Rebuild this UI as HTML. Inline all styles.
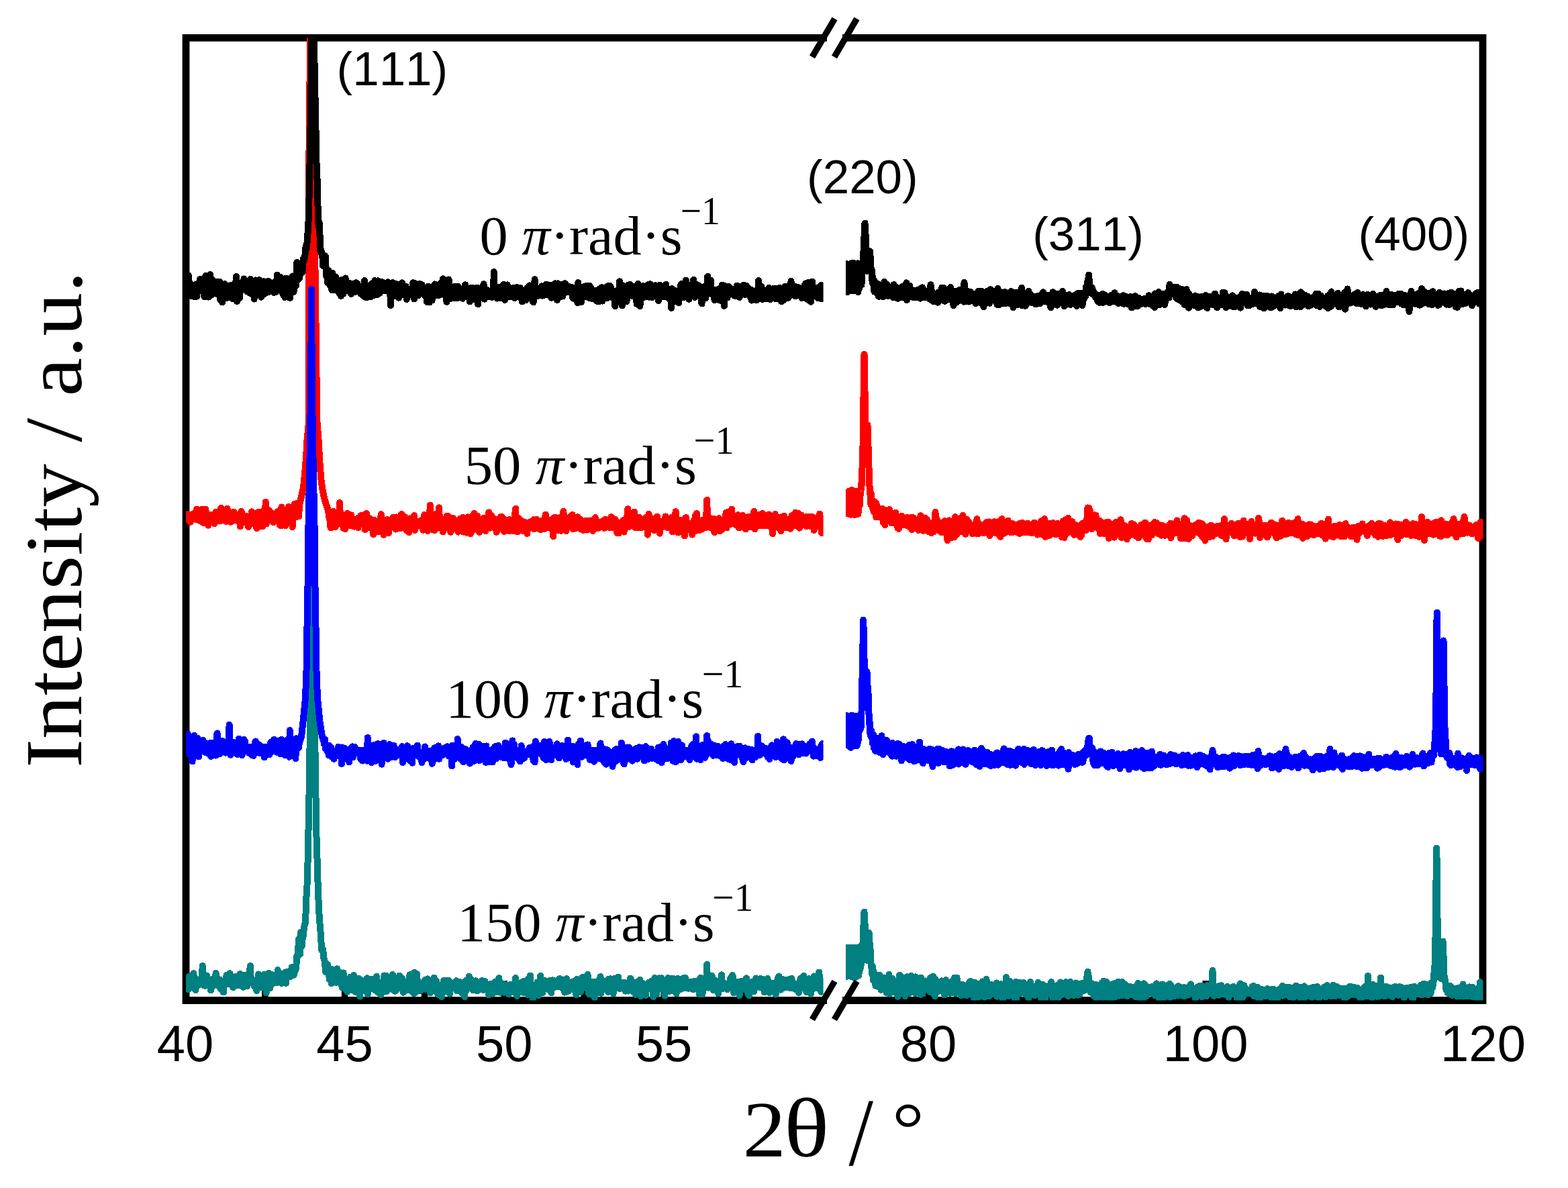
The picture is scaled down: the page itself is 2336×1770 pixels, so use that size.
<!DOCTYPE html>
<html><head><meta charset="utf-8"><title>XRD</title><style>html,body{margin:0;padding:0;background:#fff;overflow:hidden}svg{display:block;font-kerning:none}text{font-kerning:none;font-feature-settings:"kern" 0}.ax{font-family:"Liberation Sans",Arial,sans-serif}.sf{font-family:"Liberation Serif","Times New Roman",serif}</style></head><body>
<svg width="2336" height="1770" viewBox="0 0 2336 1770">
<rect width="2336" height="1770" fill="#fff"/>
<defs><clipPath id="cl"><rect x="277.0" y="56.3" width="949.6" height="1434.2"/></clipPath><clipPath id="cr"><rect x="1260.0" y="56.3" width="949.5" height="1434.2"/></clipPath></defs>
<path d="M271.6 56.3H1232.0M1255.0 56.3H2214.4M271.6 1490.5H1232.0M1255.0 1490.5H2214.4M277.0 56.3V1490.5M2209.0 56.3V1490.5" stroke="#000" stroke-width="10.8" fill="none"/>
<path d="M513.6 1490.5V1461.1M751.3 1490.5V1461.1M989.0 1490.5V1461.1M394.8 1490.5V1476.1M632.5 1490.5V1476.1M870.1 1490.5V1476.1M1107.8 1490.5V1476.1M1383.0 1490.5V1461.1M1796.2 1490.5V1461.1M1589.6 1490.5V1476.1M2002.9 1490.5V1476.1" stroke="#000" stroke-width="9.5" fill="none"/>
<g fill="none" stroke-width="10" stroke-linejoin="round" stroke-linecap="butt" shape-rendering="crispEdges">
<polyline clip-path="url(#cl)" stroke="#ff0000" points="277.0,763.8 277.9,766.4 278.9,766.1 279.8,773.4 280.8,769.8 281.7,772.4 282.7,777.5 283.6,777.6 284.6,774.9 285.5,768.5 286.5,766.3 287.4,765.9 288.4,769.2 289.3,771.3 290.3,764.9 291.2,763.7 292.2,773.8 293.1,758.7 294.1,770.5 295.0,774.7 296.0,764.8 296.9,764.0 297.9,766.4 298.8,776.3 299.8,770.9 300.7,758.7 301.7,768.8 302.6,778.9 303.6,778.7 304.5,776.2 305.5,770.2 306.4,759.0 307.4,773.1 308.3,770.7 309.3,772.4 310.2,782.7 311.2,773.2 312.1,773.9 313.1,776.2 314.0,770.2 315.0,767.3 315.9,766.8 316.9,777.4 317.8,775.5 318.8,768.6 319.7,780.1 320.7,773.3 321.6,762.7 322.6,776.3 323.5,771.1 324.5,762.8 325.4,775.7 326.4,769.7 327.3,769.4 328.3,776.3 329.2,756.8 330.2,763.2 331.1,769.2 332.1,773.9 333.0,767.5 334.0,765.2 334.9,764.9 335.9,771.4 336.8,777.0 337.8,762.1 338.7,757.7 339.7,770.2 340.6,769.6 341.6,765.9 342.5,776.6 343.5,777.9 344.4,768.4 345.4,769.9 346.3,776.3 347.3,769.4 348.2,762.6 349.2,771.9 350.1,766.1 351.1,774.7 352.0,768.9 353.0,771.1 353.9,776.1 354.9,771.6 355.8,768.0 356.8,765.5 357.7,784.5 358.7,780.2 359.6,762.0 360.6,765.2 361.5,776.6 362.5,768.4 363.4,772.7 364.4,778.3 365.3,773.5 366.3,771.7 367.2,769.3 368.2,772.0 369.1,775.3 370.1,784.8 371.0,780.1 372.0,771.3 372.9,779.1 373.9,773.5 374.8,762.4 375.8,772.0 376.7,779.7 377.7,768.6 378.6,779.3 379.6,770.6 380.5,773.0 381.5,764.5 382.4,787.2 383.4,776.0 384.3,779.9 385.3,769.7 386.2,762.6 387.2,781.3 388.1,767.9 389.1,784.4 390.0,771.7 391.0,784.2 391.9,767.8 392.9,760.6 393.8,777.8 394.8,772.5 395.7,748.0 396.7,780.3 397.6,766.8 398.6,764.0 399.5,764.9 400.5,761.3 401.4,760.4 402.4,764.1 403.3,766.3 404.3,769.9 405.2,764.6 406.2,772.0 407.1,778.2 408.1,771.3 409.0,775.8 410.0,766.4 410.9,774.8 411.9,775.9 412.8,768.1 413.8,761.9 414.7,771.2 415.7,772.3 416.6,782.2 417.6,769.4 418.5,783.5 419.5,755.4 420.4,769.9 421.4,768.5 422.3,769.2 423.3,768.1 424.2,771.4 425.2,783.0 426.1,770.6 427.1,779.8 428.0,770.8 429.0,772.1 429.9,754.9 430.9,771.8 431.8,775.2 432.8,763.1 433.7,766.6 434.7,764.7 435.6,785.0 436.6,763.4 437.5,765.0 438.5,751.0 439.4,758.6 440.4,770.6 441.3,760.1 442.3,749.6 443.2,766.3 444.2,768.7 445.1,769.5 446.0,752.0 449.0,740.0 452.0,726.0 454.0,706.0 456.0,682.0 457.5,655.0 459.5,635.0 460.2,560.0 460.3,420.0 460.2,250.0 460.9,193.0 461.2,145.0 461.8,100.0 462.0,20.0 465.0,20.0 466.0,100.0 467.0,250.0 469.5,400.0 471.5,560.0 472.4,628.0 474.5,655.0 476.5,690.0 478.5,715.0 480.5,730.0 483.0,742.0 486.0,752.0 489.0,760.0 489.8,766.7 490.7,773.1 491.7,775.5 492.6,786.4 493.6,774.5 494.5,778.4 495.5,774.4 496.4,761.7 497.4,784.7 498.3,781.1 499.3,785.3 500.2,767.5 501.2,779.0 502.1,778.4 503.1,766.5 504.0,780.6 505.0,773.3 505.9,749.0 506.9,766.2 507.8,771.6 508.8,772.8 509.7,767.3 510.7,778.2 511.6,786.8 512.6,777.7 513.5,782.2 514.5,788.1 515.4,781.8 516.4,775.4 517.3,764.8 518.3,780.4 519.2,775.8 520.2,774.9 521.1,783.1 522.1,781.9 523.0,767.3 524.0,779.8 524.9,775.9 525.9,784.0 526.8,778.0 527.8,784.6 528.7,773.6 529.7,775.5 530.6,774.5 531.6,777.0 532.5,776.6 533.5,786.4 534.4,771.5 535.4,778.9 536.3,770.3 537.3,768.4 538.2,774.2 539.2,767.9 540.1,779.5 541.1,773.3 542.0,774.7 543.0,781.5 543.9,789.1 544.9,774.7 545.8,764.9 546.8,775.7 547.7,778.4 548.7,786.2 549.6,778.2 550.6,772.4 551.5,784.9 552.5,786.0 553.4,777.3 554.4,780.6 555.3,781.1 556.3,796.4 557.2,774.5 558.2,775.9 559.1,778.1 560.1,783.7 561.0,776.7 562.0,782.3 562.9,785.0 563.9,792.4 564.8,777.8 565.8,776.7 566.7,776.6 567.7,766.2 568.6,770.8 569.6,780.0 570.5,780.0 571.5,796.8 572.4,787.5 573.4,784.3 574.3,789.1 575.3,774.6 576.2,775.1 577.2,773.9 578.1,777.9 579.1,793.9 580.0,777.3 581.0,774.7 581.9,779.4 582.9,784.9 583.8,782.4 584.8,785.0 585.7,770.9 586.7,773.2 587.6,777.6 588.6,779.9 589.5,788.6 590.5,770.5 591.4,783.7 592.4,777.7 593.3,783.5 594.3,774.8 595.2,769.7 596.2,787.5 597.1,781.4 598.1,766.0 599.0,784.2 600.0,772.5 600.9,778.7 601.9,779.3 602.8,770.1 603.8,787.0 604.7,775.8 605.7,790.6 606.6,782.8 607.6,783.0 608.5,781.3 609.5,793.1 610.4,772.4 611.4,774.1 612.3,775.0 613.3,787.4 614.2,786.8 615.2,780.1 616.1,781.4 617.1,768.2 618.0,789.8 619.0,778.1 619.9,780.5 620.9,777.5 621.8,784.2 622.8,778.2 623.7,780.5 624.7,780.3 625.6,776.2 626.6,775.5 627.5,782.4 628.5,782.4 629.4,784.8 630.4,789.8 631.3,771.3 632.3,767.1 633.2,777.0 634.2,788.6 635.1,779.5 636.1,767.3 637.0,790.8 638.0,783.3 638.9,769.5 639.9,774.1 640.8,752.5 641.8,776.1 642.7,779.0 643.7,783.5 644.6,780.0 645.6,789.6 646.5,778.6 647.5,790.3 648.4,775.9 649.4,771.9 650.3,765.5 651.3,774.0 652.2,780.6 653.2,786.6 654.1,756.3 655.1,779.7 656.0,773.3 657.0,784.9 657.9,776.5 658.9,782.1 659.8,792.5 660.8,780.8 661.7,778.9 662.7,786.9 663.6,782.1 664.6,778.7 665.5,769.0 666.5,777.7 667.4,768.6 668.4,781.5 669.3,784.1 670.3,780.6 671.2,792.8 672.2,772.3 673.1,783.0 674.1,780.4 675.0,772.0 676.0,783.6 676.9,785.9 677.9,787.9 678.8,779.0 679.8,784.6 680.7,775.7 681.7,790.5 682.6,792.6 683.6,781.4 684.5,781.9 685.5,773.0 686.4,780.5 687.4,777.8 688.3,781.9 689.3,770.7 690.2,792.6 691.2,781.7 692.1,787.9 693.1,783.8 694.0,778.5 695.0,793.7 695.9,788.2 696.9,770.3 697.8,780.4 698.8,778.9 699.7,775.0 700.7,795.4 701.6,772.2 702.6,791.0 703.5,768.7 704.5,790.0 705.4,776.9 706.4,765.1 707.3,782.4 708.3,783.9 709.2,774.3 710.2,788.0 711.1,769.0 712.1,788.4 713.0,784.7 714.0,793.0 714.9,777.9 715.9,786.7 716.8,776.6 717.8,786.3 718.7,782.4 719.7,786.2 720.6,771.9 721.6,784.1 722.5,783.2 723.5,791.1 724.4,778.4 725.4,779.5 726.3,785.1 727.3,784.3 728.2,763.4 729.2,778.8 730.1,786.6 731.1,778.3 732.0,768.0 733.0,778.3 733.9,780.5 734.9,774.0 735.8,781.2 736.8,773.1 737.7,779.3 738.7,781.2 739.6,792.8 740.6,783.0 741.5,789.3 742.5,782.1 743.4,772.8 744.4,772.7 745.3,786.0 746.3,769.6 747.2,769.6 748.2,786.8 749.1,775.0 750.1,772.7 751.0,791.9 752.0,774.6 752.9,784.7 753.9,780.3 754.8,781.5 755.8,780.9 756.7,787.5 757.7,790.7 758.6,774.1 759.6,791.0 760.5,779.1 761.5,779.4 762.4,785.2 763.4,776.8 764.3,774.2 765.3,790.9 766.2,776.6 767.2,766.0 768.1,758.0 769.1,782.7 770.0,779.5 771.0,792.4 771.9,772.5 772.9,772.2 773.8,780.8 774.8,789.7 775.7,790.2 776.7,780.8 777.6,776.2 778.6,781.5 779.5,791.0 780.5,780.1 781.4,777.6 782.4,783.7 783.3,782.0 784.3,781.4 785.2,794.9 786.2,785.2 787.1,781.5 788.1,778.3 789.0,778.9 790.0,784.2 790.9,785.7 791.9,776.4 792.8,777.1 793.8,778.9 794.7,774.3 795.7,788.2 796.6,774.6 797.6,781.8 798.5,787.5 799.5,774.0 800.4,774.9 801.4,779.8 802.3,784.2 803.3,782.0 804.2,781.1 805.2,789.3 806.1,776.9 807.1,776.1 808.0,785.2 809.0,781.6 809.9,787.3 810.9,788.2 811.8,773.3 812.8,766.5 813.7,784.6 814.7,780.5 815.6,782.7 816.6,774.6 817.5,786.3 818.5,779.3 819.4,784.6 820.4,787.1 821.3,781.6 822.3,780.2 823.2,776.1 824.2,799.2 825.1,771.5 826.1,785.7 827.0,770.6 828.0,775.2 828.9,790.5 829.9,775.8 830.8,788.1 831.8,778.2 832.7,786.8 833.7,771.2 834.6,773.1 835.6,790.8 836.5,783.1 837.5,773.7 838.4,777.5 839.4,761.7 840.3,778.5 841.3,771.6 842.2,774.1 843.2,791.0 844.1,776.9 845.1,776.4 846.0,773.0 847.0,785.2 847.9,784.4 848.9,774.9 849.8,769.3 850.8,779.2 851.7,781.5 852.7,767.0 853.6,788.4 854.6,774.3 855.5,781.2 856.5,775.2 857.4,775.3 858.4,786.9 859.3,781.2 860.3,770.2 861.2,782.9 862.2,786.2 863.1,779.4 864.1,787.9 865.0,774.2 866.0,787.1 866.9,782.1 867.9,781.7 868.8,790.0 869.8,785.3 870.7,778.4 871.7,784.0 872.6,775.9 873.6,784.0 874.5,789.6 875.5,788.9 876.4,775.8 877.4,779.0 878.3,785.0 879.3,784.6 880.2,775.5 881.2,782.1 882.1,783.2 883.1,791.0 884.0,782.2 885.0,780.0 885.9,773.2 886.9,771.2 887.8,786.9 888.8,781.1 889.7,777.5 890.7,787.3 891.6,783.9 892.6,779.9 893.5,785.5 894.5,777.8 895.4,785.5 896.4,783.2 897.3,777.7 898.3,778.0 899.2,775.6 900.2,786.8 901.1,779.7 902.1,773.7 903.0,785.6 904.0,784.0 904.9,780.7 905.9,782.1 906.8,778.1 907.8,776.6 908.7,786.5 909.7,772.9 910.6,770.1 911.6,771.5 912.5,786.5 913.5,773.3 914.4,778.7 915.4,775.6 916.3,773.6 917.3,779.4 918.2,779.7 919.2,793.9 920.1,778.2 921.1,782.3 922.0,794.3 923.0,790.3 923.9,784.9 924.9,786.8 925.8,780.5 926.8,786.4 927.7,782.6 928.7,775.1 929.6,792.6 930.6,780.7 931.5,784.7 932.5,777.3 933.4,772.5 934.4,768.8 935.3,758.3 936.3,784.9 937.2,768.8 938.2,777.1 939.1,780.7 940.1,770.6 941.0,777.2 942.0,783.3 942.9,779.0 943.9,784.6 944.8,762.6 945.8,784.7 946.7,786.5 947.7,771.5 948.6,785.9 949.6,778.0 950.5,779.0 951.5,784.5 952.4,770.6 953.4,786.3 954.3,775.8 955.3,786.0 956.2,780.2 957.2,782.6 958.1,775.1 959.1,780.5 960.0,772.8 961.0,776.0 961.9,771.1 962.9,780.2 963.8,773.9 964.8,796.7 965.7,774.7 966.7,765.9 967.6,788.3 968.6,778.2 969.5,784.0 970.5,781.1 971.4,775.3 972.4,776.6 973.3,773.3 974.3,790.3 975.2,785.1 976.2,771.7 977.1,787.3 978.1,784.6 979.0,769.5 980.0,775.0 980.9,783.3 981.9,782.5 982.8,794.6 983.8,780.6 984.7,787.0 985.7,777.3 986.6,779.8 987.6,780.6 988.5,780.1 989.5,782.0 990.4,781.1 991.4,769.4 992.3,785.3 993.3,772.8 994.2,786.2 995.2,785.0 996.1,785.3 997.1,776.5 998.0,782.6 999.0,785.5 999.9,777.0 1000.9,770.5 1001.8,792.3 1002.8,779.0 1003.7,777.2 1004.7,773.7 1005.6,772.1 1006.6,762.2 1007.5,773.1 1008.5,773.0 1009.4,774.5 1010.4,793.6 1011.3,779.6 1012.3,777.7 1013.2,780.9 1014.2,775.1 1015.1,789.3 1016.1,788.8 1017.0,775.2 1018.0,787.2 1018.9,785.6 1019.9,798.5 1020.8,789.0 1021.8,770.9 1022.7,777.6 1023.7,785.9 1024.6,784.3 1025.6,788.9 1026.5,779.4 1027.5,782.1 1028.4,790.3 1029.4,784.4 1030.3,780.1 1031.3,796.6 1032.2,779.7 1033.2,781.3 1034.1,774.3 1035.1,782.0 1036.0,768.4 1037.0,790.7 1037.9,765.0 1038.9,786.0 1039.8,774.2 1040.8,782.4 1041.7,790.3 1042.7,780.0 1043.6,783.3 1044.6,775.5 1045.5,777.7 1046.5,788.1 1047.4,774.7 1048.4,785.7 1049.3,781.0 1050.3,776.9 1051.2,786.2 1052.2,773.1 1053.1,745.0 1054.1,770.5 1055.0,777.8 1056.0,770.7 1056.9,780.7 1057.9,785.6 1058.8,786.3 1059.8,782.3 1060.7,781.0 1061.7,776.2 1062.6,776.7 1063.6,772.8 1064.5,793.3 1065.5,778.6 1066.4,778.2 1067.4,780.1 1068.3,773.5 1069.3,790.2 1070.2,775.9 1071.2,772.3 1072.1,791.1 1073.1,787.1 1074.0,783.5 1075.0,775.7 1075.9,788.8 1076.9,778.9 1077.8,780.7 1078.8,786.6 1079.7,780.0 1080.7,775.6 1081.6,764.0 1082.6,786.4 1083.5,763.2 1084.5,773.2 1085.4,772.1 1086.4,774.4 1087.3,775.2 1088.3,781.0 1089.2,775.5 1090.2,758.6 1091.1,777.4 1092.1,769.3 1093.0,774.5 1094.0,768.6 1094.9,776.3 1095.9,775.3 1096.8,782.6 1097.8,780.2 1098.7,783.7 1099.7,767.2 1100.6,786.5 1101.6,773.7 1102.5,780.1 1103.5,781.7 1104.4,782.3 1105.4,776.3 1106.3,767.7 1107.3,782.8 1108.2,786.0 1109.2,785.4 1110.1,785.2 1111.1,788.5 1112.0,783.8 1113.0,774.8 1113.9,782.5 1114.9,770.0 1115.8,777.1 1116.8,778.2 1117.7,784.9 1118.7,775.3 1119.6,775.8 1120.6,773.7 1121.5,780.6 1122.5,765.6 1123.4,761.9 1124.4,788.5 1125.3,785.4 1126.3,781.5 1127.2,779.5 1128.2,772.9 1129.1,766.8 1130.1,779.8 1131.0,769.3 1132.0,783.3 1132.9,778.6 1133.9,767.3 1134.8,778.5 1135.8,764.9 1136.7,771.9 1137.7,783.1 1138.6,771.9 1139.6,774.7 1140.5,772.3 1141.5,773.1 1142.4,783.2 1143.4,779.8 1144.3,780.1 1145.3,766.4 1146.2,775.1 1147.2,771.8 1148.1,777.8 1149.1,770.1 1150.0,783.5 1151.0,795.1 1151.9,778.0 1152.9,773.2 1153.8,782.4 1154.8,766.0 1155.7,773.4 1156.7,782.8 1157.6,774.5 1158.6,776.8 1159.5,786.2 1160.5,778.5 1161.4,780.8 1162.4,770.5 1163.3,791.3 1164.3,774.4 1165.2,780.0 1166.2,777.5 1167.1,776.6 1168.1,768.6 1169.0,775.1 1170.0,777.6 1170.9,786.3 1171.9,778.0 1172.8,774.0 1173.8,778.3 1174.7,778.1 1175.7,776.2 1176.6,778.6 1177.6,787.8 1178.5,776.9 1179.5,768.2 1180.4,773.2 1181.4,774.8 1182.3,771.9 1183.3,777.8 1184.2,783.0 1185.2,763.5 1186.1,769.3 1187.1,773.4 1188.0,780.9 1189.0,764.5 1189.9,783.2 1190.9,786.7 1191.8,784.5 1192.8,778.1 1193.7,767.7 1194.7,773.0 1195.6,772.1 1196.6,777.1 1197.5,782.4 1198.5,780.2 1199.4,770.4 1200.4,782.8 1201.3,784.2 1202.3,769.9 1203.2,769.8 1204.2,773.0 1205.1,778.5 1206.1,769.5 1207.0,784.1 1208.0,777.3 1208.9,781.6 1209.9,772.3 1210.8,770.3 1211.8,778.9 1212.7,789.9 1213.7,781.5 1214.6,785.3 1215.6,773.4 1216.5,772.4 1217.5,776.2 1218.4,780.3 1219.4,776.5 1220.3,768.2 1221.3,765.5 1222.2,777.8 1223.2,774.8 1224.1,794.1 1225.1,771.9 1226.0,769.3"/>
<polyline clip-path="url(#cr)" stroke="#ff0000" points="1260.0,735.7 1260.5,765.1 1261.0,735.6 1261.5,764.9 1262.0,733.4 1262.5,764.7 1263.0,733.3 1263.5,764.8 1264.0,736.1 1264.5,763.3 1265.0,731.5 1265.5,765.0 1266.0,736.5 1266.5,766.6 1267.0,736.0 1267.5,766.9 1268.0,732.9 1268.5,765.2 1269.0,730.0 1269.5,764.1 1270.0,734.9 1270.5,762.7 1271.0,730.9 1271.5,763.1 1272.0,734.4 1272.5,766.8 1273.0,737.9 1273.5,767.2 1274.0,731.8 1274.5,761.6 1275.0,734.3 1275.5,766.6 1276.0,731.6 1276.5,764.3 1277.0,733.4 1277.5,765.1 1278.0,733.8 1278.5,765.8 1279.0,735.7 1279.5,747.5 1280.0,752.7 1280.5,750.2 1281.0,752.6 1281.5,736.8 1282.0,736.8 1282.5,731.5 1283.0,721.1 1283.5,724.3 1284.0,717.1 1284.5,697.5 1285.0,691.8 1285.5,664.9 1286.0,632.0 1286.5,591.9 1287.0,557.9 1287.5,527.8 1288.0,551.1 1288.5,582.7 1289.0,602.4 1289.5,638.5 1290.0,649.7 1290.5,660.8 1291.0,652.0 1291.5,647.0 1292.0,641.3 1292.5,633.6 1293.0,651.4 1293.5,664.6 1294.0,686.3 1294.5,696.6 1295.0,718.0 1295.5,724.9 1296.0,727.8 1296.5,737.7 1297.0,745.4 1297.5,751.7 1298.0,735.8 1298.5,751.5 1299.0,750.9 1299.5,749.3 1300.0,745.5 1300.5,759.2 1301.0,746.5 1301.5,757.5 1302.0,762.4 1302.5,747.3 1303.0,755.2 1303.5,750.3 1304.0,759.5 1304.5,767.0 1305.0,770.4 1305.5,750.0 1306.0,757.1 1306.5,764.5 1307.0,769.8 1307.5,763.8 1308.0,757.8 1308.5,763.9 1309.0,762.6 1309.5,761.9 1310.0,759.3 1310.5,765.8 1311.0,765.7 1311.5,763.8 1312.0,763.4 1312.5,757.8 1313.0,762.5 1313.5,772.1 1314.0,764.7 1314.5,758.1 1315.0,773.6 1315.5,769.5 1316.0,778.4 1316.5,767.4 1317.0,764.8 1317.5,759.6 1318.0,775.1 1318.5,782.2 1319.0,763.8 1319.5,765.0 1320.0,772.1 1320.5,764.5 1321.0,767.8 1321.5,767.5 1322.0,770.7 1322.5,775.9 1323.0,770.2 1323.5,775.3 1324.0,768.2 1324.5,772.5 1325.0,759.1 1325.5,763.1 1326.0,775.6 1326.5,768.2 1327.0,774.8 1327.5,774.8 1328.0,779.3 1328.5,776.7 1329.0,778.0 1329.5,772.0 1330.0,769.0 1330.5,769.0 1331.0,770.5 1331.5,767.2 1332.0,770.6 1332.5,773.3 1333.0,775.3 1333.5,772.3 1334.0,763.8 1334.5,774.1 1335.0,776.0 1335.5,780.9 1336.0,778.3 1336.5,771.7 1337.0,771.5 1337.5,786.7 1338.0,780.0 1338.5,786.1 1339.0,787.9 1339.5,771.9 1340.0,778.7 1340.5,779.2 1341.0,779.8 1341.5,779.8 1342.0,778.0 1342.5,777.9 1343.0,768.8 1343.5,776.2 1344.0,773.1 1344.5,777.9 1345.0,774.7 1345.5,780.8 1346.0,781.9 1346.5,779.2 1347.0,779.3 1347.5,778.2 1348.0,775.3 1348.5,776.9 1349.0,775.2 1349.5,780.1 1350.0,778.1 1350.5,781.3 1351.0,770.9 1351.5,783.1 1352.0,774.1 1352.5,774.4 1353.0,777.4 1353.5,775.4 1354.0,780.2 1354.5,775.5 1355.0,772.9 1355.5,774.2 1356.0,786.1 1356.5,779.2 1357.0,772.6 1357.5,779.1 1358.0,770.6 1358.5,789.0 1359.0,770.9 1359.5,782.0 1360.0,782.4 1360.5,771.6 1361.0,781.2 1361.5,785.1 1362.0,782.3 1362.5,781.2 1363.0,785.1 1363.5,780.8 1364.0,781.8 1364.5,779.4 1365.0,783.6 1365.5,775.0 1366.0,784.6 1366.5,777.6 1367.0,774.4 1367.5,782.5 1368.0,789.8 1368.5,785.9 1369.0,777.9 1369.5,784.6 1370.0,778.3 1370.5,780.2 1371.0,781.5 1371.5,768.3 1372.0,782.2 1372.5,775.5 1373.0,777.4 1373.5,773.2 1374.0,773.1 1374.5,776.3 1375.0,786.0 1375.5,790.7 1376.0,781.5 1376.5,787.7 1377.0,780.3 1377.5,771.4 1378.0,782.7 1378.5,784.4 1379.0,779.7 1379.5,783.8 1380.0,785.3 1380.5,777.5 1381.0,774.2 1381.5,781.2 1382.0,781.3 1382.5,780.6 1383.0,788.0 1383.5,792.1 1384.0,780.5 1384.5,786.6 1385.0,788.0 1385.5,786.8 1386.0,788.7 1386.5,780.9 1387.0,787.2 1387.5,794.3 1388.0,787.7 1388.5,780.0 1389.0,786.7 1389.5,790.4 1390.0,785.6 1390.5,780.5 1391.0,792.1 1391.5,776.9 1392.0,786.6 1392.5,783.8 1393.0,777.4 1393.5,763.0 1394.0,786.0 1394.5,777.8 1395.0,787.5 1395.5,781.9 1396.0,774.0 1396.5,780.7 1397.0,785.9 1397.5,788.0 1398.0,785.5 1398.5,784.9 1399.0,787.3 1399.5,783.7 1400.0,791.3 1400.5,785.7 1401.0,786.5 1401.5,787.9 1402.0,779.2 1402.5,781.1 1403.0,793.3 1403.5,786.8 1404.0,783.4 1404.5,786.9 1405.0,782.4 1405.5,786.5 1406.0,781.4 1406.5,786.6 1407.0,776.4 1407.5,792.3 1408.0,782.3 1408.5,776.4 1409.0,783.9 1409.5,783.1 1410.0,786.0 1410.5,778.9 1411.0,787.3 1411.5,805.0 1412.0,778.2 1412.5,787.0 1413.0,783.5 1413.5,786.2 1414.0,775.3 1414.5,778.9 1415.0,787.7 1415.5,785.0 1416.0,794.2 1416.5,781.4 1417.0,786.2 1417.5,801.2 1418.0,781.1 1418.5,780.4 1419.0,785.1 1419.5,785.1 1420.0,789.9 1420.5,786.0 1421.0,781.2 1421.5,786.5 1422.0,799.8 1422.5,792.3 1423.0,770.2 1423.5,784.6 1424.0,780.6 1424.5,788.8 1425.0,784.5 1425.5,796.0 1426.0,790.5 1426.5,790.3 1427.0,786.5 1427.5,785.3 1428.0,787.4 1428.5,792.6 1429.0,788.4 1429.5,783.6 1430.0,792.5 1430.5,786.6 1431.0,785.1 1431.5,781.2 1432.0,782.5 1432.5,782.1 1433.0,770.3 1433.5,791.2 1434.0,788.7 1434.5,768.0 1435.0,791.4 1435.5,788.0 1436.0,787.7 1436.5,772.2 1437.0,784.4 1437.5,788.6 1438.0,794.5 1438.5,795.8 1439.0,793.5 1439.5,779.4 1440.0,773.7 1440.5,788.9 1441.0,785.9 1441.5,791.0 1442.0,785.1 1442.5,787.0 1443.0,777.6 1443.5,788.3 1444.0,783.4 1444.5,787.7 1445.0,788.4 1445.5,785.2 1446.0,787.6 1446.5,785.8 1447.0,790.0 1447.5,788.6 1448.0,782.9 1448.5,782.7 1449.0,795.4 1449.5,785.4 1450.0,791.4 1450.5,788.1 1451.0,782.9 1451.5,781.9 1452.0,786.6 1452.5,787.4 1453.0,789.4 1453.5,779.1 1454.0,782.8 1454.5,785.5 1455.0,794.8 1455.5,773.2 1456.0,788.5 1456.5,783.1 1457.0,788.4 1457.5,783.4 1458.0,788.1 1458.5,794.7 1459.0,788.1 1459.5,788.5 1460.0,788.2 1460.5,782.1 1461.0,789.1 1461.5,785.0 1462.0,781.8 1462.5,786.0 1463.0,785.0 1463.5,790.3 1464.0,786.0 1464.5,783.4 1465.0,794.2 1465.5,791.7 1466.0,793.2 1466.5,789.6 1467.0,785.7 1467.5,784.0 1468.0,784.8 1468.5,791.5 1469.0,786.9 1469.5,778.3 1470.0,786.1 1470.5,778.6 1471.0,787.3 1471.5,779.8 1472.0,779.5 1472.5,787.1 1473.0,786.0 1473.5,777.4 1474.0,790.5 1474.5,798.2 1475.0,778.4 1475.5,796.4 1476.0,782.7 1476.5,783.8 1477.0,785.5 1477.5,778.6 1478.0,793.6 1478.5,789.2 1479.0,782.4 1479.5,785.0 1480.0,778.3 1480.5,784.7 1481.0,791.7 1481.5,777.2 1482.0,784.2 1482.5,787.4 1483.0,792.3 1483.5,794.0 1484.0,784.1 1484.5,782.6 1485.0,789.1 1485.5,784.7 1486.0,785.0 1486.5,792.6 1487.0,795.9 1487.5,788.2 1488.0,785.7 1488.5,789.8 1489.0,776.4 1489.5,786.6 1490.0,781.0 1490.5,799.8 1491.0,790.7 1491.5,787.6 1492.0,785.7 1492.5,773.1 1493.0,790.7 1493.5,795.7 1494.0,782.9 1494.5,790.6 1495.0,790.8 1495.5,778.4 1496.0,792.0 1496.5,794.3 1497.0,788.1 1497.5,786.6 1498.0,791.2 1498.5,778.5 1499.0,787.4 1499.5,792.7 1500.0,780.2 1500.5,792.4 1501.0,784.7 1501.5,775.6 1502.0,786.4 1502.5,781.7 1503.0,788.7 1503.5,780.6 1504.0,792.7 1504.5,783.0 1505.0,788.9 1505.5,783.8 1506.0,785.3 1506.5,793.5 1507.0,788.2 1507.5,784.9 1508.0,780.2 1508.5,793.4 1509.0,791.0 1509.5,785.3 1510.0,788.4 1510.5,781.5 1511.0,781.5 1511.5,782.6 1512.0,789.0 1512.5,788.7 1513.0,783.0 1513.5,791.1 1514.0,791.4 1514.5,788.0 1515.0,792.8 1515.5,785.5 1516.0,786.5 1516.5,789.7 1517.0,786.9 1517.5,791.5 1518.0,780.3 1518.5,794.9 1519.0,782.9 1519.5,786.3 1520.0,779.7 1520.5,790.4 1521.0,794.1 1521.5,793.0 1522.0,791.7 1522.5,778.7 1523.0,782.9 1523.5,784.7 1524.0,782.1 1524.5,793.3 1525.0,788.2 1525.5,787.1 1526.0,789.9 1526.5,782.0 1527.0,782.3 1527.5,782.4 1528.0,789.9 1528.5,789.1 1529.0,790.4 1529.5,793.1 1530.0,779.9 1530.5,784.2 1531.0,788.1 1531.5,779.9 1532.0,784.4 1532.5,792.8 1533.0,793.3 1533.5,793.1 1534.0,787.5 1534.5,786.1 1535.0,793.2 1535.5,785.3 1536.0,789.1 1536.5,794.5 1537.0,785.3 1537.5,784.0 1538.0,787.3 1538.5,790.6 1539.0,790.0 1539.5,788.2 1540.0,790.4 1540.5,778.6 1541.0,782.7 1541.5,788.2 1542.0,782.3 1542.5,780.1 1543.0,780.8 1543.5,782.4 1544.0,786.4 1544.5,781.8 1545.0,788.7 1545.5,796.6 1546.0,786.6 1546.5,794.3 1547.0,789.0 1547.5,781.3 1548.0,786.0 1548.5,782.1 1549.0,791.6 1549.5,781.2 1550.0,794.6 1550.5,790.6 1551.0,776.4 1551.5,791.7 1552.0,795.9 1552.5,783.2 1553.0,792.8 1553.5,777.7 1554.0,788.8 1554.5,778.4 1555.0,790.1 1555.5,777.8 1556.0,773.2 1556.5,789.6 1557.0,799.9 1557.5,784.3 1558.0,792.0 1558.5,788.1 1559.0,785.7 1559.5,790.9 1560.0,796.4 1560.5,780.8 1561.0,790.6 1561.5,789.4 1562.0,779.8 1562.5,796.3 1563.0,798.1 1563.5,782.4 1564.0,797.0 1564.5,787.9 1565.0,786.7 1565.5,795.7 1566.0,788.8 1566.5,789.3 1567.0,795.8 1567.5,794.6 1568.0,792.4 1568.5,780.0 1569.0,779.0 1569.5,793.7 1570.0,782.5 1570.5,788.4 1571.0,781.8 1571.5,786.6 1572.0,780.6 1572.5,796.5 1573.0,782.1 1573.5,786.9 1574.0,786.6 1574.5,794.2 1575.0,779.9 1575.5,787.4 1576.0,786.5 1576.5,790.5 1577.0,790.2 1577.5,785.1 1578.0,788.9 1578.5,785.6 1579.0,790.2 1579.5,787.1 1580.0,784.1 1580.5,787.5 1581.0,789.6 1581.5,800.0 1582.0,785.0 1582.5,789.3 1583.0,795.6 1583.5,776.4 1584.0,778.2 1584.5,781.2 1585.0,787.0 1585.5,800.9 1586.0,789.8 1586.5,794.2 1587.0,786.4 1587.5,774.3 1588.0,775.1 1588.5,793.2 1589.0,788.6 1589.5,780.6 1590.0,793.7 1590.5,779.3 1591.0,793.8 1591.5,772.0 1592.0,783.5 1592.5,781.6 1593.0,792.2 1593.5,781.7 1594.0,792.3 1594.5,781.1 1595.0,792.0 1595.5,788.1 1596.0,785.2 1596.5,782.7 1597.0,788.9 1597.5,777.3 1598.0,786.0 1598.5,785.4 1599.0,791.2 1599.5,780.7 1600.0,796.8 1600.5,785.8 1601.0,781.3 1601.5,795.0 1602.0,796.5 1602.5,786.4 1603.0,782.5 1603.5,787.4 1604.0,783.6 1604.5,785.6 1605.0,795.7 1605.5,789.4 1606.0,788.0 1606.5,789.0 1607.0,786.8 1607.5,791.6 1608.0,791.8 1608.5,784.9 1609.0,787.4 1609.5,799.9 1610.0,788.9 1610.5,785.5 1611.0,797.5 1611.5,786.3 1612.0,780.1 1612.5,789.6 1613.0,780.8 1613.5,782.7 1614.0,786.9 1614.5,784.1 1615.0,780.2 1615.5,780.8 1616.0,780.0 1616.5,788.8 1617.0,777.6 1617.5,777.2 1618.0,789.9 1618.5,774.0 1619.0,782.8 1619.5,778.9 1620.0,767.4 1620.5,756.4 1621.0,762.5 1621.5,760.4 1622.0,760.7 1622.5,757.0 1623.0,766.3 1623.5,771.2 1624.0,761.8 1624.5,778.6 1625.0,774.5 1625.5,772.6 1626.0,775.4 1626.5,788.4 1627.0,784.3 1627.5,769.6 1628.0,779.8 1628.5,778.3 1629.0,777.4 1629.5,774.6 1630.0,768.1 1630.5,779.0 1631.0,767.4 1631.5,769.2 1632.0,767.5 1632.5,767.6 1633.0,777.3 1633.5,777.5 1634.0,773.9 1634.5,774.3 1635.0,778.4 1635.5,787.5 1636.0,783.9 1636.5,785.3 1637.0,782.9 1637.5,783.8 1638.0,786.8 1638.5,776.0 1639.0,795.0 1639.5,782.3 1640.0,783.7 1640.5,794.2 1641.0,788.3 1641.5,787.5 1642.0,784.2 1642.5,779.1 1643.0,788.6 1643.5,794.2 1644.0,782.9 1644.5,795.3 1645.0,781.8 1645.5,784.0 1646.0,790.8 1646.5,788.1 1647.0,791.9 1647.5,784.2 1648.0,782.7 1648.5,778.2 1649.0,781.8 1649.5,782.6 1650.0,780.7 1650.5,790.1 1651.0,784.9 1651.5,777.8 1652.0,802.0 1652.5,784.1 1653.0,781.8 1653.5,795.4 1654.0,795.0 1654.5,782.5 1655.0,780.7 1655.5,783.3 1656.0,794.9 1656.5,787.1 1657.0,784.4 1657.5,788.7 1658.0,795.4 1658.5,781.3 1659.0,786.8 1659.5,781.4 1660.0,800.7 1660.5,798.8 1661.0,794.1 1661.5,788.3 1662.0,792.6 1662.5,777.6 1663.0,790.5 1663.5,781.8 1664.0,781.9 1664.5,785.3 1665.0,787.2 1665.5,792.2 1666.0,792.9 1666.5,790.6 1667.0,784.0 1667.5,792.8 1668.0,788.5 1668.5,795.6 1669.0,784.2 1669.5,774.3 1670.0,786.7 1670.5,800.9 1671.0,791.8 1671.5,788.2 1672.0,794.1 1672.5,792.0 1673.0,791.8 1673.5,786.5 1674.0,789.8 1674.5,790.4 1675.0,785.9 1675.5,783.3 1676.0,790.1 1676.5,794.6 1677.0,792.9 1677.5,792.1 1678.0,792.2 1678.5,803.4 1679.0,790.9 1679.5,795.1 1680.0,800.1 1680.5,789.8 1681.0,790.9 1681.5,795.2 1682.0,798.7 1682.5,791.2 1683.0,791.5 1683.5,790.1 1684.0,783.1 1684.5,795.6 1685.0,788.2 1685.5,780.3 1686.0,788.9 1686.5,780.3 1687.0,784.2 1687.5,789.8 1688.0,784.7 1688.5,795.5 1689.0,781.8 1689.5,791.2 1690.0,792.8 1690.5,797.7 1691.0,794.8 1691.5,791.1 1692.0,790.2 1692.5,789.5 1693.0,796.0 1693.5,786.3 1694.0,792.7 1694.5,789.4 1695.0,791.2 1695.5,788.5 1696.0,801.5 1696.5,786.4 1697.0,791.3 1697.5,791.4 1698.0,793.2 1698.5,792.4 1699.0,792.3 1699.5,795.3 1700.0,781.9 1700.5,790.1 1701.0,783.3 1701.5,791.3 1702.0,783.6 1702.5,784.8 1703.0,789.7 1703.5,797.6 1704.0,793.1 1704.5,791.6 1705.0,797.6 1705.5,784.9 1706.0,778.7 1706.5,787.7 1707.0,788.5 1707.5,796.7 1708.0,801.6 1708.5,782.8 1709.0,803.4 1709.5,798.5 1710.0,794.6 1710.5,792.0 1711.0,803.1 1711.5,790.5 1712.0,787.5 1712.5,790.8 1713.0,782.6 1713.5,792.6 1714.0,789.4 1714.5,791.8 1715.0,792.0 1715.5,784.3 1716.0,797.1 1716.5,784.6 1717.0,794.8 1717.5,781.4 1718.0,792.0 1718.5,785.6 1719.0,790.3 1719.5,786.5 1720.0,778.2 1720.5,784.0 1721.0,790.4 1721.5,793.4 1722.0,782.1 1722.5,778.6 1723.0,785.3 1723.5,788.9 1724.0,786.6 1724.5,785.7 1725.0,794.6 1725.5,795.3 1726.0,794.1 1726.5,785.0 1727.0,790.5 1727.5,789.0 1728.0,782.3 1728.5,794.8 1729.0,790.5 1729.5,787.4 1730.0,797.7 1730.5,794.2 1731.0,794.7 1731.5,796.5 1732.0,793.9 1732.5,783.2 1733.0,788.0 1733.5,795.5 1734.0,785.9 1734.5,790.2 1735.0,792.2 1735.5,797.8 1736.0,797.1 1736.5,794.9 1737.0,789.0 1737.5,795.0 1738.0,792.9 1738.5,789.2 1739.0,797.4 1739.5,792.7 1740.0,786.0 1740.5,796.9 1741.0,788.7 1741.5,793.2 1742.0,781.8 1742.5,789.9 1743.0,784.9 1743.5,784.8 1744.0,779.7 1744.5,801.6 1745.0,789.2 1745.5,791.3 1746.0,796.0 1746.5,789.4 1747.0,792.8 1747.5,782.7 1748.0,791.1 1748.5,787.8 1749.0,792.7 1749.5,791.0 1750.0,782.5 1750.5,780.0 1751.0,784.5 1751.5,794.0 1752.0,792.3 1752.5,792.2 1753.0,779.1 1753.5,775.5 1754.0,786.7 1754.5,788.2 1755.0,786.8 1755.5,791.9 1756.0,789.1 1756.5,783.6 1757.0,785.3 1757.5,790.8 1758.0,790.4 1758.5,789.6 1759.0,802.2 1759.5,788.6 1760.0,790.6 1760.5,784.6 1761.0,788.1 1761.5,792.8 1762.0,793.1 1762.5,789.1 1763.0,792.1 1763.5,790.3 1764.0,779.8 1764.5,772.3 1765.0,802.4 1765.5,794.5 1766.0,789.7 1766.5,780.6 1767.0,783.1 1767.5,797.3 1768.0,774.9 1768.5,788.2 1769.0,794.7 1769.5,790.8 1770.0,794.1 1770.5,789.3 1771.0,802.9 1771.5,784.4 1772.0,782.6 1772.5,791.5 1773.0,797.7 1773.5,789.7 1774.0,795.6 1774.5,787.1 1775.0,783.6 1775.5,797.5 1776.0,798.4 1776.5,798.2 1777.0,787.6 1777.5,783.8 1778.0,783.7 1778.5,788.8 1779.0,793.1 1779.5,792.7 1780.0,782.3 1780.5,791.0 1781.0,790.1 1781.5,790.5 1782.0,789.9 1782.5,788.9 1783.0,793.2 1783.5,790.7 1784.0,791.2 1784.5,786.3 1785.0,792.1 1785.5,789.3 1786.0,778.6 1786.5,792.6 1787.0,788.6 1787.5,795.0 1788.0,789.1 1788.5,789.5 1789.0,791.1 1789.5,789.9 1790.0,787.6 1790.5,780.3 1791.0,799.9 1791.5,781.5 1792.0,788.1 1792.5,793.5 1793.0,792.0 1793.5,793.0 1794.0,794.1 1794.5,796.8 1795.0,791.6 1795.5,805.6 1796.0,784.5 1796.5,791.2 1797.0,788.0 1797.5,787.0 1798.0,791.5 1798.5,797.8 1799.0,786.2 1799.5,786.2 1800.0,793.9 1800.5,792.9 1801.0,800.5 1801.5,795.5 1802.0,791.2 1802.5,788.2 1803.0,791.1 1803.5,789.0 1804.0,782.6 1804.5,790.0 1805.0,789.0 1805.5,788.7 1806.0,787.7 1806.5,799.1 1807.0,793.7 1807.5,795.0 1808.0,786.7 1808.5,784.5 1809.0,788.5 1809.5,791.3 1810.0,788.1 1810.5,789.0 1811.0,795.2 1811.5,791.6 1812.0,784.7 1812.5,787.7 1813.0,786.4 1813.5,791.0 1814.0,783.7 1814.5,789.0 1815.0,793.7 1815.5,790.1 1816.0,785.1 1816.5,786.7 1817.0,790.7 1817.5,792.6 1818.0,794.5 1818.5,789.2 1819.0,782.9 1819.5,797.7 1820.0,791.6 1820.5,792.2 1821.0,791.6 1821.5,784.4 1822.0,788.3 1822.5,791.4 1823.0,795.5 1823.5,790.3 1824.0,773.2 1824.5,788.7 1825.0,791.9 1825.5,797.0 1826.0,793.8 1826.5,803.4 1827.0,797.7 1827.5,797.2 1828.0,795.1 1828.5,782.6 1829.0,794.5 1829.5,793.2 1830.0,787.2 1830.5,793.1 1831.0,792.2 1831.5,787.5 1832.0,789.3 1832.5,788.6 1833.0,791.2 1833.5,787.7 1834.0,792.9 1834.5,779.7 1835.0,788.5 1835.5,780.9 1836.0,787.4 1836.5,792.8 1837.0,790.1 1837.5,789.4 1838.0,790.4 1838.5,798.4 1839.0,784.0 1839.5,794.8 1840.0,781.9 1840.5,787.5 1841.0,790.9 1841.5,785.4 1842.0,791.1 1842.5,793.9 1843.0,783.6 1843.5,789.6 1844.0,788.0 1844.5,779.6 1845.0,789.0 1845.5,785.7 1846.0,797.2 1846.5,785.3 1847.0,799.1 1847.5,787.1 1848.0,800.4 1848.5,792.9 1849.0,792.4 1849.5,794.3 1850.0,794.8 1850.5,797.5 1851.0,799.3 1851.5,788.1 1852.0,783.3 1852.5,775.6 1853.0,787.9 1853.5,794.1 1854.0,792.0 1854.5,790.6 1855.0,788.1 1855.5,786.6 1856.0,788.5 1856.5,792.1 1857.0,780.5 1857.5,793.9 1858.0,782.2 1858.5,789.1 1859.0,786.6 1859.5,788.0 1860.0,784.4 1860.5,783.8 1861.0,788.7 1861.5,784.1 1862.0,803.2 1862.5,787.7 1863.0,786.4 1863.5,787.0 1864.0,784.2 1864.5,776.8 1865.0,788.6 1865.5,791.6 1866.0,781.9 1866.5,790.0 1867.0,783.5 1867.5,789.8 1868.0,791.9 1868.5,792.6 1869.0,792.3 1869.5,786.2 1870.0,794.7 1870.5,787.5 1871.0,791.8 1871.5,793.7 1872.0,788.3 1872.5,783.0 1873.0,793.2 1873.5,783.9 1874.0,785.2 1874.5,784.0 1875.0,772.0 1875.5,789.1 1876.0,777.9 1876.5,793.9 1877.0,801.1 1877.5,799.6 1878.0,786.9 1878.5,790.4 1879.0,792.7 1879.5,794.7 1880.0,790.1 1880.5,784.1 1881.0,794.0 1881.5,793.2 1882.0,782.8 1882.5,788.0 1883.0,791.4 1883.5,789.9 1884.0,792.7 1884.5,794.2 1885.0,792.8 1885.5,789.3 1886.0,782.7 1886.5,793.2 1887.0,797.5 1887.5,800.5 1888.0,789.7 1888.5,789.7 1889.0,797.7 1889.5,797.6 1890.0,791.8 1890.5,793.7 1891.0,785.8 1891.5,793.1 1892.0,785.5 1892.5,789.1 1893.0,789.3 1893.5,787.4 1894.0,778.6 1894.5,785.5 1895.0,791.7 1895.5,789.6 1896.0,787.8 1896.5,792.2 1897.0,793.6 1897.5,794.5 1898.0,785.6 1898.5,790.0 1899.0,788.1 1899.5,785.2 1900.0,781.9 1900.5,789.4 1901.0,785.2 1901.5,801.5 1902.0,789.4 1902.5,788.7 1903.0,787.8 1903.5,800.0 1904.0,784.9 1904.5,789.0 1905.0,785.8 1905.5,789.2 1906.0,789.7 1906.5,795.8 1907.0,782.3 1907.5,789.8 1908.0,798.6 1908.5,787.2 1909.0,789.0 1909.5,785.1 1910.0,775.9 1910.5,789.3 1911.0,796.2 1911.5,787.4 1912.0,780.0 1912.5,791.3 1913.0,790.3 1913.5,795.3 1914.0,794.8 1914.5,788.5 1915.0,792.0 1915.5,780.3 1916.0,795.9 1916.5,790.9 1917.0,795.7 1917.5,795.6 1918.0,788.4 1918.5,789.1 1919.0,785.2 1919.5,778.8 1920.0,789.2 1920.5,790.7 1921.0,784.1 1921.5,793.7 1922.0,790.4 1922.5,792.3 1923.0,785.8 1923.5,780.4 1924.0,794.1 1924.5,793.2 1925.0,789.3 1925.5,787.6 1926.0,788.4 1926.5,789.2 1927.0,787.2 1927.5,779.1 1928.0,794.1 1928.5,781.9 1929.0,788.1 1929.5,788.3 1930.0,791.3 1930.5,781.3 1931.0,796.4 1931.5,793.4 1932.0,794.0 1932.5,796.7 1933.0,785.6 1933.5,773.1 1934.0,791.7 1934.5,797.0 1935.0,796.2 1935.5,787.1 1936.0,789.5 1936.5,791.5 1937.0,780.3 1937.5,786.4 1938.0,786.5 1938.5,798.4 1939.0,786.5 1939.5,798.4 1940.0,790.0 1940.5,781.0 1941.0,801.9 1941.5,784.8 1942.0,793.3 1942.5,799.1 1943.0,787.1 1943.5,783.4 1944.0,795.6 1944.5,790.3 1945.0,783.4 1945.5,784.2 1946.0,787.9 1946.5,795.2 1947.0,788.5 1947.5,793.5 1948.0,798.8 1948.5,796.8 1949.0,797.7 1949.5,796.6 1950.0,781.4 1950.5,796.5 1951.0,791.8 1951.5,789.3 1952.0,784.2 1952.5,781.5 1953.0,784.0 1953.5,789.9 1954.0,783.7 1954.5,785.6 1955.0,786.7 1955.5,793.6 1956.0,788.4 1956.5,789.2 1957.0,797.1 1957.5,788.3 1958.0,793.2 1958.5,784.3 1959.0,791.8 1959.5,790.6 1960.0,790.9 1960.5,787.5 1961.0,784.5 1961.5,788.4 1962.0,787.5 1962.5,795.5 1963.0,794.9 1963.5,783.6 1964.0,793.4 1964.5,787.4 1965.0,792.5 1965.5,787.4 1966.0,782.1 1966.5,795.4 1967.0,792.4 1967.5,783.4 1968.0,779.9 1968.5,787.1 1969.0,783.7 1969.5,788.0 1970.0,793.3 1970.5,797.9 1971.0,788.1 1971.5,797.4 1972.0,796.2 1972.5,787.7 1973.0,781.1 1973.5,794.6 1974.0,793.3 1974.5,802.6 1975.0,797.7 1975.5,794.2 1976.0,799.0 1976.5,784.4 1977.0,791.0 1977.5,788.6 1978.0,799.3 1978.5,793.0 1979.0,773.7 1979.5,797.4 1980.0,785.2 1980.5,794.2 1981.0,787.5 1981.5,791.4 1982.0,793.4 1982.5,791.1 1983.0,785.0 1983.5,797.5 1984.0,792.2 1984.5,790.0 1985.0,793.8 1985.5,787.2 1986.0,800.2 1986.5,791.3 1987.0,792.0 1987.5,791.9 1988.0,785.2 1988.5,783.8 1989.0,791.3 1989.5,792.0 1990.0,797.3 1990.5,792.5 1991.0,784.3 1991.5,792.9 1992.0,794.5 1992.5,795.5 1993.0,791.9 1993.5,783.6 1994.0,796.3 1994.5,786.2 1995.0,793.2 1995.5,781.7 1996.0,794.2 1996.5,785.9 1997.0,795.9 1997.5,799.5 1998.0,796.3 1998.5,783.9 1999.0,785.0 1999.5,785.4 2000.0,793.6 2000.5,791.9 2001.0,790.9 2001.5,791.7 2002.0,793.2 2002.5,793.5 2003.0,799.1 2003.5,789.7 2004.0,791.1 2004.5,780.1 2005.0,783.0 2005.5,786.3 2006.0,783.7 2006.5,791.2 2007.0,795.6 2007.5,787.7 2008.0,787.4 2008.5,787.2 2009.0,790.7 2009.5,787.0 2010.0,792.2 2010.5,791.5 2011.0,791.8 2011.5,794.0 2012.0,790.1 2012.5,790.7 2013.0,799.3 2013.5,789.6 2014.0,794.1 2014.5,790.2 2015.0,787.4 2015.5,787.4 2016.0,785.5 2016.5,789.9 2017.0,786.6 2017.5,787.6 2018.0,796.3 2018.5,789.1 2019.0,795.9 2019.5,791.2 2020.0,794.4 2020.5,786.5 2021.0,790.6 2021.5,803.9 2022.0,794.2 2022.5,795.1 2023.0,791.0 2023.5,794.3 2024.0,783.5 2024.5,785.2 2025.0,792.0 2025.5,794.1 2026.0,787.5 2026.5,788.7 2027.0,787.8 2027.5,788.7 2028.0,783.3 2028.5,782.0 2029.0,789.2 2029.5,780.4 2030.0,784.4 2030.5,786.1 2031.0,784.0 2031.5,790.9 2032.0,787.2 2032.5,789.2 2033.0,784.2 2033.5,785.6 2034.0,792.3 2034.5,791.5 2035.0,787.1 2035.5,791.5 2036.0,790.5 2036.5,790.4 2037.0,798.0 2037.5,787.4 2038.0,791.7 2038.5,791.7 2039.0,788.2 2039.5,783.2 2040.0,793.1 2040.5,790.8 2041.0,789.7 2041.5,789.5 2042.0,789.5 2042.5,784.6 2043.0,790.9 2043.5,779.8 2044.0,789.2 2044.5,781.4 2045.0,787.5 2045.5,793.1 2046.0,787.9 2046.5,786.8 2047.0,792.0 2047.5,787.9 2048.0,787.1 2048.5,787.2 2049.0,797.3 2049.5,792.8 2050.0,791.8 2050.5,782.9 2051.0,792.5 2051.5,782.3 2052.0,791.8 2052.5,783.2 2053.0,799.6 2053.5,780.2 2054.0,795.7 2054.5,793.4 2055.0,779.7 2055.5,787.9 2056.0,796.8 2056.5,795.2 2057.0,780.3 2057.5,786.3 2058.0,782.9 2058.5,783.6 2059.0,785.7 2059.5,798.9 2060.0,789.8 2060.5,787.9 2061.0,787.3 2061.5,792.6 2062.0,792.7 2062.5,784.2 2063.0,796.9 2063.5,783.3 2064.0,787.6 2064.5,791.4 2065.0,798.1 2065.5,787.2 2066.0,790.5 2066.5,796.0 2067.0,792.3 2067.5,795.0 2068.0,794.5 2068.5,790.4 2069.0,792.4 2069.5,793.9 2070.0,788.8 2070.5,797.5 2071.0,778.4 2071.5,784.1 2072.0,796.7 2072.5,791.2 2073.0,785.5 2073.5,791.0 2074.0,794.7 2074.5,786.0 2075.0,793.0 2075.5,788.3 2076.0,788.3 2076.5,788.6 2077.0,794.8 2077.5,783.0 2078.0,787.0 2078.5,792.4 2079.0,782.4 2079.5,780.5 2080.0,791.9 2080.5,788.9 2081.0,788.1 2081.5,789.6 2082.0,783.7 2082.5,804.4 2083.0,783.6 2083.5,786.5 2084.0,781.3 2084.5,786.6 2085.0,797.0 2085.5,788.9 2086.0,792.0 2086.5,786.3 2087.0,798.5 2087.5,789.7 2088.0,782.2 2088.5,792.9 2089.0,786.8 2089.5,792.0 2090.0,789.5 2090.5,790.2 2091.0,789.5 2091.5,784.0 2092.0,780.8 2092.5,794.0 2093.0,788.0 2093.5,790.3 2094.0,786.3 2094.5,778.0 2095.0,782.0 2095.5,796.2 2096.0,784.6 2096.5,786.7 2097.0,780.9 2097.5,785.9 2098.0,786.7 2098.5,787.5 2099.0,788.3 2099.5,785.3 2100.0,785.6 2100.5,788.6 2101.0,790.4 2101.5,787.9 2102.0,797.9 2102.5,789.8 2103.0,789.5 2103.5,785.2 2104.0,794.1 2104.5,783.2 2105.0,780.0 2105.5,783.4 2106.0,791.9 2106.5,782.5 2107.0,795.5 2107.5,788.5 2108.0,780.5 2108.5,787.4 2109.0,798.1 2109.5,784.0 2110.0,781.6 2110.5,791.3 2111.0,795.5 2111.5,794.0 2112.0,786.8 2112.5,789.5 2113.0,790.3 2113.5,794.8 2114.0,800.0 2114.5,787.9 2115.0,795.4 2115.5,786.7 2116.0,791.6 2116.5,783.5 2117.0,784.4 2117.5,790.7 2118.0,770.0 2118.5,793.2 2119.0,785.6 2119.5,788.9 2120.0,788.0 2120.5,786.7 2121.0,789.2 2121.5,794.2 2122.0,805.0 2122.5,782.1 2123.0,790.0 2123.5,787.5 2124.0,783.6 2124.5,790.0 2125.0,783.8 2125.5,788.0 2126.0,795.0 2126.5,777.7 2127.0,789.7 2127.5,790.8 2128.0,783.3 2128.5,791.2 2129.0,790.3 2129.5,786.5 2130.0,794.8 2130.5,781.4 2131.0,791.8 2131.5,787.1 2132.0,782.7 2132.5,787.4 2133.0,786.5 2133.5,792.7 2134.0,780.4 2134.5,787.3 2135.0,785.9 2135.5,796.7 2136.0,782.4 2136.5,793.9 2137.0,779.0 2137.5,790.1 2138.0,787.6 2138.5,790.3 2139.0,784.5 2139.5,777.9 2140.0,780.0 2140.5,795.2 2141.0,789.4 2141.5,783.6 2142.0,793.0 2142.5,784.2 2143.0,784.3 2143.5,781.7 2144.0,794.4 2144.5,798.6 2145.0,783.0 2145.5,789.7 2146.0,793.3 2146.5,799.4 2147.0,775.4 2147.5,788.9 2148.0,791.5 2148.5,780.2 2149.0,790.3 2149.5,789.1 2150.0,791.9 2150.5,785.0 2151.0,790.3 2151.5,784.8 2152.0,791.3 2152.5,788.9 2153.0,786.0 2153.5,780.5 2154.0,796.8 2154.5,793.9 2155.0,792.7 2155.5,784.5 2156.0,786.1 2156.5,796.9 2157.0,791.9 2157.5,783.5 2158.0,788.2 2158.5,788.7 2159.0,786.9 2159.5,783.0 2160.0,794.6 2160.5,791.1 2161.0,786.9 2161.5,779.6 2162.0,784.9 2162.5,787.9 2163.0,792.6 2163.5,786.0 2164.0,793.9 2164.5,788.7 2165.0,784.0 2165.5,773.1 2166.0,781.7 2166.5,780.1 2167.0,787.2 2167.5,789.7 2168.0,795.3 2168.5,787.9 2169.0,781.8 2169.5,800.5 2170.0,789.6 2170.5,786.6 2171.0,786.6 2171.5,780.8 2172.0,791.3 2172.5,789.9 2173.0,796.4 2173.5,793.8 2174.0,792.6 2174.5,794.6 2175.0,786.4 2175.5,785.6 2176.0,787.7 2176.5,781.3 2177.0,787.2 2177.5,786.2 2178.0,791.5 2178.5,787.9 2179.0,777.8 2179.5,788.1 2180.0,795.5 2180.5,778.2 2181.0,783.9 2181.5,770.0 2182.0,780.9 2182.5,785.0 2183.0,788.3 2183.5,781.0 2184.0,789.5 2184.5,790.1 2185.0,781.2 2185.5,788.1 2186.0,793.7 2186.5,787.0 2187.0,790.3 2187.5,791.4 2188.0,786.7 2188.5,793.2 2189.0,790.0 2189.5,782.7 2190.0,790.7 2190.5,792.5 2191.0,792.2 2191.5,784.5 2192.0,790.4 2192.5,795.2 2193.0,789.2 2193.5,794.2 2194.0,794.9 2194.5,787.8 2195.0,791.5 2195.5,786.4 2196.0,793.6 2196.5,787.5 2197.0,785.1 2197.5,787.8 2198.0,787.6 2198.5,790.0 2199.0,790.4 2199.5,781.8 2200.0,784.5 2200.5,789.9 2201.0,790.5 2201.5,788.4 2202.0,801.9 2202.5,793.9 2203.0,787.6 2203.5,791.8 2204.0,795.1 2204.5,789.9 2205.0,778.7 2205.5,788.5 2206.0,788.3 2206.5,799.3 2207.0,778.2 2207.5,796.2 2208.0,787.2 2208.5,792.9 2209.0,786.4 2209.5,788.9"/>
<polygon points="460,632 460.2,560 460.3,420 460.2,250 460.9,193 461.2,145 461.8,100 462,56 465,56 466,100 467,250 469.5,400 471.5,560 472.4,630" fill="#ff0000" stroke="none"/>
<polyline clip-path="url(#cl)" stroke="#000000" points="277.0,415.4 277.9,418.8 278.9,418.5 279.8,426.9 280.8,410.6 281.7,428.3 282.7,421.9 283.6,437.2 284.6,437.7 285.5,441.3 286.5,436.2 287.4,429.3 288.4,436.9 289.3,442.3 290.3,424.3 291.2,434.8 292.2,429.4 293.1,441.7 294.1,422.8 295.0,427.2 296.0,432.7 296.9,431.8 297.9,416.1 298.8,432.7 299.8,428.7 300.7,427.7 301.7,428.4 302.6,431.5 303.6,414.6 304.5,442.5 305.5,422.5 306.4,411.0 307.4,428.9 308.3,441.7 309.3,425.3 310.2,442.5 311.2,442.5 312.1,422.4 313.1,409.1 314.0,419.3 315.0,439.4 315.9,422.8 316.9,417.0 317.8,418.4 318.8,429.5 319.7,429.3 320.7,436.7 321.6,437.7 322.6,421.7 323.5,428.2 324.5,420.0 325.4,430.0 326.4,419.9 327.3,419.5 328.3,447.0 329.2,429.7 330.2,434.7 331.1,450.5 332.1,435.9 333.0,428.4 334.0,429.8 334.9,423.2 335.9,438.4 336.8,426.6 337.8,443.9 338.7,426.4 339.7,426.4 340.6,425.8 341.6,434.5 342.5,430.8 343.5,440.6 344.4,424.6 345.4,431.6 346.3,445.3 347.3,427.2 348.2,433.6 349.2,442.2 350.1,433.8 351.1,423.9 352.0,412.0 353.0,449.0 353.9,432.7 354.9,439.6 355.8,425.1 356.8,444.2 357.7,433.4 358.7,429.5 359.6,421.6 360.6,432.1 361.5,425.0 362.5,427.1 363.4,415.5 364.4,424.9 365.3,430.3 366.3,418.6 367.2,429.5 368.2,434.4 369.1,426.3 370.1,423.7 371.0,423.7 372.0,436.6 372.9,416.1 373.9,426.3 374.8,425.3 375.8,430.0 376.7,428.2 377.7,419.5 378.6,445.6 379.6,430.2 380.5,417.5 381.5,421.2 382.4,429.4 383.4,433.7 384.3,417.4 385.3,434.5 386.2,417.1 387.2,421.9 388.1,435.6 389.1,442.6 390.0,427.7 391.0,425.8 391.9,438.9 392.9,419.4 393.8,430.6 394.8,430.2 395.7,436.6 396.7,430.7 397.6,426.0 398.6,433.2 399.5,418.7 400.5,434.8 401.4,422.4 402.4,420.4 403.3,424.9 404.3,428.3 405.2,433.7 406.2,426.0 407.1,433.8 408.1,435.8 409.0,426.7 410.0,419.4 410.9,435.1 411.9,429.7 412.8,409.8 413.8,419.1 414.7,428.4 415.7,415.7 416.6,421.4 417.6,412.7 418.5,430.2 419.5,428.8 420.4,428.1 421.4,438.5 422.3,423.5 423.3,423.9 424.2,442.9 425.2,415.2 426.1,431.8 427.1,414.7 428.0,427.4 429.0,442.7 429.9,427.2 430.9,418.2 431.8,444.1 432.8,419.5 433.7,421.9 434.7,425.7 435.6,411.5 436.6,431.4 437.5,434.9 438.5,427.1 439.4,422.8 440.4,417.9 441.3,425.5 442.3,391.0 443.2,414.8 444.2,416.6 445.1,396.5 446.1,414.6 447.0,408.1 448.0,406.6 448.9,405.2 449.9,406.2 450.8,402.0 451.8,386.0 452.7,389.1 453.7,383.5 454.6,379.3 455.6,366.9 456.5,370.5 457.5,362.0 458.4,349.4 459.4,333.7 460.3,305.4 461.3,255.7 462.2,208.2 463.2,148.9 464.1,84.0 465.1,12.7 466.0,-4.5 466.0,0.8 467.0,5.0 467.9,64.7 468.9,112.5 469.8,161.0 470.8,207.7 471.7,252.6 472.7,269.6 473.6,311.5 474.6,337.6 475.5,331.3 476.5,349.7 477.4,374.1 478.4,372.9 479.3,378.6 480.3,381.0 481.2,396.0 482.2,395.0 483.1,388.0 484.1,381.0 485.0,382.2 486.0,410.5 486.9,405.7 487.9,420.9 488.8,415.6 489.8,403.7 490.7,417.1 491.7,425.2 492.6,410.6 493.6,414.6 494.5,432.5 495.5,407.1 496.4,412.8 497.4,429.6 498.3,423.8 499.3,414.3 500.2,412.5 501.2,427.3 502.1,433.2 503.1,430.7 504.0,428.0 505.0,436.3 505.9,427.8 506.9,419.7 507.8,441.0 508.8,417.2 509.7,425.5 510.7,426.2 511.6,437.4 512.6,421.5 513.5,425.2 514.5,414.5 515.4,430.0 516.4,431.0 517.3,432.6 518.3,421.3 519.2,429.8 520.2,421.9 521.1,424.9 522.1,427.9 523.0,437.9 524.0,425.5 524.9,430.0 525.9,422.8 526.8,424.9 527.8,424.0 528.7,428.0 529.7,434.7 530.6,421.3 531.6,434.5 532.5,422.6 533.5,431.9 534.4,425.6 535.4,427.5 536.3,426.9 537.3,437.7 538.2,431.6 539.2,437.6 540.1,427.3 541.1,428.2 542.0,441.6 543.0,418.2 543.9,423.8 544.9,428.9 545.8,443.3 546.8,425.9 547.7,436.0 548.7,441.7 549.6,428.7 550.6,429.2 551.5,442.5 552.5,426.6 553.4,423.0 554.4,436.6 555.3,427.0 556.3,440.1 557.2,434.6 558.2,418.2 559.1,432.9 560.1,431.0 561.0,426.2 562.0,438.9 562.9,418.3 563.9,422.1 564.8,427.5 565.8,436.8 566.7,420.1 567.7,426.6 568.6,426.1 569.6,420.4 570.5,428.5 571.5,423.0 572.4,428.1 573.4,433.4 574.3,424.8 575.3,425.1 576.2,424.3 577.2,425.4 578.1,420.2 579.1,423.0 580.0,432.4 581.0,425.3 581.9,455.2 582.9,425.8 583.8,435.0 584.8,420.9 585.7,429.8 586.7,427.9 587.6,431.3 588.6,441.5 589.5,430.7 590.5,423.3 591.4,432.9 592.4,425.1 593.3,431.2 594.3,443.7 595.2,439.1 596.2,440.1 597.1,436.2 598.1,432.3 599.0,421.3 600.0,429.1 600.9,428.7 601.9,437.4 602.8,439.7 603.8,436.1 604.7,426.9 605.7,445.9 606.6,442.9 607.6,431.1 608.5,434.1 609.5,437.3 610.4,433.5 611.4,432.1 612.3,436.4 613.3,432.9 614.2,434.3 615.2,421.3 616.1,421.4 617.1,445.4 618.0,422.0 619.0,436.4 619.9,435.3 620.9,434.6 621.8,428.0 622.8,440.3 623.7,435.5 624.7,430.6 625.6,423.0 626.6,431.4 627.5,428.8 628.5,424.1 629.4,435.9 630.4,437.3 631.3,439.2 632.3,434.1 633.2,431.5 634.2,441.5 635.1,438.9 636.1,449.9 637.0,437.4 638.0,426.7 638.9,440.4 639.9,450.2 640.8,435.5 641.8,432.2 642.7,429.3 643.7,447.3 644.6,432.3 645.6,431.9 646.5,435.9 647.5,423.5 648.4,431.8 649.4,424.7 650.3,432.8 651.3,437.4 652.2,440.5 653.2,430.9 654.1,439.8 655.1,431.1 656.0,422.1 657.0,438.1 657.9,432.5 658.9,434.8 659.8,415.3 660.8,435.7 661.7,435.9 662.7,436.0 663.6,441.7 664.6,431.7 665.5,449.7 666.5,439.5 667.4,438.3 668.4,416.5 669.3,420.3 670.3,445.2 671.2,437.3 672.2,441.2 673.1,431.8 674.1,433.7 675.0,438.8 676.0,429.0 676.9,444.2 677.9,426.8 678.8,436.4 679.8,432.9 680.7,437.4 681.7,443.9 682.6,426.9 683.6,438.3 684.5,435.9 685.5,441.1 686.4,435.0 687.4,431.6 688.3,438.8 689.3,444.7 690.2,441.1 691.2,436.4 692.1,438.3 693.1,424.3 694.0,431.5 695.0,433.5 695.9,431.5 696.9,430.4 697.8,435.1 698.8,438.3 699.7,449.3 700.7,430.4 701.6,428.9 702.6,442.6 703.5,436.6 704.5,429.1 705.4,446.5 706.4,434.0 707.3,433.2 708.3,431.1 709.2,429.0 710.2,436.3 711.1,428.7 712.1,453.1 713.0,437.9 714.0,433.8 714.9,430.0 715.9,437.4 716.8,442.6 717.8,437.2 718.7,427.3 719.7,433.9 720.6,423.3 721.6,445.7 722.5,440.4 723.5,437.0 724.4,437.6 725.4,431.5 726.3,434.5 727.3,442.4 728.2,435.3 729.2,439.8 730.1,437.2 731.1,437.3 732.0,437.9 733.0,443.1 733.9,433.6 734.9,440.6 735.8,405.0 736.8,431.6 737.7,430.7 738.7,441.9 739.6,433.7 740.6,444.6 741.5,428.6 742.5,438.6 743.4,427.7 744.4,444.0 745.3,431.0 746.3,439.2 747.2,431.1 748.2,430.5 749.1,437.7 750.1,423.8 751.0,427.5 752.0,446.8 752.9,430.2 753.9,441.9 754.8,430.0 755.8,424.4 756.7,433.2 757.7,442.3 758.6,436.0 759.6,434.1 760.5,442.3 761.5,430.8 762.4,441.3 763.4,438.4 764.3,428.9 765.3,442.8 766.2,444.2 767.2,434.5 768.1,437.1 769.1,434.2 770.0,428.2 771.0,441.9 771.9,429.0 772.9,440.0 773.8,432.4 774.8,428.9 775.7,440.6 776.7,437.9 777.6,449.4 778.6,435.8 779.5,437.4 780.5,437.1 781.4,434.5 782.4,445.7 783.3,447.1 784.3,441.2 785.2,429.2 786.2,439.6 787.1,436.9 788.1,433.3 789.0,425.4 790.0,442.8 790.9,445.1 791.9,438.8 792.8,439.8 793.8,449.1 794.7,450.4 795.7,438.2 796.6,416.3 797.6,441.7 798.5,437.7 799.5,441.5 800.4,433.0 801.4,429.5 802.3,440.3 803.3,434.5 804.2,437.4 805.2,439.6 806.1,437.4 807.1,426.4 808.0,440.7 809.0,433.1 809.9,435.1 810.9,439.6 811.8,426.2 812.8,434.7 813.7,423.5 814.7,432.5 815.6,438.9 816.6,435.4 817.5,434.4 818.5,440.4 819.4,433.4 820.4,424.9 821.3,443.8 822.3,437.6 823.2,441.7 824.2,433.2 825.1,433.0 826.1,430.8 827.0,422.3 828.0,432.6 828.9,431.6 829.9,447.1 830.8,422.3 831.8,436.0 832.7,434.5 833.7,435.2 834.6,434.6 835.6,437.2 836.5,441.7 837.5,423.9 838.4,441.5 839.4,433.6 840.3,428.5 841.3,422.3 842.2,422.5 843.2,434.9 844.1,427.4 845.1,427.4 846.0,431.9 847.0,435.5 847.9,432.0 848.9,427.3 849.8,430.9 850.8,434.2 851.7,428.0 852.7,441.9 853.6,444.5 854.6,444.7 855.5,433.2 856.5,433.1 857.4,429.1 858.4,445.3 859.3,432.2 860.3,451.0 861.2,421.2 862.2,437.2 863.1,439.2 864.1,435.7 865.0,439.8 866.0,449.9 866.9,435.4 867.9,441.6 868.8,432.6 869.8,426.9 870.7,428.3 871.7,441.8 872.6,438.1 873.6,425.7 874.5,438.1 875.5,440.2 876.4,439.4 877.4,443.9 878.3,425.7 879.3,429.3 880.2,428.4 881.2,437.1 882.1,445.3 883.1,433.0 884.0,438.5 885.0,442.3 885.9,432.9 886.9,441.8 887.8,435.3 888.8,448.7 889.7,446.1 890.7,433.0 891.6,432.5 892.6,449.3 893.5,430.1 894.5,444.5 895.4,433.4 896.4,428.2 897.3,448.6 898.3,439.5 899.2,429.1 900.2,434.7 901.1,431.2 902.1,429.6 903.0,435.7 904.0,444.1 904.9,426.4 905.9,439.9 906.8,426.1 907.8,435.9 908.7,426.1 909.7,426.9 910.6,431.4 911.6,443.3 912.5,442.1 913.5,435.2 914.4,433.9 915.4,437.0 916.3,456.1 917.3,438.6 918.2,435.3 919.2,432.8 920.1,434.0 921.1,440.6 922.0,440.3 923.0,419.3 923.9,451.1 924.9,439.3 925.8,435.5 926.8,455.2 927.7,425.3 928.7,427.3 929.6,444.1 930.6,436.2 931.5,442.5 932.5,444.9 933.4,449.2 934.4,440.9 935.3,431.7 936.3,424.4 937.2,437.2 938.2,423.8 939.1,436.7 940.1,430.6 941.0,439.0 942.0,441.2 942.9,436.0 943.9,426.5 944.8,437.3 945.8,431.1 946.7,438.5 947.7,433.0 948.6,452.8 949.6,432.4 950.5,422.6 951.5,429.8 952.4,436.8 953.4,456.0 954.3,446.2 955.3,432.0 956.2,436.3 957.2,427.7 958.1,425.9 959.1,442.9 960.0,439.2 961.0,430.9 961.9,431.2 962.9,439.3 963.8,441.1 964.8,430.6 965.7,424.1 966.7,442.7 967.6,431.0 968.6,423.3 969.5,434.9 970.5,437.8 971.4,443.1 972.4,433.2 973.3,438.3 974.3,427.3 975.2,439.6 976.2,425.3 977.1,440.6 978.1,437.5 979.0,425.5 980.0,431.8 980.9,448.1 981.9,428.8 982.8,424.6 983.8,434.3 984.7,437.5 985.7,442.1 986.6,435.3 987.6,433.0 988.5,434.7 989.5,441.8 990.4,435.1 991.4,440.3 992.3,423.6 993.3,433.8 994.2,435.7 995.2,443.7 996.1,439.6 997.1,437.9 998.0,444.1 999.0,437.6 999.9,458.8 1000.9,429.9 1001.8,437.3 1002.8,449.5 1003.7,442.0 1004.7,438.7 1005.6,443.6 1006.6,433.2 1007.5,437.3 1008.5,437.7 1009.4,450.3 1010.4,438.8 1011.3,451.3 1012.3,436.3 1013.2,438.4 1014.2,424.4 1015.1,441.0 1016.1,422.5 1017.0,441.3 1018.0,443.5 1018.9,439.4 1019.9,429.1 1020.8,434.5 1021.8,417.7 1022.7,431.4 1023.7,438.2 1024.6,436.5 1025.6,433.9 1026.5,445.8 1027.5,438.9 1028.4,436.4 1029.4,437.8 1030.3,428.9 1031.3,435.2 1032.2,422.5 1033.2,416.8 1034.1,433.9 1035.1,442.9 1036.0,428.5 1037.0,439.1 1037.9,423.9 1038.9,436.1 1039.8,436.5 1040.8,436.3 1041.7,426.1 1042.7,440.3 1043.6,441.3 1044.6,440.2 1045.5,452.5 1046.5,433.9 1047.4,437.8 1048.4,445.1 1049.3,426.9 1050.3,430.0 1051.2,444.3 1052.2,434.0 1053.1,430.8 1054.1,412.0 1055.0,426.9 1056.0,437.6 1056.9,429.2 1057.9,431.9 1058.8,417.7 1059.8,438.0 1060.7,438.3 1061.7,435.3 1062.6,431.8 1063.6,438.2 1064.5,447.0 1065.5,442.8 1066.4,431.6 1067.4,438.3 1068.3,434.8 1069.3,440.5 1070.2,430.9 1071.2,447.2 1072.1,431.1 1073.1,429.6 1074.0,439.1 1075.0,448.3 1075.9,424.8 1076.9,437.1 1077.8,441.2 1078.8,455.8 1079.7,426.1 1080.7,444.7 1081.6,431.6 1082.6,434.4 1083.5,443.5 1084.5,437.2 1085.4,427.1 1086.4,435.2 1087.3,434.0 1088.3,438.0 1089.2,430.1 1090.2,431.8 1091.1,434.3 1092.1,436.9 1093.0,435.5 1094.0,439.7 1094.9,441.2 1095.9,439.0 1096.8,432.0 1097.8,425.7 1098.7,430.3 1099.7,431.8 1100.6,434.7 1101.6,443.0 1102.5,435.9 1103.5,429.7 1104.4,427.1 1105.4,435.5 1106.3,434.5 1107.3,428.8 1108.2,424.7 1109.2,433.8 1110.1,439.0 1111.1,437.7 1112.0,426.0 1113.0,433.1 1113.9,434.8 1114.9,429.4 1115.8,435.6 1116.8,431.7 1117.7,442.7 1118.7,431.6 1119.6,447.6 1120.6,443.4 1121.5,439.0 1122.5,438.2 1123.4,446.4 1124.4,434.0 1125.3,439.5 1126.3,434.9 1127.2,447.4 1128.2,434.5 1129.1,434.9 1130.1,418.1 1131.0,438.4 1132.0,434.1 1132.9,440.6 1133.9,426.3 1134.8,430.5 1135.8,445.9 1136.7,431.3 1137.7,438.0 1138.6,443.1 1139.6,437.2 1140.5,437.1 1141.5,445.2 1142.4,433.0 1143.4,440.7 1144.3,434.8 1145.3,428.8 1146.2,437.1 1147.2,446.1 1148.1,435.6 1149.1,431.9 1150.0,435.3 1151.0,433.4 1151.9,440.4 1152.9,429.7 1153.8,443.1 1154.8,439.7 1155.7,445.4 1156.7,433.6 1157.6,443.4 1158.6,429.8 1159.5,441.1 1160.5,435.2 1161.4,429.0 1162.4,442.4 1163.3,447.1 1164.3,449.4 1165.2,440.0 1166.2,435.2 1167.1,447.2 1168.1,430.2 1169.0,437.9 1170.0,426.5 1170.9,437.9 1171.9,438.7 1172.8,434.0 1173.8,444.2 1174.7,436.0 1175.7,440.2 1176.6,440.7 1177.6,436.0 1178.5,418.9 1179.5,434.0 1180.4,438.0 1181.4,429.7 1182.3,437.2 1183.3,426.4 1184.2,441.2 1185.2,441.2 1186.1,439.7 1187.1,433.4 1188.0,438.9 1189.0,428.0 1189.9,431.3 1190.9,439.8 1191.8,432.0 1192.8,435.0 1193.7,436.6 1194.7,444.2 1195.6,432.0 1196.6,432.8 1197.5,431.8 1198.5,425.1 1199.4,438.1 1200.4,422.2 1201.3,431.0 1202.3,445.8 1203.2,436.7 1204.2,420.8 1205.1,429.6 1206.1,448.3 1207.0,434.7 1208.0,449.6 1208.9,432.7 1209.9,419.5 1210.8,438.5 1211.8,435.0 1212.7,438.6 1213.7,429.2 1214.6,429.1 1215.6,432.4 1216.5,429.1 1217.5,442.6 1218.4,444.4 1219.4,435.1 1220.3,443.2 1221.3,431.7 1222.2,434.4 1223.2,424.9 1224.1,445.4 1225.1,432.9 1226.0,445.5"/>
<polyline clip-path="url(#cr)" stroke="#000000" points="1260.0,396.0 1260.5,432.8 1261.0,392.8 1261.5,430.9 1262.0,396.7 1262.5,435.0 1263.0,394.1 1263.5,431.6 1264.0,395.2 1264.5,430.8 1265.0,394.1 1265.5,432.9 1266.0,394.9 1266.5,433.1 1267.0,394.0 1267.5,431.8 1268.0,392.3 1268.5,429.3 1269.0,394.9 1269.5,431.9 1270.0,396.4 1270.5,433.0 1271.0,391.7 1271.5,433.5 1272.0,392.9 1272.5,431.7 1273.0,393.1 1273.5,429.1 1274.0,396.4 1274.5,431.8 1275.0,394.6 1275.5,431.4 1276.0,392.6 1276.5,431.1 1277.0,396.6 1277.5,431.2 1278.0,392.3 1278.5,435.1 1279.0,393.5 1279.5,422.1 1280.0,423.8 1280.5,428.5 1281.0,421.1 1281.5,417.1 1282.0,414.7 1282.5,417.2 1283.0,412.6 1283.5,424.3 1284.0,405.3 1284.5,402.2 1285.0,401.6 1285.5,400.6 1286.0,387.9 1286.5,374.2 1287.0,362.7 1287.5,351.9 1288.0,347.7 1288.5,332.6 1289.0,341.3 1289.5,348.9 1290.0,366.2 1290.5,377.9 1291.0,376.9 1291.5,403.8 1292.0,396.5 1292.5,395.3 1293.0,394.1 1293.5,396.7 1294.0,396.0 1294.5,395.3 1295.0,387.7 1295.5,386.5 1296.0,374.4 1296.5,381.7 1297.0,385.9 1297.5,398.5 1298.0,406.0 1298.5,400.7 1299.0,411.4 1299.5,419.1 1300.0,422.4 1300.5,413.6 1301.0,424.0 1301.5,424.1 1302.0,421.0 1302.5,434.6 1303.0,419.1 1303.5,424.2 1304.0,428.6 1304.5,428.0 1305.0,426.3 1305.5,434.9 1306.0,435.6 1306.5,433.1 1307.0,433.9 1307.5,428.6 1308.0,423.0 1308.5,441.0 1309.0,424.6 1309.5,441.7 1310.0,429.4 1310.5,431.5 1311.0,429.6 1311.5,435.8 1312.0,428.2 1312.5,440.8 1313.0,434.1 1313.5,432.3 1314.0,428.5 1314.5,433.2 1315.0,431.8 1315.5,442.1 1316.0,437.1 1316.5,424.0 1317.0,440.5 1317.5,420.0 1318.0,440.9 1318.5,422.8 1319.0,433.0 1319.5,437.4 1320.0,433.2 1320.5,427.5 1321.0,439.9 1321.5,424.0 1322.0,425.8 1322.5,440.9 1323.0,429.0 1323.5,435.0 1324.0,438.1 1324.5,433.3 1325.0,435.3 1325.5,434.6 1326.0,435.1 1326.5,440.4 1327.0,439.1 1327.5,435.9 1328.0,439.1 1328.5,431.4 1329.0,430.3 1329.5,429.1 1330.0,438.6 1330.5,443.1 1331.0,435.0 1331.5,424.1 1332.0,432.0 1332.5,437.2 1333.0,436.3 1333.5,435.3 1334.0,440.1 1334.5,439.8 1335.0,427.9 1335.5,437.3 1336.0,431.2 1336.5,436.4 1337.0,441.8 1337.5,444.9 1338.0,439.0 1338.5,432.7 1339.0,433.5 1339.5,438.3 1340.0,430.2 1340.5,435.2 1341.0,438.8 1341.5,440.5 1342.0,434.1 1342.5,437.7 1343.0,443.0 1343.5,437.4 1344.0,426.8 1344.5,437.1 1345.0,437.3 1345.5,433.8 1346.0,436.3 1346.5,428.3 1347.0,442.8 1347.5,438.4 1348.0,433.4 1348.5,437.5 1349.0,437.0 1349.5,431.8 1350.0,422.3 1350.5,421.4 1351.0,447.2 1351.5,430.6 1352.0,435.1 1352.5,439.7 1353.0,434.8 1353.5,443.1 1354.0,431.8 1354.5,439.8 1355.0,425.8 1355.5,440.7 1356.0,440.6 1356.5,439.0 1357.0,438.7 1357.5,438.6 1358.0,441.8 1358.5,442.3 1359.0,432.3 1359.5,442.9 1360.0,432.3 1360.5,438.3 1361.0,436.1 1361.5,440.0 1362.0,435.8 1362.5,439.7 1363.0,435.1 1363.5,432.6 1364.0,443.4 1364.5,440.8 1365.0,440.5 1365.5,442.9 1366.0,432.3 1366.5,442.8 1367.0,432.4 1367.5,440.1 1368.0,437.1 1368.5,439.6 1369.0,441.9 1369.5,438.3 1370.0,433.4 1370.5,443.2 1371.0,444.6 1371.5,442.0 1372.0,443.9 1372.5,429.1 1373.0,438.9 1373.5,438.0 1374.0,428.3 1374.5,439.2 1375.0,438.7 1375.5,430.8 1376.0,434.4 1376.5,439.3 1377.0,442.1 1377.5,442.7 1378.0,433.1 1378.5,433.3 1379.0,436.4 1379.5,438.9 1380.0,436.1 1380.5,438.2 1381.0,443.0 1381.5,442.9 1382.0,440.1 1382.5,433.3 1383.0,436.8 1383.5,442.5 1384.0,444.1 1384.5,445.2 1385.0,434.0 1385.5,437.2 1386.0,433.3 1386.5,424.2 1387.0,434.0 1387.5,430.4 1388.0,447.3 1388.5,442.4 1389.0,436.6 1389.5,440.4 1390.0,442.3 1390.5,449.4 1391.0,444.3 1391.5,448.3 1392.0,442.8 1392.5,447.2 1393.0,448.0 1393.5,445.3 1394.0,440.6 1394.5,446.3 1395.0,438.4 1395.5,448.1 1396.0,439.2 1396.5,437.1 1397.0,450.7 1397.5,438.6 1398.0,441.7 1398.5,435.2 1399.0,437.2 1399.5,439.1 1400.0,435.7 1400.5,447.5 1401.0,437.2 1401.5,434.4 1402.0,446.9 1402.5,444.8 1403.0,428.7 1403.5,438.1 1404.0,446.4 1404.5,437.0 1405.0,439.7 1405.5,439.9 1406.0,429.2 1406.5,436.5 1407.0,445.3 1407.5,448.9 1408.0,440.8 1408.5,440.7 1409.0,444.2 1409.5,442.2 1410.0,444.0 1410.5,436.7 1411.0,441.5 1411.5,444.1 1412.0,444.6 1412.5,433.2 1413.0,445.8 1413.5,442.1 1414.0,442.3 1414.5,432.1 1415.0,441.7 1415.5,433.1 1416.0,428.2 1416.5,442.1 1417.0,441.6 1417.5,441.9 1418.0,442.6 1418.5,441.6 1419.0,447.5 1419.5,446.0 1420.0,450.3 1420.5,455.1 1421.0,445.9 1421.5,446.0 1422.0,451.9 1422.5,437.2 1423.0,440.2 1423.5,443.3 1424.0,433.7 1424.5,447.1 1425.0,450.3 1425.5,435.3 1426.0,437.7 1426.5,446.8 1427.0,449.1 1427.5,433.2 1428.0,444.8 1428.5,440.9 1429.0,432.2 1429.5,439.7 1430.0,438.9 1430.5,442.5 1431.0,442.1 1431.5,440.5 1432.0,441.3 1432.5,441.1 1433.0,444.7 1433.5,447.1 1434.0,447.1 1434.5,437.3 1435.0,437.8 1435.5,438.5 1436.0,449.6 1436.5,421.0 1437.0,438.0 1437.5,435.9 1438.0,436.8 1438.5,442.3 1439.0,436.3 1439.5,442.1 1440.0,449.3 1440.5,440.8 1441.0,446.7 1441.5,434.1 1442.0,444.1 1442.5,443.8 1443.0,437.4 1443.5,449.6 1444.0,442.2 1444.5,438.6 1445.0,440.8 1445.5,447.4 1446.0,435.1 1446.5,443.1 1447.0,437.3 1447.5,443.6 1448.0,439.6 1448.5,442.0 1449.0,446.5 1449.5,442.7 1450.0,445.4 1450.5,446.2 1451.0,444.6 1451.5,443.7 1452.0,442.7 1452.5,445.9 1453.0,448.9 1453.5,452.3 1454.0,451.9 1454.5,437.3 1455.0,444.2 1455.5,445.2 1456.0,449.1 1456.5,448.3 1457.0,435.1 1457.5,444.1 1458.0,433.6 1458.5,440.2 1459.0,437.8 1459.5,439.5 1460.0,451.1 1460.5,439.9 1461.0,440.1 1461.5,443.5 1462.0,448.5 1462.5,433.8 1463.0,451.5 1463.5,438.8 1464.0,437.6 1464.5,443.6 1465.0,446.5 1465.5,457.3 1466.0,447.7 1466.5,439.8 1467.0,441.9 1467.5,437.9 1468.0,446.5 1468.5,447.4 1469.0,441.2 1469.5,449.0 1470.0,434.1 1470.5,440.5 1471.0,438.1 1471.5,439.9 1472.0,434.4 1472.5,448.1 1473.0,438.0 1473.5,442.4 1474.0,449.4 1474.5,451.7 1475.0,449.4 1475.5,431.3 1476.0,441.6 1476.5,441.3 1477.0,439.6 1477.5,439.1 1478.0,440.3 1478.5,446.4 1479.0,440.8 1479.5,436.1 1480.0,434.9 1480.5,444.1 1481.0,434.2 1481.5,447.1 1482.0,440.7 1482.5,440.7 1483.0,444.6 1483.5,441.5 1484.0,447.2 1484.5,436.6 1485.0,433.8 1485.5,453.9 1486.0,444.4 1486.5,429.8 1487.0,452.6 1487.5,436.0 1488.0,454.5 1488.5,453.3 1489.0,448.3 1489.5,443.7 1490.0,439.0 1490.5,448.8 1491.0,441.6 1491.5,449.5 1492.0,442.2 1492.5,435.4 1493.0,440.0 1493.5,444.1 1494.0,441.2 1494.5,444.6 1495.0,438.9 1495.5,452.4 1496.0,441.1 1496.5,446.7 1497.0,435.0 1497.5,448.3 1498.0,452.2 1498.5,447.2 1499.0,442.7 1499.5,439.1 1500.0,447.3 1500.5,447.1 1501.0,437.1 1501.5,444.2 1502.0,447.0 1502.5,439.9 1503.0,447.3 1503.5,442.7 1504.0,451.9 1504.5,437.4 1505.0,446.9 1505.5,444.8 1506.0,434.2 1506.5,439.2 1507.0,439.6 1507.5,449.1 1508.0,442.3 1508.5,444.2 1509.0,445.0 1509.5,458.0 1510.0,443.0 1510.5,454.5 1511.0,443.3 1511.5,435.9 1512.0,439.9 1512.5,437.6 1513.0,442.3 1513.5,436.5 1514.0,439.4 1514.5,454.5 1515.0,445.6 1515.5,446.1 1516.0,454.0 1516.5,435.5 1517.0,447.3 1517.5,441.8 1518.0,444.2 1518.5,440.7 1519.0,445.0 1519.5,451.0 1520.0,450.8 1520.5,445.7 1521.0,448.8 1521.5,438.1 1522.0,428.9 1522.5,450.0 1523.0,455.3 1523.5,446.9 1524.0,441.2 1524.5,444.7 1525.0,451.0 1525.5,438.3 1526.0,444.9 1526.5,447.8 1527.0,439.1 1527.5,455.7 1528.0,448.9 1528.5,453.4 1529.0,438.8 1529.5,445.7 1530.0,452.7 1530.5,447.0 1531.0,451.3 1531.5,434.8 1532.0,444.1 1532.5,434.0 1533.0,442.0 1533.5,446.2 1534.0,444.0 1534.5,438.0 1535.0,446.2 1535.5,448.1 1536.0,444.2 1536.5,449.0 1537.0,450.8 1537.5,451.3 1538.0,442.9 1538.5,447.5 1539.0,441.3 1539.5,444.3 1540.0,450.4 1540.5,444.2 1541.0,442.4 1541.5,441.6 1542.0,447.5 1542.5,453.3 1543.0,449.7 1543.5,443.6 1544.0,449.1 1544.5,449.9 1545.0,452.6 1545.5,441.3 1546.0,448.2 1546.5,442.7 1547.0,442.0 1547.5,451.5 1548.0,447.8 1548.5,445.3 1549.0,452.1 1549.5,445.8 1550.0,440.2 1550.5,449.8 1551.0,440.0 1551.5,440.3 1552.0,442.7 1552.5,444.1 1553.0,449.7 1553.5,443.1 1554.0,435.4 1554.5,442.0 1555.0,446.7 1555.5,444.4 1556.0,444.4 1556.5,438.6 1557.0,443.0 1557.5,448.1 1558.0,448.2 1558.5,440.7 1559.0,441.2 1559.5,439.9 1560.0,450.0 1560.5,441.1 1561.0,443.7 1561.5,440.8 1562.0,440.3 1562.5,444.4 1563.0,449.9 1563.5,442.1 1564.0,451.4 1564.5,444.9 1565.0,449.0 1565.5,458.3 1566.0,457.2 1566.5,446.7 1567.0,445.6 1567.5,444.4 1568.0,449.0 1568.5,435.3 1569.0,441.5 1569.5,444.5 1570.0,441.2 1570.5,440.0 1571.0,452.1 1571.5,437.5 1572.0,443.0 1572.5,442.2 1573.0,442.8 1573.5,439.8 1574.0,449.4 1574.5,444.7 1575.0,454.6 1575.5,438.1 1576.0,446.0 1576.5,438.6 1577.0,446.6 1577.5,451.5 1578.0,439.3 1578.5,450.6 1579.0,441.0 1579.5,439.3 1580.0,447.1 1580.5,449.3 1581.0,446.1 1581.5,447.0 1582.0,445.2 1582.5,442.7 1583.0,434.0 1583.5,443.5 1584.0,441.7 1584.5,448.3 1585.0,441.0 1585.5,456.1 1586.0,448.7 1586.5,443.2 1587.0,448.9 1587.5,444.1 1588.0,452.3 1588.5,443.2 1589.0,453.1 1589.5,439.8 1590.0,446.0 1590.5,445.1 1591.0,440.7 1591.5,443.7 1592.0,445.5 1592.5,439.1 1593.0,440.9 1593.5,448.0 1594.0,441.4 1594.5,453.8 1595.0,453.8 1595.5,442.9 1596.0,447.3 1596.5,448.2 1597.0,449.2 1597.5,442.5 1598.0,449.3 1598.5,442.5 1599.0,444.8 1599.5,451.9 1600.0,444.8 1600.5,440.1 1601.0,442.2 1601.5,446.8 1602.0,441.1 1602.5,440.0 1603.0,445.8 1603.5,440.1 1604.0,455.8 1604.5,441.4 1605.0,448.4 1605.5,437.3 1606.0,443.0 1606.5,448.8 1607.0,447.2 1607.5,447.7 1608.0,441.4 1608.5,445.1 1609.0,443.0 1609.5,436.8 1610.0,449.4 1610.5,440.1 1611.0,442.1 1611.5,447.2 1612.0,445.9 1612.5,455.1 1613.0,441.6 1613.5,448.5 1614.0,440.4 1614.5,440.5 1615.0,444.8 1615.5,441.9 1616.0,435.3 1616.5,436.0 1617.0,435.8 1617.5,441.3 1618.0,427.7 1618.5,430.2 1619.0,429.6 1619.5,425.1 1620.0,420.0 1620.5,424.7 1621.0,415.9 1621.5,429.5 1622.0,409.7 1622.5,414.7 1623.0,426.3 1623.5,430.4 1624.0,431.3 1624.5,428.0 1625.0,431.0 1625.5,432.5 1626.0,428.9 1626.5,431.3 1627.0,428.8 1627.5,438.3 1628.0,435.5 1628.5,432.5 1629.0,433.8 1629.5,434.6 1630.0,436.5 1630.5,440.1 1631.0,438.4 1631.5,438.6 1632.0,443.1 1632.5,441.4 1633.0,442.6 1633.5,443.4 1634.0,442.7 1634.5,439.1 1635.0,443.0 1635.5,449.3 1636.0,441.0 1636.5,441.3 1637.0,443.1 1637.5,443.4 1638.0,450.8 1638.5,444.0 1639.0,450.0 1639.5,448.7 1640.0,448.5 1640.5,448.2 1641.0,447.1 1641.5,447.9 1642.0,450.7 1642.5,437.8 1643.0,447.4 1643.5,450.7 1644.0,443.5 1644.5,446.0 1645.0,449.6 1645.5,439.2 1646.0,447.4 1646.5,441.9 1647.0,447.2 1647.5,447.8 1648.0,447.4 1648.5,442.4 1649.0,446.5 1649.5,443.9 1650.0,447.7 1650.5,445.0 1651.0,443.2 1651.5,450.3 1652.0,441.7 1652.5,444.6 1653.0,451.0 1653.5,448.1 1654.0,450.2 1654.5,442.7 1655.0,447.4 1655.5,443.2 1656.0,439.7 1656.5,449.1 1657.0,442.7 1657.5,447.3 1658.0,443.0 1658.5,449.1 1659.0,449.2 1659.5,442.8 1660.0,442.8 1660.5,436.3 1661.0,445.0 1661.5,446.0 1662.0,444.0 1662.5,449.8 1663.0,446.6 1663.5,447.0 1664.0,444.5 1664.5,441.0 1665.0,447.3 1665.5,450.4 1666.0,451.9 1666.5,447.8 1667.0,442.1 1667.5,445.8 1668.0,447.7 1668.5,442.7 1669.0,445.6 1669.5,444.6 1670.0,443.9 1670.5,443.1 1671.0,448.4 1671.5,449.4 1672.0,452.2 1672.5,446.2 1673.0,447.5 1673.5,440.3 1674.0,448.4 1674.5,452.8 1675.0,444.2 1675.5,449.3 1676.0,445.2 1676.5,449.4 1677.0,450.3 1677.5,441.6 1678.0,443.8 1678.5,444.4 1679.0,446.6 1679.5,452.7 1680.0,447.6 1680.5,448.0 1681.0,448.2 1681.5,444.9 1682.0,451.8 1682.5,449.6 1683.0,450.7 1683.5,448.6 1684.0,442.0 1684.5,449.7 1685.0,445.0 1685.5,443.9 1686.0,458.4 1686.5,451.3 1687.0,446.0 1687.5,451.0 1688.0,452.1 1688.5,448.6 1689.0,446.1 1689.5,451.6 1690.0,450.7 1690.5,450.5 1691.0,441.0 1691.5,449.5 1692.0,456.0 1692.5,443.4 1693.0,446.1 1693.5,444.6 1694.0,445.7 1694.5,447.2 1695.0,455.9 1695.5,446.6 1696.0,454.3 1696.5,444.0 1697.0,450.4 1697.5,447.7 1698.0,446.2 1698.5,449.0 1699.0,453.3 1699.5,449.5 1700.0,450.6 1700.5,448.3 1701.0,449.9 1701.5,449.6 1702.0,451.3 1702.5,447.5 1703.0,445.6 1703.5,446.1 1704.0,446.0 1704.5,450.2 1705.0,444.8 1705.5,450.9 1706.0,449.0 1706.5,453.1 1707.0,448.9 1707.5,452.4 1708.0,449.8 1708.5,448.8 1709.0,446.8 1709.5,450.0 1710.0,448.4 1710.5,445.5 1711.0,446.1 1711.5,440.2 1712.0,452.7 1712.5,452.6 1713.0,446.1 1713.5,442.9 1714.0,450.7 1714.5,452.5 1715.0,447.9 1715.5,445.3 1716.0,453.1 1716.5,451.6 1717.0,452.1 1717.5,455.6 1718.0,447.9 1718.5,448.7 1719.0,456.1 1719.5,451.4 1720.0,457.9 1720.5,437.5 1721.0,441.7 1721.5,450.2 1722.0,449.7 1722.5,443.2 1723.0,443.9 1723.5,444.1 1724.0,450.1 1724.5,441.7 1725.0,446.8 1725.5,444.2 1726.0,435.1 1726.5,448.2 1727.0,454.4 1727.5,446.0 1728.0,449.7 1728.5,446.7 1729.0,445.6 1729.5,439.5 1730.0,445.2 1730.5,437.6 1731.0,443.0 1731.5,445.7 1732.0,445.6 1732.5,441.3 1733.0,443.6 1733.5,439.7 1734.0,446.6 1734.5,438.5 1735.0,453.8 1735.5,445.7 1736.0,441.6 1736.5,448.6 1737.0,437.2 1737.5,445.4 1738.0,437.3 1738.5,439.5 1739.0,436.6 1739.5,435.1 1740.0,435.3 1740.5,437.8 1741.0,435.3 1741.5,443.5 1742.0,435.8 1742.5,423.8 1743.0,431.3 1743.5,432.7 1744.0,434.7 1744.5,435.6 1745.0,427.1 1745.5,433.2 1746.0,428.3 1746.5,432.2 1747.0,430.4 1747.5,437.0 1748.0,436.0 1748.5,438.3 1749.0,428.1 1749.5,429.4 1750.0,432.1 1750.5,429.6 1751.0,429.5 1751.5,435.1 1752.0,443.3 1752.5,435.1 1753.0,441.3 1753.5,427.8 1754.0,444.5 1754.5,445.9 1755.0,436.9 1755.5,434.2 1756.0,440.2 1756.5,429.7 1757.0,439.8 1757.5,430.3 1758.0,447.3 1758.5,439.8 1759.0,436.8 1759.5,430.6 1760.0,448.8 1760.5,442.6 1761.0,439.8 1761.5,449.0 1762.0,436.7 1762.5,449.3 1763.0,450.9 1763.5,443.3 1764.0,451.0 1764.5,453.8 1765.0,441.9 1765.5,442.4 1766.0,450.3 1766.5,450.2 1767.0,442.7 1767.5,431.1 1768.0,439.2 1768.5,453.2 1769.0,444.7 1769.5,442.6 1770.0,449.2 1770.5,438.6 1771.0,458.7 1771.5,437.9 1772.0,446.6 1772.5,449.6 1773.0,450.8 1773.5,442.2 1774.0,446.0 1774.5,453.0 1775.0,448.5 1775.5,451.2 1776.0,448.6 1776.5,448.9 1777.0,443.6 1777.5,442.0 1778.0,446.5 1778.5,442.3 1779.0,455.1 1779.5,451.5 1780.0,454.1 1780.5,440.5 1781.0,441.4 1781.5,451.2 1782.0,448.7 1782.5,449.1 1783.0,452.8 1783.5,442.9 1784.0,441.6 1784.5,443.6 1785.0,458.4 1785.5,447.6 1786.0,443.9 1786.5,455.1 1787.0,452.3 1787.5,452.2 1788.0,451.0 1788.5,446.8 1789.0,456.7 1789.5,452.0 1790.0,441.9 1790.5,442.2 1791.0,444.6 1791.5,452.1 1792.0,444.8 1792.5,446.5 1793.0,445.6 1793.5,448.2 1794.0,454.0 1794.5,445.7 1795.0,448.0 1795.5,456.5 1796.0,440.2 1796.5,449.5 1797.0,448.9 1797.5,447.6 1798.0,453.0 1798.5,458.9 1799.0,448.0 1799.5,447.8 1800.0,451.2 1800.5,442.1 1801.0,446.2 1801.5,449.6 1802.0,449.1 1802.5,444.4 1803.0,453.5 1803.5,442.3 1804.0,444.5 1804.5,443.0 1805.0,449.9 1805.5,452.1 1806.0,447.5 1806.5,453.8 1807.0,446.0 1807.5,448.5 1808.0,449.1 1808.5,447.9 1809.0,448.9 1809.5,443.0 1810.0,437.6 1810.5,445.3 1811.0,446.1 1811.5,446.8 1812.0,442.8 1812.5,441.8 1813.0,458.1 1813.5,451.8 1814.0,449.7 1814.5,448.9 1815.0,444.9 1815.5,447.3 1816.0,453.7 1816.5,453.0 1817.0,445.2 1817.5,445.6 1818.0,445.4 1818.5,444.5 1819.0,452.6 1819.5,451.3 1820.0,449.6 1820.5,445.0 1821.0,454.3 1821.5,448.2 1822.0,435.5 1822.5,454.3 1823.0,449.2 1823.5,445.1 1824.0,454.6 1824.5,436.3 1825.0,444.7 1825.5,451.4 1826.0,444.4 1826.5,458.2 1827.0,457.9 1827.5,449.4 1828.0,449.2 1828.5,456.6 1829.0,451.2 1829.5,442.9 1830.0,446.8 1830.5,443.7 1831.0,451.1 1831.5,449.0 1832.0,455.1 1832.5,449.4 1833.0,444.3 1833.5,442.5 1834.0,455.7 1834.5,454.5 1835.0,443.9 1835.5,440.7 1836.0,440.3 1836.5,453.1 1837.0,446.3 1837.5,457.2 1838.0,446.1 1838.5,446.7 1839.0,446.9 1839.5,451.2 1840.0,456.9 1840.5,443.5 1841.0,452.1 1841.5,455.2 1842.0,447.5 1842.5,446.3 1843.0,453.7 1843.5,445.2 1844.0,446.9 1844.5,443.5 1845.0,445.7 1845.5,449.6 1846.0,450.1 1846.5,447.2 1847.0,448.7 1847.5,441.8 1848.0,458.6 1848.5,442.8 1849.0,450.8 1849.5,444.2 1850.0,448.2 1850.5,438.0 1851.0,444.7 1851.5,441.9 1852.0,449.7 1852.5,448.6 1853.0,443.4 1853.5,443.1 1854.0,450.1 1854.5,445.5 1855.0,450.9 1855.5,449.4 1856.0,445.6 1856.5,446.6 1857.0,438.7 1857.5,447.9 1858.0,446.8 1858.5,447.8 1859.0,455.3 1859.5,448.7 1860.0,448.1 1860.5,448.0 1861.0,445.9 1861.5,455.1 1862.0,447.8 1862.5,454.4 1863.0,451.6 1863.5,444.3 1864.0,449.1 1864.5,453.6 1865.0,446.2 1865.5,448.5 1866.0,447.0 1866.5,447.1 1867.0,452.0 1867.5,444.0 1868.0,446.5 1868.5,448.9 1869.0,435.0 1869.5,446.5 1870.0,448.5 1870.5,450.0 1871.0,444.8 1871.5,443.3 1872.0,452.4 1872.5,444.6 1873.0,450.2 1873.5,448.4 1874.0,444.3 1874.5,445.6 1875.0,444.1 1875.5,452.9 1876.0,448.9 1876.5,439.4 1877.0,457.2 1877.5,455.0 1878.0,454.4 1878.5,443.5 1879.0,445.5 1879.5,445.1 1880.0,455.3 1880.5,448.5 1881.0,449.5 1881.5,446.9 1882.0,441.2 1882.5,452.5 1883.0,459.3 1883.5,446.7 1884.0,443.6 1884.5,444.7 1885.0,444.9 1885.5,440.7 1886.0,445.5 1886.5,446.4 1887.0,440.5 1887.5,450.2 1888.0,445.8 1888.5,442.3 1889.0,448.2 1889.5,456.0 1890.0,455.1 1890.5,453.8 1891.0,453.7 1891.5,453.0 1892.0,451.8 1892.5,452.6 1893.0,458.3 1893.5,446.3 1894.0,452.3 1894.5,441.4 1895.0,451.5 1895.5,455.2 1896.0,446.5 1896.5,456.8 1897.0,443.6 1897.5,456.0 1898.0,447.0 1898.5,450.2 1899.0,446.4 1899.5,451.4 1900.0,447.5 1900.5,453.9 1901.0,448.4 1901.5,449.5 1902.0,447.0 1902.5,450.4 1903.0,445.9 1903.5,447.0 1904.0,441.3 1904.5,445.9 1905.0,446.2 1905.5,447.4 1906.0,448.4 1906.5,440.5 1907.0,452.1 1907.5,459.3 1908.0,448.3 1908.5,438.4 1909.0,452.1 1909.5,448.2 1910.0,447.1 1910.5,448.9 1911.0,448.2 1911.5,447.1 1912.0,451.0 1912.5,449.5 1913.0,446.6 1913.5,451.7 1914.0,454.5 1914.5,454.6 1915.0,443.3 1915.5,448.5 1916.0,451.3 1916.5,449.1 1917.0,447.7 1917.5,454.0 1918.0,450.0 1918.5,450.6 1919.0,440.8 1919.5,441.2 1920.0,445.8 1920.5,449.2 1921.0,452.9 1921.5,444.4 1922.0,456.1 1922.5,449.1 1923.0,445.9 1923.5,452.2 1924.0,455.4 1924.5,448.6 1925.0,448.5 1925.5,449.6 1926.0,452.1 1926.5,447.1 1927.0,448.0 1927.5,449.0 1928.0,447.5 1928.5,450.0 1929.0,444.7 1929.5,438.4 1930.0,445.5 1930.5,446.2 1931.0,457.4 1931.5,453.3 1932.0,449.9 1932.5,445.6 1933.0,442.1 1933.5,444.6 1934.0,450.4 1934.5,447.2 1935.0,442.7 1935.5,448.8 1936.0,444.5 1936.5,450.0 1937.0,457.2 1937.5,452.1 1938.0,435.4 1938.5,453.3 1939.0,445.1 1939.5,449.1 1940.0,449.4 1940.5,448.9 1941.0,438.9 1941.5,454.0 1942.0,443.0 1942.5,443.2 1943.0,448.9 1943.5,451.2 1944.0,444.9 1944.5,439.8 1945.0,449.8 1945.5,446.3 1946.0,451.9 1946.5,453.8 1947.0,441.5 1947.5,441.4 1948.0,446.9 1948.5,443.4 1949.0,456.1 1949.5,448.3 1950.0,448.3 1950.5,449.0 1951.0,455.2 1951.5,449.9 1952.0,451.9 1952.5,444.4 1953.0,451.6 1953.5,445.9 1954.0,445.0 1954.5,444.9 1955.0,453.7 1955.5,446.1 1956.0,449.7 1956.5,448.2 1957.0,450.3 1957.5,444.8 1958.0,441.0 1958.5,446.0 1959.0,448.1 1959.5,443.4 1960.0,447.4 1960.5,450.9 1961.0,437.6 1961.5,455.0 1962.0,452.6 1962.5,449.1 1963.0,453.5 1963.5,437.6 1964.0,448.5 1964.5,449.6 1965.0,450.1 1965.5,449.9 1966.0,456.8 1966.5,451.1 1967.0,444.6 1967.5,440.4 1968.0,442.8 1968.5,445.7 1969.0,448.7 1969.5,447.5 1970.0,448.8 1970.5,444.7 1971.0,445.5 1971.5,449.5 1972.0,446.3 1972.5,444.1 1973.0,445.2 1973.5,449.8 1974.0,444.8 1974.5,445.8 1975.0,456.5 1975.5,446.8 1976.0,448.4 1976.5,452.9 1977.0,456.0 1977.5,450.8 1978.0,440.9 1978.5,459.3 1979.0,442.8 1979.5,441.5 1980.0,443.2 1980.5,454.6 1981.0,447.0 1981.5,437.7 1982.0,456.6 1982.5,439.4 1983.0,456.6 1983.5,434.5 1984.0,446.6 1984.5,447.3 1985.0,444.2 1985.5,446.8 1986.0,452.6 1986.5,448.2 1987.0,450.8 1987.5,447.8 1988.0,448.2 1988.5,444.3 1989.0,446.9 1989.5,451.7 1990.0,452.7 1990.5,441.4 1991.0,444.0 1991.5,448.0 1992.0,446.5 1992.5,443.1 1993.0,436.9 1993.5,448.5 1994.0,443.6 1994.5,457.4 1995.0,453.0 1995.5,449.3 1996.0,440.6 1996.5,443.5 1997.0,452.7 1997.5,443.2 1998.0,445.9 1998.5,449.3 1999.0,450.2 1999.5,445.3 2000.0,449.7 2000.5,438.7 2001.0,447.1 2001.5,446.5 2002.0,455.5 2002.5,449.2 2003.0,435.8 2003.5,454.8 2004.0,460.7 2004.5,449.9 2005.0,450.6 2005.5,455.1 2006.0,447.0 2006.5,446.8 2007.0,448.3 2007.5,430.4 2008.0,444.2 2008.5,450.4 2009.0,450.0 2009.5,439.3 2010.0,445.7 2010.5,444.1 2011.0,443.3 2011.5,451.6 2012.0,442.4 2012.5,445.8 2013.0,450.1 2013.5,442.2 2014.0,446.7 2014.5,441.8 2015.0,446.6 2015.5,446.1 2016.0,449.9 2016.5,444.4 2017.0,445.2 2017.5,438.5 2018.0,443.4 2018.5,441.4 2019.0,440.0 2019.5,444.7 2020.0,446.5 2020.5,446.2 2021.0,452.1 2021.5,443.8 2022.0,442.8 2022.5,435.8 2023.0,452.2 2023.5,450.1 2024.0,449.8 2024.5,442.7 2025.0,443.5 2025.5,443.7 2026.0,440.0 2026.5,448.5 2027.0,446.1 2027.5,452.7 2028.0,447.5 2028.5,445.6 2029.0,449.9 2029.5,450.2 2030.0,441.1 2030.5,438.5 2031.0,440.7 2031.5,451.2 2032.0,449.8 2032.5,453.4 2033.0,446.9 2033.5,448.5 2034.0,444.6 2034.5,456.5 2035.0,450.1 2035.5,454.4 2036.0,449.1 2036.5,442.8 2037.0,451.6 2037.5,439.0 2038.0,450.7 2038.5,446.0 2039.0,448.6 2039.5,440.6 2040.0,447.0 2040.5,443.4 2041.0,442.3 2041.5,453.6 2042.0,449.2 2042.5,444.7 2043.0,443.2 2043.5,444.7 2044.0,447.4 2044.5,448.2 2045.0,447.0 2045.5,437.9 2046.0,446.6 2046.5,447.7 2047.0,450.2 2047.5,446.4 2048.0,445.7 2048.5,446.8 2049.0,443.8 2049.5,456.9 2050.0,442.7 2050.5,441.6 2051.0,447.8 2051.5,447.8 2052.0,449.6 2052.5,445.5 2053.0,443.6 2053.5,442.0 2054.0,446.4 2054.5,447.7 2055.0,446.2 2055.5,440.3 2056.0,439.8 2056.5,451.9 2057.0,446.5 2057.5,445.5 2058.0,455.3 2058.5,451.0 2059.0,439.7 2059.5,444.8 2060.0,451.1 2060.5,449.5 2061.0,447.9 2061.5,454.3 2062.0,439.7 2062.5,450.5 2063.0,443.8 2063.5,452.5 2064.0,446.2 2064.5,438.4 2065.0,447.7 2065.5,433.9 2066.0,452.0 2066.5,448.2 2067.0,452.4 2067.5,448.0 2068.0,447.5 2068.5,453.8 2069.0,450.6 2069.5,439.3 2070.0,444.0 2070.5,454.0 2071.0,440.6 2071.5,440.2 2072.0,442.3 2072.5,438.9 2073.0,447.0 2073.5,445.3 2074.0,451.3 2074.5,444.8 2075.0,454.2 2075.5,444.8 2076.0,450.7 2076.5,452.1 2077.0,448.1 2077.5,445.2 2078.0,439.5 2078.5,440.7 2079.0,448.9 2079.5,444.2 2080.0,449.1 2080.5,442.6 2081.0,446.1 2081.5,446.4 2082.0,449.7 2082.5,444.3 2083.0,449.6 2083.5,437.8 2084.0,439.6 2084.5,446.5 2085.0,445.2 2085.5,448.4 2086.0,437.9 2086.5,447.4 2087.0,437.5 2087.5,452.6 2088.0,442.4 2088.5,443.7 2089.0,448.8 2089.5,447.9 2090.0,443.3 2090.5,445.1 2091.0,454.5 2091.5,441.4 2092.0,453.8 2092.5,443.4 2093.0,440.1 2093.5,452.6 2094.0,449.4 2094.5,446.7 2095.0,451.4 2095.5,445.6 2096.0,444.1 2096.5,449.2 2097.0,447.9 2097.5,443.2 2098.0,452.9 2098.5,448.8 2099.0,454.8 2099.5,464.0 2100.0,440.5 2100.5,449.6 2101.0,448.7 2101.5,441.0 2102.0,449.4 2102.5,434.0 2103.0,440.6 2103.5,450.5 2104.0,439.5 2104.5,443.0 2105.0,445.8 2105.5,439.7 2106.0,442.7 2106.5,447.8 2107.0,446.5 2107.5,444.8 2108.0,452.6 2108.5,445.0 2109.0,449.8 2109.5,446.5 2110.0,439.2 2110.5,441.4 2111.0,448.7 2111.5,438.9 2112.0,447.1 2112.5,449.3 2113.0,440.5 2113.5,437.0 2114.0,451.5 2114.5,454.6 2115.0,447.2 2115.5,454.6 2116.0,449.0 2116.5,443.3 2117.0,446.8 2117.5,449.4 2118.0,430.0 2118.5,447.4 2119.0,452.2 2119.5,449.6 2120.0,444.3 2120.5,444.4 2121.0,436.6 2121.5,450.1 2122.0,434.9 2122.5,449.8 2123.0,447.9 2123.5,443.9 2124.0,448.5 2124.5,450.7 2125.0,443.3 2125.5,439.1 2126.0,450.4 2126.5,445.4 2127.0,447.2 2127.5,440.4 2128.0,452.9 2128.5,450.3 2129.0,439.1 2129.5,436.6 2130.0,447.1 2130.5,444.9 2131.0,442.5 2131.5,442.1 2132.0,445.2 2132.5,446.5 2133.0,446.6 2133.5,454.3 2134.0,453.6 2134.5,434.3 2135.0,450.2 2135.5,452.7 2136.0,437.7 2136.5,442.6 2137.0,443.5 2137.5,449.6 2138.0,447.8 2138.5,447.3 2139.0,446.8 2139.5,450.5 2140.0,447.4 2140.5,441.0 2141.0,440.9 2141.5,442.5 2142.0,454.9 2142.5,447.7 2143.0,449.5 2143.5,454.4 2144.0,447.8 2144.5,435.8 2145.0,447.4 2145.5,442.8 2146.0,443.1 2146.5,442.2 2147.0,445.0 2147.5,439.7 2148.0,450.6 2148.5,449.0 2149.0,448.0 2149.5,447.7 2150.0,440.4 2150.5,450.1 2151.0,440.8 2151.5,437.5 2152.0,444.0 2152.5,446.4 2153.0,446.7 2153.5,451.2 2154.0,443.8 2154.5,451.9 2155.0,453.7 2155.5,447.6 2156.0,440.6 2156.5,452.6 2157.0,446.0 2157.5,446.7 2158.0,438.6 2158.5,436.7 2159.0,453.8 2159.5,449.8 2160.0,442.0 2160.5,443.6 2161.0,439.8 2161.5,445.7 2162.0,435.5 2162.5,449.8 2163.0,447.8 2163.5,451.4 2164.0,446.2 2164.5,448.9 2165.0,447.9 2165.5,448.3 2166.0,442.7 2166.5,451.2 2167.0,439.1 2167.5,442.9 2168.0,445.3 2168.5,457.2 2169.0,440.7 2169.5,447.0 2170.0,447.7 2170.5,437.2 2171.0,457.8 2171.5,450.8 2172.0,447.1 2172.5,444.5 2173.0,449.5 2173.5,434.0 2174.0,453.7 2174.5,443.9 2175.0,450.6 2175.5,440.3 2176.0,442.3 2176.5,433.5 2177.0,443.9 2177.5,445.0 2178.0,441.8 2178.5,453.2 2179.0,444.6 2179.5,444.7 2180.0,440.5 2180.5,448.2 2181.0,442.8 2181.5,444.6 2182.0,440.1 2182.5,451.0 2183.0,452.2 2183.5,443.7 2184.0,447.3 2184.5,442.1 2185.0,450.2 2185.5,450.0 2186.0,441.8 2186.5,448.4 2187.0,436.2 2187.5,444.7 2188.0,440.1 2188.5,446.3 2189.0,446.4 2189.5,438.5 2190.0,439.5 2190.5,442.7 2191.0,443.5 2191.5,443.8 2192.0,445.7 2192.5,442.9 2193.0,455.1 2193.5,447.4 2194.0,442.0 2194.5,451.4 2195.0,448.5 2195.5,451.1 2196.0,451.1 2196.5,439.9 2197.0,443.5 2197.5,444.8 2198.0,437.8 2198.5,448.2 2199.0,441.6 2199.5,448.7 2200.0,449.1 2200.5,443.3 2201.0,435.9 2201.5,448.7 2202.0,441.5 2202.5,448.4 2203.0,435.6 2203.5,452.6 2204.0,446.3 2204.5,449.2 2205.0,446.1 2205.5,452.4 2206.0,453.6 2206.5,441.8 2207.0,443.6 2207.5,448.2 2208.0,449.8 2208.5,435.0 2209.0,446.8 2209.5,438.6"/>
<polyline clip-path="url(#cl)" stroke="#008080" points="277.0,1463.1 277.9,1470.3 278.9,1468.2 279.8,1468.1 280.8,1474.2 281.7,1455.0 282.7,1458.9 283.6,1454.2 284.6,1462.4 285.5,1469.9 286.5,1463.0 287.4,1466.5 288.4,1450.2 289.3,1464.2 290.3,1457.0 291.2,1475.2 292.2,1469.2 293.1,1469.6 294.1,1462.8 295.0,1467.3 296.0,1467.6 296.9,1460.8 297.9,1459.8 298.8,1462.4 299.8,1459.1 300.7,1459.1 301.7,1439.0 302.6,1458.2 303.6,1468.4 304.5,1452.3 305.5,1468.8 306.4,1458.9 307.4,1459.5 308.3,1454.0 309.3,1462.2 310.2,1461.5 311.2,1464.5 312.1,1459.5 313.1,1463.8 314.0,1475.5 315.0,1465.9 315.9,1459.3 316.9,1469.6 317.8,1462.3 318.8,1467.2 319.7,1467.3 320.7,1460.5 321.6,1450.0 322.6,1460.8 323.5,1466.9 324.5,1460.6 325.4,1466.1 326.4,1469.8 327.3,1459.4 328.3,1471.5 329.2,1474.1 330.2,1470.4 331.1,1471.0 332.1,1470.6 333.0,1478.4 334.0,1464.4 334.9,1463.1 335.9,1467.2 336.8,1456.9 337.8,1452.5 338.7,1457.1 339.7,1465.6 340.6,1466.3 341.6,1452.6 342.5,1450.3 343.5,1460.9 344.4,1461.8 345.4,1462.7 346.3,1467.6 347.3,1471.3 348.2,1464.6 349.2,1467.1 350.1,1455.5 351.1,1455.0 352.0,1464.6 353.0,1467.5 353.9,1467.9 354.9,1466.9 355.8,1468.2 356.8,1468.4 357.7,1451.0 358.7,1457.9 359.6,1465.9 360.6,1466.9 361.5,1452.6 362.5,1470.8 363.4,1459.8 364.4,1461.2 365.3,1464.6 366.3,1467.8 367.2,1453.0 368.2,1469.4 369.1,1463.2 370.1,1457.4 371.0,1460.8 372.0,1447.8 372.9,1439.0 373.9,1463.8 374.8,1457.7 375.8,1460.3 376.7,1461.5 377.7,1462.8 378.6,1469.3 379.6,1462.2 380.5,1460.6 381.5,1466.0 382.4,1476.4 383.4,1459.9 384.3,1465.7 385.3,1451.5 386.2,1471.2 387.2,1466.5 388.1,1471.1 389.1,1461.6 390.0,1454.9 391.0,1467.9 391.9,1466.9 392.9,1455.9 393.8,1451.7 394.8,1464.7 395.7,1460.4 396.7,1479.2 397.6,1457.3 398.6,1457.8 399.5,1460.5 400.5,1449.9 401.4,1455.1 402.4,1472.2 403.3,1460.1 404.3,1456.7 405.2,1452.1 406.2,1464.6 407.1,1465.0 408.1,1462.1 409.0,1457.7 410.0,1462.2 410.9,1462.6 411.9,1455.3 412.8,1463.9 413.8,1445.2 414.7,1450.6 415.7,1457.1 416.6,1458.3 417.6,1450.9 418.5,1460.8 419.5,1465.5 420.4,1461.1 421.4,1459.3 422.3,1463.1 423.3,1460.0 424.2,1449.2 425.2,1455.2 426.1,1464.9 427.1,1448.1 428.0,1455.8 429.0,1452.3 429.9,1448.3 430.9,1447.0 431.8,1453.9 432.8,1454.7 433.7,1453.8 434.7,1441.0 435.6,1447.8 436.6,1450.6 437.5,1453.0 438.5,1448.9 439.4,1447.1 440.4,1445.6 441.3,1439.7 442.3,1424.1 443.2,1425.2 444.2,1415.1 445.1,1399.1 446.1,1399.6 447.0,1421.6 447.0,1399.7 448.0,1389.0 448.9,1397.6 449.9,1409.2 450.8,1395.6 451.8,1394.6 452.7,1384.5 453.7,1378.0 454.6,1376.8 455.6,1359.8 456.5,1335.8 457.5,1319.1 458.4,1290.3 459.4,1242.9 460.3,1196.8 461.3,1134.9 462.2,1054.5 463.2,985.8 464.1,903.3 465.1,856.6 465.5,844.9 466.0,856.3 467.0,925.2 467.9,983.5 468.9,1074.8 469.8,1142.0 470.8,1207.9 471.7,1256.4 472.7,1284.6 473.6,1317.4 474.6,1343.3 475.5,1362.0 476.5,1375.9 477.4,1386.2 478.4,1402.5 479.3,1415.4 480.3,1417.1 481.2,1414.3 482.2,1427.0 483.1,1429.0 484.1,1435.4 485.0,1448.0 486.0,1436.9 486.9,1440.7 487.9,1437.0 488.8,1443.0 489.8,1442.9 490.7,1459.1 491.7,1451.8 492.6,1447.1 493.6,1465.2 494.5,1444.2 495.5,1460.0 496.4,1461.9 497.4,1459.8 498.3,1454.9 499.3,1456.5 500.2,1455.7 501.2,1463.9 502.1,1443.3 503.1,1456.1 504.0,1461.0 505.0,1456.5 505.9,1448.5 506.9,1459.5 507.8,1456.3 508.8,1467.2 509.7,1471.5 510.7,1462.8 511.6,1449.5 512.6,1461.5 513.5,1456.8 514.5,1467.9 515.4,1474.9 516.4,1465.8 517.3,1477.6 518.3,1474.3 519.2,1468.9 520.2,1458.6 521.1,1465.9 522.1,1455.6 523.0,1472.6 524.0,1466.5 524.9,1475.2 525.9,1468.0 526.8,1453.1 527.8,1470.7 528.7,1472.8 529.7,1477.8 530.6,1460.1 531.6,1460.6 532.5,1467.3 533.5,1459.8 534.4,1457.7 535.4,1459.7 536.3,1484.6 537.3,1462.9 538.2,1460.3 539.2,1464.2 540.1,1467.3 541.1,1476.0 542.0,1473.7 543.0,1472.7 543.9,1467.7 544.9,1468.5 545.8,1463.2 546.8,1457.4 547.7,1481.4 548.7,1464.6 549.6,1474.6 550.6,1465.6 551.5,1467.2 552.5,1466.8 553.4,1458.6 554.4,1467.4 555.3,1470.5 556.3,1473.6 557.2,1471.4 558.2,1474.9 559.1,1470.1 560.1,1468.1 561.0,1454.9 562.0,1464.6 562.9,1478.7 563.9,1469.0 564.8,1473.6 565.8,1466.9 566.7,1463.8 567.7,1482.1 568.6,1470.8 569.6,1478.5 570.5,1472.0 571.5,1466.5 572.4,1453.4 573.4,1469.1 574.3,1458.0 575.3,1453.6 576.2,1476.9 577.2,1473.5 578.1,1472.9 579.1,1469.0 580.0,1468.4 581.0,1471.5 581.9,1469.8 582.9,1469.2 583.8,1473.7 584.8,1452.2 585.7,1474.8 586.7,1464.5 587.6,1474.6 588.6,1476.7 589.5,1463.1 590.5,1474.2 591.4,1474.1 592.4,1464.0 593.3,1465.1 594.3,1469.4 595.2,1453.6 596.2,1465.6 597.1,1469.9 598.1,1465.6 599.0,1457.8 600.0,1466.0 600.9,1478.8 601.9,1477.6 602.8,1467.8 603.8,1463.2 604.7,1468.6 605.7,1468.8 606.6,1464.1 607.6,1466.4 608.5,1472.9 609.5,1475.0 610.4,1452.3 611.4,1475.3 612.3,1469.7 613.3,1476.5 614.2,1468.7 615.2,1471.8 616.1,1479.9 617.1,1448.8 618.0,1479.6 619.0,1470.1 619.9,1456.6 620.9,1450.9 621.8,1471.0 622.8,1462.0 623.7,1475.7 624.7,1470.4 625.6,1468.1 626.6,1475.7 627.5,1470.3 628.5,1474.0 629.4,1474.6 630.4,1471.2 631.3,1474.3 632.3,1474.3 633.2,1459.8 634.2,1467.2 635.1,1468.3 636.1,1466.5 637.0,1458.4 638.0,1465.3 638.9,1471.4 639.9,1470.4 640.8,1479.4 641.8,1465.1 642.7,1466.3 643.7,1465.3 644.6,1467.1 645.6,1465.1 646.5,1456.6 647.5,1471.5 648.4,1475.9 649.4,1476.8 650.3,1461.9 651.3,1468.0 652.2,1481.7 653.2,1468.6 654.1,1471.6 655.1,1468.3 656.0,1476.1 657.0,1475.8 657.9,1485.0 658.9,1472.7 659.8,1472.4 660.8,1461.2 661.7,1466.6 662.7,1464.7 663.6,1467.2 664.6,1460.6 665.5,1477.6 666.5,1462.4 667.4,1471.3 668.4,1461.0 669.3,1471.8 670.3,1480.6 671.2,1464.0 672.2,1471.9 673.1,1469.1 674.1,1471.4 675.0,1472.3 676.0,1465.3 676.9,1468.3 677.9,1465.6 678.8,1464.0 679.8,1461.3 680.7,1476.1 681.7,1464.6 682.6,1474.1 683.6,1473.3 684.5,1462.9 685.5,1476.7 686.4,1463.9 687.4,1473.9 688.3,1479.4 689.3,1464.9 690.2,1463.4 691.2,1463.4 692.1,1485.1 693.1,1467.2 694.0,1461.2 695.0,1475.2 695.9,1468.5 696.9,1469.5 697.8,1463.0 698.8,1454.8 699.7,1464.8 700.7,1462.7 701.6,1458.8 702.6,1462.4 703.5,1463.3 704.5,1475.1 705.4,1474.4 706.4,1473.1 707.3,1466.1 708.3,1461.2 709.2,1471.6 710.2,1472.7 711.1,1476.4 712.1,1469.4 713.0,1468.8 714.0,1471.7 714.9,1463.4 715.9,1464.2 716.8,1473.9 717.8,1461.2 718.7,1469.1 719.7,1474.9 720.6,1471.2 721.6,1472.5 722.5,1462.2 723.5,1468.8 724.4,1467.8 725.4,1473.7 726.3,1472.4 727.3,1469.8 728.2,1482.4 729.2,1473.3 730.1,1467.7 731.1,1465.6 732.0,1469.4 733.0,1465.9 733.9,1480.7 734.9,1473.5 735.8,1467.6 736.8,1465.3 737.7,1462.5 738.7,1467.9 739.6,1478.5 740.6,1475.3 741.5,1469.3 742.5,1470.7 743.4,1457.2 744.4,1474.8 745.3,1468.2 746.3,1478.9 747.2,1468.5 748.2,1466.5 749.1,1471.2 750.1,1465.5 751.0,1478.7 752.0,1471.7 752.9,1472.2 753.9,1472.0 754.8,1467.4 755.8,1473.0 756.7,1470.9 757.7,1481.5 758.6,1470.2 759.6,1472.3 760.5,1466.7 761.5,1467.3 762.4,1467.8 763.4,1478.5 764.3,1470.4 765.3,1476.4 766.2,1468.2 767.2,1467.5 768.1,1457.1 769.1,1475.5 770.0,1483.8 771.0,1468.5 771.9,1479.6 772.9,1475.7 773.8,1465.4 774.8,1475.1 775.7,1464.0 776.7,1468.0 777.6,1478.2 778.6,1471.1 779.5,1462.2 780.5,1479.5 781.4,1462.6 782.4,1468.9 783.3,1467.7 784.3,1468.9 785.2,1464.3 786.2,1459.0 787.1,1482.4 788.1,1463.6 789.0,1464.0 790.0,1453.6 790.9,1470.5 791.9,1478.5 792.8,1479.3 793.8,1488.4 794.7,1479.9 795.7,1472.7 796.6,1470.1 797.6,1479.5 798.5,1469.7 799.5,1471.3 800.4,1463.5 801.4,1470.6 802.3,1483.1 803.3,1469.4 804.2,1472.6 805.2,1453.8 806.1,1478.9 807.1,1472.4 808.0,1479.3 809.0,1471.4 809.9,1464.1 810.9,1460.7 811.8,1473.1 812.8,1469.5 813.7,1463.1 814.7,1469.2 815.6,1465.3 816.6,1474.3 817.5,1466.7 818.5,1461.2 819.4,1468.8 820.4,1465.6 821.3,1479.1 822.3,1466.1 823.2,1460.3 824.2,1468.7 825.1,1467.3 826.1,1470.8 827.0,1470.4 828.0,1462.0 828.9,1468.5 829.9,1468.1 830.8,1460.8 831.8,1465.0 832.7,1470.1 833.7,1458.1 834.6,1461.4 835.6,1465.5 836.5,1468.0 837.5,1472.0 838.4,1459.4 839.4,1470.5 840.3,1472.6 841.3,1478.7 842.2,1465.6 843.2,1462.3 844.1,1458.1 845.1,1472.1 846.0,1477.0 847.0,1463.8 847.9,1471.4 848.9,1474.2 849.8,1474.8 850.8,1465.9 851.7,1472.9 852.7,1468.3 853.6,1462.4 854.6,1470.5 855.5,1471.2 856.5,1462.4 857.4,1471.8 858.4,1482.2 859.3,1458.9 860.3,1473.6 861.2,1475.0 862.2,1469.3 863.1,1471.1 864.1,1467.2 865.0,1478.0 866.0,1462.6 866.9,1467.9 867.9,1455.9 868.8,1470.9 869.8,1471.2 870.7,1457.5 871.7,1462.9 872.6,1471.8 873.6,1465.3 874.5,1460.5 875.5,1451.8 876.4,1470.8 877.4,1481.4 878.3,1465.4 879.3,1471.3 880.2,1471.2 881.2,1467.8 882.1,1469.0 883.1,1469.1 884.0,1462.5 885.0,1485.0 885.9,1486.5 886.9,1470.4 887.8,1480.2 888.8,1462.8 889.7,1466.8 890.7,1475.9 891.6,1460.6 892.6,1459.6 893.5,1470.6 894.5,1455.1 895.4,1479.8 896.4,1473.3 897.3,1470.0 898.3,1472.9 899.2,1462.4 900.2,1462.2 901.1,1474.0 902.1,1474.7 903.0,1469.4 904.0,1468.2 904.9,1464.9 905.9,1477.8 906.8,1458.6 907.8,1462.8 908.7,1464.9 909.7,1458.3 910.6,1459.7 911.6,1461.6 912.5,1475.3 913.5,1480.5 914.4,1470.8 915.4,1457.7 916.3,1464.4 917.3,1467.6 918.2,1466.7 919.2,1466.0 920.1,1471.9 921.1,1455.5 922.0,1464.6 923.0,1469.9 923.9,1473.2 924.9,1470.4 925.8,1468.6 926.8,1467.6 927.7,1464.1 928.7,1469.1 929.6,1467.2 930.6,1463.9 931.5,1476.6 932.5,1476.5 933.4,1466.1 934.4,1472.7 935.3,1476.6 936.3,1470.4 937.2,1469.4 938.2,1471.9 939.1,1457.6 940.1,1459.1 941.0,1472.1 942.0,1470.4 942.9,1477.7 943.9,1465.3 944.8,1475.9 945.8,1475.7 946.7,1481.7 947.7,1463.3 948.6,1466.3 949.6,1470.4 950.5,1470.4 951.5,1462.0 952.4,1464.8 953.4,1459.9 954.3,1484.0 955.3,1468.1 956.2,1468.5 957.2,1464.5 958.1,1468.7 959.1,1473.8 960.0,1466.4 961.0,1468.4 961.9,1483.0 962.9,1474.7 963.8,1470.1 964.8,1465.7 965.7,1468.4 966.7,1463.6 967.6,1470.3 968.6,1464.0 969.5,1463.6 970.5,1465.7 971.4,1461.3 972.4,1469.7 973.3,1485.1 974.3,1464.2 975.2,1457.2 976.2,1474.6 977.1,1467.5 978.1,1481.3 979.0,1470.6 980.0,1474.3 980.9,1462.9 981.9,1457.4 982.8,1466.7 983.8,1472.4 984.7,1462.2 985.7,1457.3 986.6,1463.9 987.6,1464.8 988.5,1465.6 989.5,1467.5 990.4,1483.6 991.4,1467.9 992.3,1464.4 993.3,1460.4 994.2,1472.9 995.2,1457.1 996.1,1477.2 997.1,1467.5 998.0,1457.6 999.0,1468.8 999.9,1466.8 1000.9,1475.6 1001.8,1457.6 1002.8,1468.8 1003.7,1467.4 1004.7,1473.6 1005.6,1459.9 1006.6,1462.3 1007.5,1480.5 1008.5,1471.1 1009.4,1457.6 1010.4,1469.6 1011.3,1462.2 1012.3,1462.8 1013.2,1459.3 1014.2,1473.9 1015.1,1463.8 1016.1,1468.7 1017.0,1467.9 1018.0,1457.3 1018.9,1462.4 1019.9,1472.4 1020.8,1457.0 1021.8,1469.0 1022.7,1466.7 1023.7,1471.6 1024.6,1471.9 1025.6,1472.8 1026.5,1467.7 1027.5,1469.1 1028.4,1462.7 1029.4,1463.8 1030.3,1473.3 1031.3,1463.4 1032.2,1474.1 1033.2,1474.0 1034.1,1462.1 1035.1,1471.1 1036.0,1462.0 1037.0,1469.6 1037.9,1462.2 1038.9,1469.6 1039.8,1468.5 1040.8,1460.5 1041.7,1481.0 1042.7,1473.8 1043.6,1456.8 1044.6,1469.7 1045.5,1464.6 1046.5,1481.0 1047.4,1467.0 1048.4,1470.0 1049.3,1466.2 1050.3,1471.6 1051.2,1463.9 1052.2,1461.5 1053.1,1437.0 1054.1,1464.6 1055.0,1471.6 1056.0,1468.0 1056.9,1464.5 1057.9,1464.7 1058.8,1461.4 1059.8,1468.3 1060.7,1454.0 1061.7,1466.0 1062.6,1475.3 1063.6,1465.0 1064.5,1463.1 1065.5,1467.7 1066.4,1461.3 1067.4,1462.4 1068.3,1472.0 1069.3,1463.2 1070.2,1480.4 1071.2,1471.0 1072.1,1466.7 1073.1,1463.3 1074.0,1465.7 1075.0,1452.4 1075.9,1469.0 1076.9,1473.3 1077.8,1471.2 1078.8,1464.5 1079.7,1471.5 1080.7,1471.6 1081.6,1466.5 1082.6,1469.7 1083.5,1474.3 1084.5,1470.4 1085.4,1464.9 1086.4,1467.5 1087.3,1468.4 1088.3,1456.8 1089.2,1468.2 1090.2,1466.5 1091.1,1453.0 1092.1,1456.0 1093.0,1479.3 1094.0,1468.0 1094.9,1476.3 1095.9,1464.9 1096.8,1477.5 1097.8,1471.1 1098.7,1462.8 1099.7,1469.2 1100.6,1477.7 1101.6,1483.2 1102.5,1470.8 1103.5,1464.4 1104.4,1461.7 1105.4,1471.9 1106.3,1474.6 1107.3,1468.3 1108.2,1466.7 1109.2,1472.8 1110.1,1470.7 1111.1,1470.0 1112.0,1457.3 1113.0,1465.3 1113.9,1479.9 1114.9,1467.3 1115.8,1483.5 1116.8,1470.0 1117.7,1465.6 1118.7,1469.3 1119.6,1471.4 1120.6,1462.7 1121.5,1469.1 1122.5,1464.7 1123.4,1477.1 1124.4,1464.4 1125.3,1468.2 1126.3,1457.5 1127.2,1458.4 1128.2,1466.8 1129.1,1461.4 1130.1,1465.5 1131.0,1469.0 1132.0,1471.1 1132.9,1458.1 1133.9,1466.2 1134.8,1471.8 1135.8,1462.9 1136.7,1458.8 1137.7,1462.8 1138.6,1478.1 1139.6,1467.5 1140.5,1477.7 1141.5,1465.3 1142.4,1475.2 1143.4,1457.8 1144.3,1465.7 1145.3,1467.9 1146.2,1479.0 1147.2,1470.4 1148.1,1474.7 1149.1,1464.5 1150.0,1464.6 1151.0,1475.7 1151.9,1476.8 1152.9,1475.4 1153.8,1475.3 1154.8,1463.9 1155.7,1481.6 1156.7,1468.5 1157.6,1475.7 1158.6,1472.3 1159.5,1455.7 1160.5,1454.5 1161.4,1456.7 1162.4,1467.0 1163.3,1474.7 1164.3,1465.7 1165.2,1472.9 1166.2,1459.1 1167.1,1463.2 1168.1,1461.3 1169.0,1467.5 1170.0,1459.7 1170.9,1466.6 1171.9,1471.2 1172.8,1464.2 1173.8,1461.3 1174.7,1464.2 1175.7,1459.2 1176.6,1460.4 1177.6,1472.5 1178.5,1469.5 1179.5,1457.7 1180.4,1465.3 1181.4,1470.2 1182.3,1472.5 1183.3,1471.4 1184.2,1473.7 1185.2,1466.9 1186.1,1467.1 1187.1,1465.6 1188.0,1474.5 1189.0,1472.9 1189.9,1479.0 1190.9,1474.6 1191.8,1461.8 1192.8,1457.4 1193.7,1458.0 1194.7,1461.2 1195.6,1471.2 1196.6,1457.9 1197.5,1453.7 1198.5,1465.9 1199.4,1472.4 1200.4,1472.2 1201.3,1478.1 1202.3,1466.8 1203.2,1463.3 1204.2,1465.0 1205.1,1458.1 1206.1,1462.5 1207.0,1475.5 1208.0,1480.8 1208.9,1475.3 1209.9,1468.9 1210.8,1465.3 1211.8,1468.5 1212.7,1454.4 1213.7,1470.7 1214.6,1472.0 1215.6,1466.0 1216.5,1467.0 1217.5,1455.6 1218.4,1472.0 1219.4,1472.0 1220.3,1448.5 1221.3,1462.9 1222.2,1469.1 1223.2,1477.8 1224.1,1461.1 1225.1,1466.5 1226.0,1476.5"/>
<polyline clip-path="url(#cr)" stroke="#008080" points="1260.0,1414.2 1260.5,1455.1 1261.0,1412.0 1261.5,1453.4 1262.0,1416.4 1262.5,1452.6 1263.0,1414.6 1263.5,1453.0 1264.0,1411.8 1264.5,1452.5 1265.0,1412.9 1265.5,1454.1 1266.0,1414.2 1266.5,1453.0 1267.0,1413.7 1267.5,1453.3 1268.0,1412.0 1268.5,1455.1 1269.0,1413.8 1269.5,1451.8 1270.0,1413.3 1270.5,1451.3 1271.0,1411.5 1271.5,1456.5 1272.0,1415.0 1272.5,1453.8 1273.0,1414.0 1273.5,1456.0 1274.0,1415.6 1274.5,1456.6 1275.0,1411.9 1275.5,1454.0 1276.0,1413.2 1276.5,1450.4 1277.0,1411.9 1277.5,1454.6 1278.0,1412.7 1278.5,1453.1 1279.0,1411.3 1279.5,1453.1 1280.0,1413.0 1280.5,1438.2 1281.0,1436.1 1281.5,1443.8 1282.0,1439.4 1282.5,1438.8 1283.0,1435.2 1283.5,1426.2 1284.0,1429.1 1284.5,1428.3 1285.0,1411.5 1285.5,1404.8 1286.0,1386.6 1286.5,1378.4 1287.0,1364.0 1287.4,1361.5 1287.5,1358.6 1288.0,1373.6 1288.5,1375.4 1289.0,1389.9 1289.5,1400.3 1290.0,1416.4 1290.5,1415.1 1291.0,1418.7 1291.5,1428.6 1292.0,1431.1 1292.5,1425.5 1293.0,1401.9 1293.5,1405.9 1294.0,1397.5 1294.5,1389.8 1295.0,1392.3 1295.5,1410.1 1296.0,1406.4 1296.5,1413.9 1297.0,1431.4 1297.5,1434.7 1298.0,1440.4 1298.5,1439.7 1299.0,1447.0 1299.5,1452.2 1300.0,1440.2 1300.5,1443.5 1301.0,1460.9 1301.5,1460.4 1302.0,1453.2 1302.5,1450.8 1303.0,1456.4 1303.5,1450.9 1304.0,1456.5 1304.5,1468.8 1305.0,1460.1 1305.5,1466.6 1306.0,1458.6 1306.5,1462.5 1307.0,1468.8 1307.5,1452.8 1308.0,1458.9 1308.5,1460.3 1309.0,1463.1 1309.5,1470.9 1310.0,1465.9 1310.5,1453.0 1311.0,1460.5 1311.5,1456.9 1312.0,1456.9 1312.5,1474.7 1313.0,1456.3 1313.5,1464.2 1314.0,1458.7 1314.5,1468.2 1315.0,1465.3 1315.5,1464.1 1316.0,1463.0 1316.5,1470.3 1317.0,1458.1 1317.5,1459.4 1318.0,1457.2 1318.5,1472.0 1319.0,1462.3 1319.5,1458.0 1320.0,1461.8 1320.5,1479.3 1321.0,1463.8 1321.5,1469.7 1322.0,1467.5 1322.5,1464.7 1323.0,1460.7 1323.5,1463.0 1324.0,1462.9 1324.5,1451.9 1325.0,1480.7 1325.5,1470.9 1326.0,1466.1 1326.5,1464.3 1327.0,1460.9 1327.5,1471.4 1328.0,1464.6 1328.5,1468.7 1329.0,1457.6 1329.5,1468.3 1330.0,1478.1 1330.5,1464.5 1331.0,1471.1 1331.5,1466.6 1332.0,1473.1 1332.5,1472.9 1333.0,1467.0 1333.5,1463.3 1334.0,1468.5 1334.5,1467.1 1335.0,1463.2 1335.5,1469.8 1336.0,1469.7 1336.5,1461.9 1337.0,1466.6 1337.5,1484.8 1338.0,1472.3 1338.5,1468.1 1339.0,1482.6 1339.5,1464.9 1340.0,1452.9 1340.5,1456.4 1341.0,1458.7 1341.5,1469.4 1342.0,1473.7 1342.5,1455.0 1343.0,1474.7 1343.5,1460.7 1344.0,1469.6 1344.5,1470.9 1345.0,1470.7 1345.5,1468.2 1346.0,1469.2 1346.5,1461.4 1347.0,1469.9 1347.5,1474.2 1348.0,1473.9 1348.5,1484.0 1349.0,1474.9 1349.5,1472.8 1350.0,1478.4 1350.5,1470.0 1351.0,1460.9 1351.5,1455.2 1352.0,1476.3 1352.5,1472.1 1353.0,1473.8 1353.5,1466.8 1354.0,1470.8 1354.5,1480.1 1355.0,1470.9 1355.5,1462.2 1356.0,1466.3 1356.5,1477.2 1357.0,1462.5 1357.5,1453.6 1358.0,1455.4 1358.5,1461.1 1359.0,1473.9 1359.5,1469.7 1360.0,1464.7 1360.5,1461.6 1361.0,1468.6 1361.5,1468.4 1362.0,1466.0 1362.5,1467.9 1363.0,1464.9 1363.5,1480.2 1364.0,1455.3 1364.5,1470.2 1365.0,1463.5 1365.5,1473.8 1366.0,1468.2 1366.5,1471.8 1367.0,1472.9 1367.5,1471.0 1368.0,1475.7 1368.5,1461.5 1369.0,1475.5 1369.5,1468.6 1370.0,1472.2 1370.5,1479.2 1371.0,1476.7 1371.5,1481.9 1372.0,1456.6 1372.5,1464.4 1373.0,1475.9 1373.5,1463.4 1374.0,1469.1 1374.5,1480.4 1375.0,1475.5 1375.5,1464.5 1376.0,1473.0 1376.5,1474.2 1377.0,1470.8 1377.5,1469.8 1378.0,1471.3 1378.5,1461.5 1379.0,1471.3 1379.5,1464.8 1380.0,1472.9 1380.5,1473.2 1381.0,1465.3 1381.5,1474.3 1382.0,1472.8 1382.5,1470.5 1383.0,1475.1 1383.5,1469.0 1384.0,1469.2 1384.5,1471.4 1385.0,1470.6 1385.5,1477.8 1386.0,1456.8 1386.5,1469.2 1387.0,1459.0 1387.5,1468.0 1388.0,1472.5 1388.5,1471.0 1389.0,1476.8 1389.5,1472.9 1390.0,1454.7 1390.5,1464.4 1391.0,1480.4 1391.5,1480.4 1392.0,1471.7 1392.5,1461.9 1393.0,1484.1 1393.5,1458.7 1394.0,1473.0 1394.5,1470.9 1395.0,1472.7 1395.5,1464.2 1396.0,1468.9 1396.5,1477.7 1397.0,1468.4 1397.5,1463.1 1398.0,1471.2 1398.5,1471.9 1399.0,1470.6 1399.5,1466.7 1400.0,1474.7 1400.5,1470.7 1401.0,1464.4 1401.5,1472.8 1402.0,1471.3 1402.5,1472.3 1403.0,1461.3 1403.5,1466.9 1404.0,1474.2 1404.5,1477.1 1405.0,1473.6 1405.5,1472.5 1406.0,1476.0 1406.5,1477.5 1407.0,1482.3 1407.5,1474.5 1408.0,1468.4 1408.5,1474.7 1409.0,1460.2 1409.5,1472.2 1410.0,1469.3 1410.5,1471.8 1411.0,1474.9 1411.5,1472.3 1412.0,1463.4 1412.5,1469.9 1413.0,1467.3 1413.5,1471.9 1414.0,1474.2 1414.5,1466.4 1415.0,1476.5 1415.5,1479.9 1416.0,1470.5 1416.5,1476.5 1417.0,1463.3 1417.5,1469.0 1418.0,1477.9 1418.5,1461.7 1419.0,1469.2 1419.5,1466.9 1420.0,1479.1 1420.5,1479.1 1421.0,1468.5 1421.5,1473.0 1422.0,1456.7 1422.5,1477.3 1423.0,1474.4 1423.5,1480.2 1424.0,1458.0 1424.5,1474.4 1425.0,1470.2 1425.5,1456.7 1426.0,1468.2 1426.5,1471.8 1427.0,1477.1 1427.5,1473.5 1428.0,1469.3 1428.5,1475.0 1429.0,1471.7 1429.5,1468.5 1430.0,1466.3 1430.5,1473.3 1431.0,1473.3 1431.5,1483.4 1432.0,1469.7 1432.5,1482.0 1433.0,1474.5 1433.5,1479.5 1434.0,1467.1 1434.5,1467.2 1435.0,1470.6 1435.5,1477.8 1436.0,1473.5 1436.5,1477.0 1437.0,1474.4 1437.5,1478.7 1438.0,1473.7 1438.5,1469.4 1439.0,1475.6 1439.5,1473.1 1440.0,1483.0 1440.5,1471.6 1441.0,1473.2 1441.5,1470.8 1442.0,1479.5 1442.5,1477.8 1443.0,1476.5 1443.5,1465.2 1444.0,1463.6 1444.5,1474.2 1445.0,1476.9 1445.5,1481.5 1446.0,1462.0 1446.5,1471.7 1447.0,1462.6 1447.5,1467.0 1448.0,1471.4 1448.5,1478.4 1449.0,1469.6 1449.5,1468.4 1450.0,1470.8 1450.5,1480.2 1451.0,1487.1 1451.5,1463.6 1452.0,1471.1 1452.5,1470.2 1453.0,1479.7 1453.5,1475.4 1454.0,1482.0 1454.5,1466.8 1455.0,1472.9 1455.5,1470.1 1456.0,1466.3 1456.5,1471.9 1457.0,1465.8 1457.5,1485.8 1458.0,1475.3 1458.5,1466.8 1459.0,1469.2 1459.5,1483.2 1460.0,1470.0 1460.5,1477.0 1461.0,1476.4 1461.5,1479.4 1462.0,1476.7 1462.5,1471.7 1463.0,1469.4 1463.5,1462.4 1464.0,1472.7 1464.5,1473.8 1465.0,1470.8 1465.5,1472.1 1466.0,1465.7 1466.5,1485.9 1467.0,1470.0 1467.5,1466.8 1468.0,1469.4 1468.5,1472.0 1469.0,1477.4 1469.5,1458.6 1470.0,1476.1 1470.5,1469.4 1471.0,1472.0 1471.5,1479.1 1472.0,1477.6 1472.5,1469.0 1473.0,1472.5 1473.5,1484.2 1474.0,1481.2 1474.5,1478.3 1475.0,1473.2 1475.5,1478.9 1476.0,1475.5 1476.5,1469.9 1477.0,1467.2 1477.5,1476.3 1478.0,1475.4 1478.5,1480.4 1479.0,1470.3 1479.5,1481.5 1480.0,1471.0 1480.5,1480.7 1481.0,1476.5 1481.5,1469.8 1482.0,1467.6 1482.5,1472.5 1483.0,1471.7 1483.5,1478.8 1484.0,1469.1 1484.5,1464.5 1485.0,1473.2 1485.5,1484.7 1486.0,1483.0 1486.5,1469.6 1487.0,1471.7 1487.5,1475.2 1488.0,1469.4 1488.5,1471.9 1489.0,1471.7 1489.5,1467.1 1490.0,1469.7 1490.5,1470.5 1491.0,1474.8 1491.5,1466.3 1492.0,1474.0 1492.5,1467.5 1493.0,1468.6 1493.5,1466.7 1494.0,1497.3 1494.5,1480.9 1495.0,1481.4 1495.5,1478.3 1496.0,1472.0 1496.5,1473.8 1497.0,1475.2 1497.5,1476.1 1498.0,1477.0 1498.5,1482.5 1499.0,1455.9 1499.5,1470.2 1500.0,1477.5 1500.5,1471.4 1501.0,1472.6 1501.5,1482.4 1502.0,1474.7 1502.5,1484.1 1503.0,1473.3 1503.5,1475.0 1504.0,1467.2 1504.5,1461.7 1505.0,1471.1 1505.5,1473.9 1506.0,1471.5 1506.5,1465.6 1507.0,1477.5 1507.5,1474.0 1508.0,1473.7 1508.5,1469.0 1509.0,1483.4 1509.5,1482.4 1510.0,1475.5 1510.5,1473.0 1511.0,1475.2 1511.5,1483.7 1512.0,1490.4 1512.5,1473.7 1513.0,1471.1 1513.5,1462.9 1514.0,1490.3 1514.5,1467.1 1515.0,1478.9 1515.5,1476.7 1516.0,1481.7 1516.5,1468.6 1517.0,1464.1 1517.5,1474.6 1518.0,1476.2 1518.5,1480.6 1519.0,1463.8 1519.5,1471.1 1520.0,1472.2 1520.5,1465.7 1521.0,1472.8 1521.5,1478.6 1522.0,1473.6 1522.5,1465.3 1523.0,1475.9 1523.5,1478.9 1524.0,1477.0 1524.5,1478.6 1525.0,1464.0 1525.5,1476.6 1526.0,1477.4 1526.5,1471.7 1527.0,1473.6 1527.5,1469.3 1528.0,1481.3 1528.5,1472.1 1529.0,1468.3 1529.5,1475.0 1530.0,1474.6 1530.5,1477.9 1531.0,1469.0 1531.5,1469.9 1532.0,1476.3 1532.5,1487.3 1533.0,1476.8 1533.5,1465.9 1534.0,1475.0 1534.5,1469.4 1535.0,1463.0 1535.5,1470.0 1536.0,1470.6 1536.5,1476.5 1537.0,1481.9 1537.5,1480.8 1538.0,1478.9 1538.5,1471.5 1539.0,1475.0 1539.5,1473.8 1540.0,1482.5 1540.5,1470.2 1541.0,1470.8 1541.5,1483.0 1542.0,1477.6 1542.5,1471.5 1543.0,1475.1 1543.5,1475.0 1544.0,1475.3 1544.5,1478.9 1545.0,1476.4 1545.5,1473.1 1546.0,1471.2 1546.5,1463.9 1547.0,1471.6 1547.5,1481.0 1548.0,1475.6 1548.5,1470.3 1549.0,1472.8 1549.5,1469.1 1550.0,1476.0 1550.5,1486.2 1551.0,1485.0 1551.5,1481.4 1552.0,1478.9 1552.5,1472.9 1553.0,1466.9 1553.5,1474.4 1554.0,1471.7 1554.5,1479.3 1555.0,1475.3 1555.5,1470.9 1556.0,1477.1 1556.5,1491.7 1557.0,1469.0 1557.5,1481.1 1558.0,1477.9 1558.5,1473.8 1559.0,1469.9 1559.5,1474.6 1560.0,1475.8 1560.5,1479.0 1561.0,1478.6 1561.5,1476.4 1562.0,1470.4 1562.5,1476.3 1563.0,1471.7 1563.5,1468.3 1564.0,1479.8 1564.5,1470.6 1565.0,1467.4 1565.5,1475.0 1566.0,1463.1 1566.5,1474.1 1567.0,1477.2 1567.5,1472.0 1568.0,1475.9 1568.5,1487.3 1569.0,1483.0 1569.5,1480.1 1570.0,1478.1 1570.5,1471.5 1571.0,1473.7 1571.5,1472.9 1572.0,1474.7 1572.5,1475.3 1573.0,1469.8 1573.5,1484.1 1574.0,1468.4 1574.5,1476.7 1575.0,1480.7 1575.5,1474.4 1576.0,1470.6 1576.5,1474.8 1577.0,1486.1 1577.5,1478.3 1578.0,1472.9 1578.5,1478.1 1579.0,1473.4 1579.5,1463.5 1580.0,1476.1 1580.5,1480.8 1581.0,1481.5 1581.5,1474.3 1582.0,1466.3 1582.5,1481.8 1583.0,1473.7 1583.5,1479.0 1584.0,1481.4 1584.5,1476.7 1585.0,1474.3 1585.5,1470.9 1586.0,1472.1 1586.5,1474.9 1587.0,1471.9 1587.5,1476.8 1588.0,1463.1 1588.5,1468.7 1589.0,1474.5 1589.5,1470.6 1590.0,1471.5 1590.5,1467.9 1591.0,1478.6 1591.5,1484.3 1592.0,1468.7 1592.5,1481.5 1593.0,1466.0 1593.5,1475.5 1594.0,1462.8 1594.5,1477.5 1595.0,1474.8 1595.5,1475.5 1596.0,1481.9 1596.5,1478.1 1597.0,1474.5 1597.5,1469.8 1598.0,1474.9 1598.5,1470.5 1599.0,1472.1 1599.5,1483.3 1600.0,1479.8 1600.5,1476.3 1601.0,1478.3 1601.5,1466.0 1602.0,1475.2 1602.5,1464.5 1603.0,1470.6 1603.5,1476.7 1604.0,1476.7 1604.5,1478.6 1605.0,1475.4 1605.5,1474.7 1606.0,1474.3 1606.5,1482.7 1607.0,1482.0 1607.5,1465.6 1608.0,1475.0 1608.5,1481.8 1609.0,1472.6 1609.5,1475.3 1610.0,1470.4 1610.5,1466.8 1611.0,1474.5 1611.5,1471.2 1612.0,1472.5 1612.5,1464.8 1613.0,1466.3 1613.5,1472.1 1614.0,1470.0 1614.5,1475.6 1615.0,1465.7 1615.5,1475.7 1616.0,1474.4 1616.5,1470.9 1617.0,1473.3 1617.5,1468.0 1618.0,1466.0 1618.5,1465.4 1619.0,1456.0 1619.5,1461.0 1620.0,1463.7 1620.5,1447.7 1621.0,1460.5 1621.5,1453.4 1622.0,1456.9 1622.5,1461.8 1623.0,1465.0 1623.5,1473.5 1624.0,1466.3 1624.5,1478.5 1625.0,1469.7 1625.5,1473.2 1626.0,1475.0 1626.5,1467.6 1627.0,1465.3 1627.5,1473.0 1628.0,1476.8 1628.5,1478.0 1629.0,1471.0 1629.5,1483.8 1630.0,1472.8 1630.5,1469.7 1631.0,1480.8 1631.5,1481.3 1632.0,1468.6 1632.5,1479.3 1633.0,1467.1 1633.5,1474.9 1634.0,1488.2 1634.5,1482.5 1635.0,1479.2 1635.5,1478.9 1636.0,1470.3 1636.5,1477.2 1637.0,1478.0 1637.5,1469.3 1638.0,1476.7 1638.5,1478.7 1639.0,1476.8 1639.5,1478.1 1640.0,1474.3 1640.5,1469.1 1641.0,1475.9 1641.5,1464.4 1642.0,1471.6 1642.5,1482.3 1643.0,1486.4 1643.5,1478.3 1644.0,1461.7 1644.5,1483.8 1645.0,1479.2 1645.5,1474.9 1646.0,1480.4 1646.5,1479.3 1647.0,1469.0 1647.5,1468.4 1648.0,1482.2 1648.5,1462.6 1649.0,1479.7 1649.5,1478.0 1650.0,1482.0 1650.5,1486.5 1651.0,1484.1 1651.5,1485.5 1652.0,1481.1 1652.5,1479.3 1653.0,1482.7 1653.5,1476.3 1654.0,1471.0 1654.5,1476.0 1655.0,1467.0 1655.5,1473.2 1656.0,1488.6 1656.5,1479.5 1657.0,1475.4 1657.5,1472.9 1658.0,1466.0 1658.5,1473.3 1659.0,1471.9 1659.5,1476.5 1660.0,1477.0 1660.5,1476.1 1661.0,1465.2 1661.5,1485.1 1662.0,1479.1 1662.5,1476.5 1663.0,1474.6 1663.5,1479.1 1664.0,1483.8 1664.5,1480.1 1665.0,1469.7 1665.5,1469.1 1666.0,1462.6 1666.5,1477.2 1667.0,1480.7 1667.5,1483.6 1668.0,1477.2 1668.5,1481.2 1669.0,1471.0 1669.5,1479.5 1670.0,1475.7 1670.5,1472.5 1671.0,1466.5 1671.5,1483.2 1672.0,1463.1 1672.5,1480.1 1673.0,1471.7 1673.5,1480.0 1674.0,1473.2 1674.5,1480.9 1675.0,1475.2 1675.5,1470.3 1676.0,1473.4 1676.5,1466.9 1677.0,1478.1 1677.5,1482.6 1678.0,1479.0 1678.5,1477.1 1679.0,1484.1 1679.5,1469.6 1680.0,1479.8 1680.5,1476.6 1681.0,1473.8 1681.5,1479.8 1682.0,1469.8 1682.5,1475.8 1683.0,1478.6 1683.5,1469.7 1684.0,1475.2 1684.5,1479.7 1685.0,1482.3 1685.5,1471.1 1686.0,1482.0 1686.5,1474.9 1687.0,1477.2 1687.5,1473.5 1688.0,1481.3 1688.5,1472.6 1689.0,1478.4 1689.5,1479.0 1690.0,1481.2 1690.5,1470.6 1691.0,1481.3 1691.5,1477.0 1692.0,1485.4 1692.5,1474.8 1693.0,1473.5 1693.5,1476.5 1694.0,1475.0 1694.5,1475.8 1695.0,1469.4 1695.5,1464.6 1696.0,1468.2 1696.5,1473.4 1697.0,1479.4 1697.5,1475.0 1698.0,1471.2 1698.5,1476.0 1699.0,1477.3 1699.5,1493.2 1700.0,1484.5 1700.5,1478.0 1701.0,1468.4 1701.5,1475.9 1702.0,1475.1 1702.5,1480.2 1703.0,1489.4 1703.5,1476.6 1704.0,1465.4 1704.5,1476.3 1705.0,1467.2 1705.5,1481.8 1706.0,1483.4 1706.5,1478.9 1707.0,1468.4 1707.5,1475.9 1708.0,1484.0 1708.5,1471.2 1709.0,1473.6 1709.5,1478.5 1710.0,1479.9 1710.5,1477.5 1711.0,1479.0 1711.5,1478.2 1712.0,1473.7 1712.5,1476.5 1713.0,1478.6 1713.5,1470.8 1714.0,1478.1 1714.5,1477.6 1715.0,1479.6 1715.5,1479.0 1716.0,1471.1 1716.5,1469.9 1717.0,1478.4 1717.5,1476.2 1718.0,1477.6 1718.5,1473.9 1719.0,1469.9 1719.5,1478.5 1720.0,1476.3 1720.5,1480.5 1721.0,1483.1 1721.5,1483.1 1722.0,1482.6 1722.5,1471.7 1723.0,1465.3 1723.5,1473.6 1724.0,1470.3 1724.5,1469.7 1725.0,1480.7 1725.5,1468.1 1726.0,1482.1 1726.5,1483.1 1727.0,1491.7 1727.5,1482.7 1728.0,1488.5 1728.5,1473.5 1729.0,1473.3 1729.5,1482.4 1730.0,1469.9 1730.5,1483.2 1731.0,1475.6 1731.5,1466.4 1732.0,1487.1 1732.5,1471.0 1733.0,1490.6 1733.5,1469.1 1734.0,1472.5 1734.5,1478.2 1735.0,1477.1 1735.5,1468.6 1736.0,1477.6 1736.5,1478.1 1737.0,1479.5 1737.5,1468.5 1738.0,1473.9 1738.5,1476.5 1739.0,1481.4 1739.5,1478.0 1740.0,1475.2 1740.5,1474.8 1741.0,1484.8 1741.5,1472.8 1742.0,1478.7 1742.5,1465.7 1743.0,1486.0 1743.5,1479.5 1744.0,1467.9 1744.5,1480.3 1745.0,1484.4 1745.5,1481.4 1746.0,1477.5 1746.5,1481.5 1747.0,1473.3 1747.5,1475.8 1748.0,1475.3 1748.5,1477.5 1749.0,1471.7 1749.5,1484.2 1750.0,1476.5 1750.5,1471.6 1751.0,1476.0 1751.5,1479.0 1752.0,1477.4 1752.5,1482.8 1753.0,1475.3 1753.5,1473.2 1754.0,1479.7 1754.5,1483.6 1755.0,1472.2 1755.5,1469.1 1756.0,1473.9 1756.5,1476.8 1757.0,1472.0 1757.5,1478.0 1758.0,1472.8 1758.5,1481.6 1759.0,1471.2 1759.5,1472.6 1760.0,1477.5 1760.5,1480.5 1761.0,1481.7 1761.5,1473.7 1762.0,1477.2 1762.5,1479.8 1763.0,1484.2 1763.5,1472.7 1764.0,1471.0 1764.5,1479.5 1765.0,1475.9 1765.5,1483.8 1766.0,1477.3 1766.5,1478.7 1767.0,1473.3 1767.5,1478.5 1768.0,1483.1 1768.5,1475.9 1769.0,1471.3 1769.5,1481.4 1770.0,1475.6 1770.5,1477.4 1771.0,1473.7 1771.5,1481.7 1772.0,1473.5 1772.5,1474.8 1773.0,1477.2 1773.5,1476.2 1774.0,1466.4 1774.5,1479.4 1775.0,1471.6 1775.5,1478.4 1776.0,1475.3 1776.5,1476.6 1777.0,1473.7 1777.5,1472.1 1778.0,1477.8 1778.5,1478.2 1779.0,1481.9 1779.5,1479.7 1780.0,1473.9 1780.5,1482.6 1781.0,1487.5 1781.5,1480.5 1782.0,1476.3 1782.5,1472.6 1783.0,1477.6 1783.5,1470.5 1784.0,1480.8 1784.5,1475.4 1785.0,1474.5 1785.5,1478.3 1786.0,1471.4 1786.5,1469.1 1787.0,1475.1 1787.5,1482.7 1788.0,1473.3 1788.5,1481.1 1789.0,1468.8 1789.5,1476.9 1790.0,1479.5 1790.5,1485.3 1791.0,1469.2 1791.5,1476.9 1792.0,1473.1 1792.5,1478.5 1793.0,1474.7 1793.5,1477.6 1794.0,1473.8 1794.5,1474.7 1795.0,1478.9 1795.5,1483.8 1796.0,1478.1 1796.5,1477.7 1797.0,1475.1 1797.5,1484.2 1798.0,1468.6 1798.5,1468.4 1799.0,1473.7 1799.5,1479.1 1800.0,1481.3 1800.5,1479.7 1801.0,1480.5 1801.5,1477.9 1802.0,1475.1 1802.5,1472.5 1803.0,1479.2 1803.5,1473.0 1804.0,1479.0 1804.5,1480.4 1805.0,1474.5 1805.5,1475.2 1806.0,1474.8 1806.5,1446.0 1807.0,1477.9 1807.5,1474.3 1808.0,1478.4 1808.5,1483.8 1809.0,1478.4 1809.5,1477.8 1810.0,1475.5 1810.5,1473.1 1811.0,1477.2 1811.5,1477.5 1812.0,1475.9 1812.5,1482.4 1813.0,1476.2 1813.5,1476.5 1814.0,1478.1 1814.5,1479.6 1815.0,1469.4 1815.5,1478.4 1816.0,1482.7 1816.5,1472.4 1817.0,1479.0 1817.5,1475.0 1818.0,1472.9 1818.5,1478.4 1819.0,1476.8 1819.5,1468.2 1820.0,1474.7 1820.5,1480.8 1821.0,1474.7 1821.5,1474.0 1822.0,1475.7 1822.5,1475.3 1823.0,1480.5 1823.5,1473.6 1824.0,1472.2 1824.5,1479.2 1825.0,1481.6 1825.5,1480.4 1826.0,1481.0 1826.5,1474.5 1827.0,1470.9 1827.5,1474.2 1828.0,1477.2 1828.5,1469.9 1829.0,1476.0 1829.5,1479.9 1830.0,1474.3 1830.5,1486.0 1831.0,1480.6 1831.5,1472.0 1832.0,1472.4 1832.5,1474.3 1833.0,1480.4 1833.5,1479.4 1834.0,1474.9 1834.5,1478.1 1835.0,1480.8 1835.5,1479.6 1836.0,1470.4 1836.5,1472.6 1837.0,1473.4 1837.5,1469.8 1838.0,1481.1 1838.5,1474.6 1839.0,1474.5 1839.5,1473.7 1840.0,1478.7 1840.5,1479.8 1841.0,1480.3 1841.5,1482.8 1842.0,1473.3 1842.5,1484.5 1843.0,1488.2 1843.5,1475.1 1844.0,1475.8 1844.5,1480.0 1845.0,1482.8 1845.5,1476.2 1846.0,1473.9 1846.5,1486.5 1847.0,1475.2 1847.5,1465.5 1848.0,1479.8 1848.5,1481.8 1849.0,1484.9 1849.5,1485.2 1850.0,1491.0 1850.5,1475.0 1851.0,1473.2 1851.5,1471.1 1852.0,1484.9 1852.5,1475.6 1853.0,1470.1 1853.5,1468.4 1854.0,1478.0 1854.5,1475.6 1855.0,1478.8 1855.5,1473.7 1856.0,1474.2 1856.5,1479.5 1857.0,1476.6 1857.5,1480.0 1858.0,1476.9 1858.5,1476.2 1859.0,1479.1 1859.5,1476.1 1860.0,1478.3 1860.5,1479.4 1861.0,1475.2 1861.5,1477.0 1862.0,1477.9 1862.5,1480.4 1863.0,1478.5 1863.5,1478.6 1864.0,1479.5 1864.5,1476.1 1865.0,1479.1 1865.5,1474.3 1866.0,1469.5 1866.5,1479.3 1867.0,1468.9 1867.5,1476.8 1868.0,1484.2 1868.5,1480.7 1869.0,1473.0 1869.5,1480.7 1870.0,1478.5 1870.5,1473.8 1871.0,1477.1 1871.5,1475.2 1872.0,1476.1 1872.5,1479.0 1873.0,1470.7 1873.5,1481.2 1874.0,1486.3 1874.5,1476.8 1875.0,1473.3 1875.5,1475.8 1876.0,1482.9 1876.5,1475.3 1877.0,1479.6 1877.5,1487.5 1878.0,1474.4 1878.5,1478.0 1879.0,1475.1 1879.5,1476.0 1880.0,1478.1 1880.5,1474.3 1881.0,1479.6 1881.5,1478.4 1882.0,1482.7 1882.5,1480.6 1883.0,1479.3 1883.5,1484.2 1884.0,1476.8 1884.5,1480.4 1885.0,1474.8 1885.5,1483.9 1886.0,1474.5 1886.5,1481.9 1887.0,1474.6 1887.5,1478.7 1888.0,1473.1 1888.5,1474.4 1889.0,1473.6 1889.5,1479.7 1890.0,1480.1 1890.5,1481.1 1891.0,1479.6 1891.5,1477.0 1892.0,1480.8 1892.5,1484.7 1893.0,1476.3 1893.5,1474.7 1894.0,1480.4 1894.5,1486.9 1895.0,1477.6 1895.5,1476.6 1896.0,1473.6 1896.5,1474.9 1897.0,1473.9 1897.5,1473.8 1898.0,1482.7 1898.5,1483.6 1899.0,1478.5 1899.5,1478.6 1900.0,1481.7 1900.5,1478.2 1901.0,1478.6 1901.5,1480.8 1902.0,1478.0 1902.5,1483.8 1903.0,1492.4 1903.5,1478.2 1904.0,1479.5 1904.5,1474.6 1905.0,1476.3 1905.5,1478.6 1906.0,1480.1 1906.5,1477.4 1907.0,1473.0 1907.5,1480.0 1908.0,1475.9 1908.5,1480.0 1909.0,1477.3 1909.5,1477.7 1910.0,1477.9 1910.5,1469.0 1911.0,1483.7 1911.5,1474.3 1912.0,1479.9 1912.5,1480.7 1913.0,1475.8 1913.5,1472.3 1914.0,1480.8 1914.5,1474.1 1915.0,1477.9 1915.5,1480.3 1916.0,1476.2 1916.5,1470.8 1917.0,1475.3 1917.5,1480.4 1918.0,1474.7 1918.5,1482.1 1919.0,1471.5 1919.5,1474.0 1920.0,1470.5 1920.5,1474.0 1921.0,1484.8 1921.5,1480.6 1922.0,1476.9 1922.5,1475.3 1923.0,1483.1 1923.5,1477.5 1924.0,1473.7 1924.5,1484.8 1925.0,1472.3 1925.5,1478.8 1926.0,1480.8 1926.5,1482.2 1927.0,1486.6 1927.5,1481.7 1928.0,1474.9 1928.5,1483.0 1929.0,1479.3 1929.5,1472.6 1930.0,1473.2 1930.5,1474.4 1931.0,1468.5 1931.5,1479.8 1932.0,1480.4 1932.5,1480.0 1933.0,1474.3 1933.5,1477.7 1934.0,1483.1 1934.5,1479.5 1935.0,1477.2 1935.5,1474.6 1936.0,1477.7 1936.5,1483.5 1937.0,1478.0 1937.5,1487.9 1938.0,1488.5 1938.5,1481.0 1939.0,1470.7 1939.5,1476.7 1940.0,1483.5 1940.5,1475.4 1941.0,1474.9 1941.5,1478.0 1942.0,1489.6 1942.5,1475.8 1943.0,1469.3 1943.5,1479.1 1944.0,1479.6 1944.5,1481.1 1945.0,1478.2 1945.5,1479.4 1946.0,1475.8 1946.5,1482.1 1947.0,1477.8 1947.5,1480.1 1948.0,1474.6 1948.5,1484.0 1949.0,1478.9 1949.5,1476.0 1950.0,1478.1 1950.5,1473.0 1951.0,1475.2 1951.5,1481.5 1952.0,1480.5 1952.5,1481.5 1953.0,1481.0 1953.5,1476.6 1954.0,1478.3 1954.5,1486.2 1955.0,1477.4 1955.5,1471.1 1956.0,1477.8 1956.5,1476.0 1957.0,1477.4 1957.5,1477.9 1958.0,1473.3 1958.5,1479.6 1959.0,1477.0 1959.5,1480.4 1960.0,1474.7 1960.5,1473.4 1961.0,1475.8 1961.5,1485.0 1962.0,1469.8 1962.5,1482.5 1963.0,1477.5 1963.5,1482.7 1964.0,1475.9 1964.5,1479.4 1965.0,1479.3 1965.5,1487.0 1966.0,1477.1 1966.5,1478.7 1967.0,1474.3 1967.5,1479.0 1968.0,1474.4 1968.5,1477.1 1969.0,1479.3 1969.5,1480.1 1970.0,1473.6 1970.5,1473.7 1971.0,1482.8 1971.5,1475.3 1972.0,1478.4 1972.5,1476.4 1973.0,1470.7 1973.5,1477.2 1974.0,1477.1 1974.5,1485.4 1975.0,1469.3 1975.5,1475.3 1976.0,1480.4 1976.5,1475.3 1977.0,1468.2 1977.5,1480.4 1978.0,1478.4 1978.5,1473.9 1979.0,1473.3 1979.5,1474.7 1980.0,1478.5 1980.5,1476.9 1981.0,1474.8 1981.5,1479.1 1982.0,1482.2 1982.5,1475.0 1983.0,1484.5 1983.5,1477.8 1984.0,1480.2 1984.5,1479.5 1985.0,1479.8 1985.5,1478.6 1986.0,1467.7 1986.5,1473.4 1987.0,1481.4 1987.5,1473.0 1988.0,1478.1 1988.5,1470.7 1989.0,1474.9 1989.5,1484.3 1990.0,1478.6 1990.5,1473.8 1991.0,1474.7 1991.5,1470.1 1992.0,1479.5 1992.5,1476.4 1993.0,1480.7 1993.5,1480.9 1994.0,1476.2 1994.5,1473.3 1995.0,1472.1 1995.5,1475.6 1996.0,1477.5 1996.5,1483.4 1997.0,1473.2 1997.5,1479.3 1998.0,1472.8 1998.5,1474.8 1999.0,1480.7 1999.5,1479.6 2000.0,1475.0 2000.5,1474.5 2001.0,1482.2 2001.5,1476.6 2002.0,1476.0 2002.5,1472.7 2003.0,1488.3 2003.5,1485.4 2004.0,1479.7 2004.5,1487.1 2005.0,1479.6 2005.5,1476.0 2006.0,1479.9 2006.5,1483.7 2007.0,1472.7 2007.5,1483.0 2008.0,1482.8 2008.5,1484.2 2009.0,1479.8 2009.5,1482.6 2010.0,1470.1 2010.5,1477.5 2011.0,1482.2 2011.5,1480.2 2012.0,1479.0 2012.5,1472.3 2013.0,1477.1 2013.5,1470.2 2014.0,1476.7 2014.5,1479.3 2015.0,1475.5 2015.5,1479.9 2016.0,1477.9 2016.5,1481.7 2017.0,1476.3 2017.5,1470.8 2018.0,1472.3 2018.5,1474.5 2019.0,1477.8 2019.5,1478.3 2020.0,1474.6 2020.5,1478.4 2021.0,1475.0 2021.5,1480.7 2022.0,1472.1 2022.5,1483.0 2023.0,1479.2 2023.5,1476.2 2024.0,1473.3 2024.5,1480.4 2025.0,1475.4 2025.5,1480.9 2026.0,1486.1 2026.5,1478.9 2027.0,1479.2 2027.5,1480.5 2028.0,1475.8 2028.5,1486.7 2029.0,1477.3 2029.5,1481.3 2030.0,1479.8 2030.5,1475.8 2031.0,1484.4 2031.5,1480.1 2032.0,1475.6 2032.5,1475.7 2033.0,1470.1 2033.5,1473.9 2034.0,1482.3 2034.5,1482.3 2035.0,1474.6 2035.5,1481.4 2036.0,1483.0 2036.5,1482.1 2037.0,1484.2 2037.5,1470.4 2038.0,1454.0 2038.5,1474.5 2039.0,1481.7 2039.5,1475.5 2040.0,1479.1 2040.5,1482.5 2041.0,1471.8 2041.5,1475.8 2042.0,1475.6 2042.5,1478.5 2043.0,1471.7 2043.5,1482.0 2044.0,1487.0 2044.5,1477.3 2045.0,1480.7 2045.5,1466.8 2046.0,1473.1 2046.5,1481.3 2047.0,1479.6 2047.5,1481.2 2048.0,1484.1 2048.5,1478.7 2049.0,1477.2 2049.5,1476.2 2050.0,1478.7 2050.5,1468.9 2051.0,1484.7 2051.5,1468.6 2052.0,1471.2 2052.5,1478.4 2053.0,1482.2 2053.5,1480.5 2054.0,1484.6 2054.5,1476.1 2055.0,1475.2 2055.5,1480.4 2056.0,1473.1 2056.5,1478.9 2057.0,1456.6 2057.5,1479.3 2058.0,1469.0 2058.5,1476.9 2059.0,1469.0 2059.5,1481.7 2060.0,1476.0 2060.5,1482.3 2061.0,1483.7 2061.5,1472.0 2062.0,1481.9 2062.5,1479.6 2063.0,1484.5 2063.5,1472.4 2064.0,1472.3 2064.5,1474.4 2065.0,1469.8 2065.5,1478.5 2066.0,1474.7 2066.5,1478.7 2067.0,1479.4 2067.5,1481.6 2068.0,1472.0 2068.5,1481.1 2069.0,1481.0 2069.5,1473.5 2070.0,1475.1 2070.5,1471.4 2071.0,1483.2 2071.5,1483.7 2072.0,1474.1 2072.5,1477.3 2073.0,1479.5 2073.5,1480.8 2074.0,1477.5 2074.5,1485.0 2075.0,1473.6 2075.5,1481.5 2076.0,1478.2 2076.5,1479.0 2077.0,1474.5 2077.5,1470.2 2078.0,1475.5 2078.5,1479.8 2079.0,1474.1 2079.5,1470.3 2080.0,1477.0 2080.5,1477.6 2081.0,1473.3 2081.5,1477.2 2082.0,1479.5 2082.5,1478.6 2083.0,1481.7 2083.5,1482.9 2084.0,1477.6 2084.5,1474.2 2085.0,1470.1 2085.5,1482.1 2086.0,1479.2 2086.5,1482.1 2087.0,1474.1 2087.5,1478.2 2088.0,1474.1 2088.5,1473.7 2089.0,1471.3 2089.5,1476.7 2090.0,1479.7 2090.5,1481.1 2091.0,1478.7 2091.5,1476.4 2092.0,1486.5 2092.5,1484.4 2093.0,1482.1 2093.5,1478.3 2094.0,1483.2 2094.5,1474.3 2095.0,1472.0 2095.5,1480.4 2096.0,1478.4 2096.5,1482.2 2097.0,1474.2 2097.5,1478.9 2098.0,1473.0 2098.5,1476.1 2099.0,1479.6 2099.5,1477.3 2100.0,1473.4 2100.5,1471.2 2101.0,1475.9 2101.5,1473.5 2102.0,1471.2 2102.5,1477.9 2103.0,1473.5 2103.5,1483.1 2104.0,1486.6 2104.5,1482.4 2105.0,1489.7 2105.5,1472.1 2106.0,1469.9 2106.5,1476.8 2107.0,1469.7 2107.5,1478.1 2108.0,1481.3 2108.5,1480.8 2109.0,1481.7 2109.5,1476.5 2110.0,1477.1 2110.5,1478.4 2111.0,1477.1 2111.5,1481.4 2112.0,1475.5 2112.5,1477.1 2113.0,1474.2 2113.5,1481.5 2114.0,1477.8 2114.5,1477.8 2115.0,1475.0 2115.5,1469.4 2116.0,1475.1 2116.5,1467.6 2117.0,1476.7 2117.5,1471.6 2118.0,1482.5 2118.5,1474.1 2119.0,1476.6 2119.5,1474.7 2120.0,1471.8 2120.5,1470.0 2121.0,1465.6 2121.5,1473.7 2122.0,1467.6 2122.5,1481.4 2123.0,1470.7 2123.5,1473.6 2124.0,1476.1 2124.5,1475.4 2125.0,1481.1 2125.5,1475.6 2126.0,1473.6 2126.5,1475.1 2127.0,1482.2 2127.5,1478.7 2128.0,1466.5 2128.5,1474.0 2129.0,1470.6 2129.5,1474.4 2130.0,1476.7 2130.5,1473.6 2131.0,1475.8 2131.5,1480.0 2132.0,1464.4 2132.5,1471.1 2133.0,1470.7 2133.5,1471.4 2134.0,1468.5 2134.5,1470.5 2135.0,1464.3 2135.5,1463.6 2136.0,1451.4 2136.5,1454.1 2137.0,1441.0 2137.5,1438.7 2138.0,1428.5 2138.5,1396.7 2139.0,1361.8 2139.5,1312.2 2140.0,1271.3 2140.2,1263.6 2140.5,1276.4 2141.0,1316.9 2141.5,1367.3 2142.0,1394.9 2142.5,1432.4 2143.0,1431.1 2143.5,1449.0 2144.0,1451.4 2144.5,1454.9 2145.0,1451.4 2145.5,1457.3 2146.0,1457.7 2146.5,1457.7 2147.0,1451.5 2147.5,1448.8 2148.0,1435.3 2148.5,1432.6 2149.0,1410.2 2149.5,1420.0 2149.6,1402.6 2150.0,1406.2 2150.5,1424.0 2151.0,1437.0 2151.5,1453.2 2152.0,1461.2 2152.5,1458.3 2153.0,1461.6 2153.5,1463.8 2154.0,1471.1 2154.5,1474.7 2155.0,1474.5 2155.5,1471.8 2156.0,1473.3 2156.5,1476.6 2157.0,1479.7 2157.5,1474.5 2158.0,1480.1 2158.5,1473.8 2159.0,1476.4 2159.5,1480.7 2160.0,1472.2 2160.5,1468.6 2161.0,1471.4 2161.5,1475.7 2162.0,1472.0 2162.5,1476.0 2163.0,1482.7 2163.5,1475.2 2164.0,1482.6 2164.5,1480.7 2165.0,1472.3 2165.5,1481.3 2166.0,1480.9 2166.5,1481.4 2167.0,1478.1 2167.5,1478.4 2168.0,1474.9 2168.5,1473.5 2169.0,1477.2 2169.5,1480.5 2170.0,1474.9 2170.5,1484.6 2171.0,1475.6 2171.5,1479.0 2172.0,1471.8 2172.5,1484.5 2173.0,1480.9 2173.5,1483.5 2174.0,1472.5 2174.5,1484.2 2175.0,1480.0 2175.5,1475.2 2176.0,1476.2 2176.5,1471.4 2177.0,1477.2 2177.5,1482.0 2178.0,1474.3 2178.5,1479.7 2179.0,1472.8 2179.5,1466.4 2180.0,1477.3 2180.5,1484.6 2181.0,1483.3 2181.5,1475.1 2182.0,1483.6 2182.5,1482.6 2183.0,1479.7 2183.5,1476.5 2184.0,1482.4 2184.5,1477.6 2185.0,1476.3 2185.5,1482.6 2186.0,1475.0 2186.5,1481.0 2187.0,1484.5 2187.5,1475.0 2188.0,1478.8 2188.5,1480.3 2189.0,1470.3 2189.5,1475.8 2190.0,1475.5 2190.5,1475.6 2191.0,1474.1 2191.5,1483.6 2192.0,1473.9 2192.5,1477.4 2193.0,1480.5 2193.5,1484.7 2194.0,1470.9 2194.5,1472.1 2195.0,1473.2 2195.5,1476.5 2196.0,1482.0 2196.5,1477.3 2197.0,1478.5 2197.5,1484.6 2198.0,1476.5 2198.5,1478.6 2199.0,1486.6 2199.5,1481.4 2200.0,1475.3 2200.5,1475.1 2201.0,1482.9 2201.5,1472.9 2202.0,1474.1 2202.5,1481.5 2203.0,1483.9 2203.5,1485.3 2204.0,1473.7 2204.5,1480.3 2205.0,1463.4 2205.5,1474.3 2206.0,1490.9 2206.5,1484.9 2207.0,1481.2 2207.5,1474.0 2208.0,1472.6 2208.5,1483.0 2209.0,1477.4 2209.5,1474.6"/>
<polyline clip-path="url(#cl)" stroke="#0000ff" points="277.0,1120.1 277.9,1107.9 278.9,1103.5 279.8,1093.7 280.8,1112.4 281.7,1124.1 282.7,1115.3 283.6,1118.8 284.6,1122.5 285.5,1108.6 286.5,1134.4 287.4,1108.6 288.4,1117.8 289.3,1096.0 290.3,1114.2 291.2,1115.9 292.2,1111.3 293.1,1117.5 294.1,1099.5 295.0,1110.3 296.0,1127.4 296.9,1116.6 297.9,1113.3 298.8,1117.8 299.8,1118.1 300.7,1116.2 301.7,1119.3 302.6,1103.0 303.6,1119.4 304.5,1110.2 305.5,1120.8 306.4,1114.9 307.4,1107.8 308.3,1114.6 309.3,1107.8 310.2,1122.5 311.2,1114.9 312.1,1121.3 313.1,1107.0 314.0,1126.9 315.0,1112.9 315.9,1125.1 316.9,1121.4 317.8,1107.1 318.8,1117.5 319.7,1111.2 320.7,1118.1 321.6,1125.6 322.6,1120.2 323.5,1092.5 324.5,1106.6 325.4,1116.6 326.4,1117.8 327.3,1123.1 328.3,1110.6 329.2,1119.3 330.2,1118.3 331.1,1104.0 332.1,1107.6 333.0,1118.4 334.0,1106.6 334.9,1106.2 335.9,1121.7 336.8,1117.3 337.8,1113.5 338.7,1116.0 339.7,1112.2 340.6,1111.3 341.6,1080.0 342.5,1118.0 343.5,1124.8 344.4,1111.8 345.4,1114.7 346.3,1113.6 347.3,1106.0 348.2,1117.1 349.2,1121.5 350.1,1109.1 351.1,1121.3 352.0,1111.1 353.0,1123.6 353.9,1124.1 354.9,1112.4 355.8,1100.7 356.8,1112.7 357.7,1105.1 358.7,1105.7 359.6,1113.4 360.6,1125.2 361.5,1114.6 362.5,1113.7 363.4,1101.8 364.4,1110.8 365.3,1105.1 366.3,1119.1 367.2,1111.4 368.2,1115.0 369.1,1115.2 370.1,1113.9 371.0,1122.2 372.0,1118.8 372.9,1113.0 373.9,1116.4 374.8,1119.3 375.8,1125.3 376.7,1116.3 377.7,1125.9 378.6,1111.0 379.6,1113.6 380.5,1104.5 381.5,1121.3 382.4,1107.8 383.4,1107.8 384.3,1121.5 385.3,1111.4 386.2,1109.8 387.2,1122.3 388.1,1114.0 389.1,1122.1 390.0,1112.4 391.0,1120.6 391.9,1123.2 392.9,1116.0 393.8,1128.5 394.8,1112.5 395.7,1113.8 396.7,1115.9 397.6,1122.7 398.6,1113.3 399.5,1112.2 400.5,1117.2 401.4,1124.5 402.4,1112.3 403.3,1106.1 404.3,1114.4 405.2,1119.9 406.2,1111.4 407.1,1116.3 408.1,1101.8 409.0,1115.6 410.0,1116.2 410.9,1119.9 411.9,1117.7 412.8,1121.0 413.8,1108.2 414.7,1120.2 415.7,1103.4 416.6,1111.1 417.6,1123.5 418.5,1121.6 419.5,1101.9 420.4,1119.7 421.4,1112.2 422.3,1109.7 423.3,1116.8 424.2,1116.2 425.2,1125.4 426.1,1104.7 427.1,1112.1 428.0,1114.1 429.0,1101.6 429.9,1123.5 430.9,1127.7 431.8,1088.0 432.8,1117.4 433.7,1112.5 434.7,1116.3 435.6,1109.2 436.6,1119.9 437.5,1105.1 438.5,1123.2 439.4,1115.6 440.4,1130.3 441.3,1100.3 442.3,1111.3 443.2,1102.2 444.2,1110.2 445.1,1113.9 446.1,1103.5 447.0,1104.0 449.0,1098.0 451.5,1075.0 455.0,1040.0 456.5,1000.0 458.0,900.0 458.9,853.0 459.1,800.0 460.0,760.0 462.3,640.0 463.6,500.0 464.0,431.0 464.4,500.0 465.7,640.0 468.0,760.0 468.9,800.0 469.1,853.0 470.0,900.0 471.5,1000.0 473.0,1040.0 476.5,1075.0 480.0,1098.0 483.0,1106.0 483.1,1108.6 484.1,1101.3 485.0,1115.4 486.0,1116.3 486.9,1111.6 487.9,1119.4 488.8,1118.2 489.8,1125.2 490.7,1110.8 491.7,1112.3 492.6,1117.7 493.6,1114.6 494.5,1127.9 495.5,1123.2 496.4,1119.1 497.4,1130.7 498.3,1123.5 499.3,1127.4 500.2,1126.1 501.2,1119.3 502.1,1119.5 503.1,1120.7 504.0,1112.7 505.0,1118.2 505.9,1127.0 506.9,1123.1 507.8,1114.0 508.8,1138.1 509.7,1113.5 510.7,1125.5 511.6,1126.3 512.6,1130.3 513.5,1114.8 514.5,1121.2 515.4,1119.7 516.4,1129.4 517.3,1123.9 518.3,1124.2 519.2,1125.1 520.2,1135.5 521.1,1126.1 522.1,1127.7 523.0,1114.5 524.0,1126.4 524.9,1112.3 525.9,1128.3 526.8,1122.5 527.8,1115.0 528.7,1113.1 529.7,1120.8 530.6,1122.4 531.6,1117.5 532.5,1119.2 533.5,1119.4 534.4,1117.8 535.4,1120.3 536.3,1123.6 537.3,1131.1 538.2,1126.4 539.2,1117.6 540.1,1133.6 541.1,1130.4 542.0,1120.0 543.0,1129.3 543.9,1118.0 544.9,1116.5 545.8,1116.7 546.8,1133.7 547.7,1099.0 548.7,1124.3 549.6,1122.5 550.6,1119.1 551.5,1125.6 552.5,1127.0 553.4,1136.4 554.4,1116.0 555.3,1133.3 556.3,1127.1 557.2,1109.7 558.2,1129.3 559.1,1134.0 560.1,1130.2 561.0,1124.1 562.0,1123.5 562.9,1107.9 563.9,1124.7 564.8,1123.7 565.8,1115.6 566.7,1123.8 567.7,1117.5 568.6,1138.7 569.6,1113.5 570.5,1115.7 571.5,1106.6 572.4,1119.3 573.4,1123.0 574.3,1122.2 575.3,1117.4 576.2,1128.4 577.2,1123.8 578.1,1130.6 579.1,1121.2 580.0,1109.2 581.0,1120.9 581.9,1114.6 582.9,1127.9 583.8,1117.5 584.8,1120.1 585.7,1121.7 586.7,1110.8 587.6,1119.0 588.6,1128.1 589.5,1117.6 590.5,1120.5 591.4,1122.9 592.4,1116.8 593.3,1119.6 594.3,1124.9 595.2,1118.9 596.2,1122.1 597.1,1120.6 598.1,1114.1 599.0,1112.2 600.0,1136.0 600.9,1131.6 601.9,1120.8 602.8,1128.5 603.8,1129.7 604.7,1128.6 605.7,1119.0 606.6,1111.3 607.6,1112.5 608.5,1119.9 609.5,1131.5 610.4,1133.0 611.4,1120.0 612.3,1119.3 613.3,1130.4 614.2,1136.7 615.2,1115.0 616.1,1125.1 617.1,1122.8 618.0,1119.4 619.0,1119.5 619.9,1119.4 620.9,1121.8 621.8,1110.6 622.8,1121.8 623.7,1127.5 624.7,1127.3 625.6,1127.6 626.6,1124.2 627.5,1123.3 628.5,1136.0 629.4,1120.6 630.4,1123.0 631.3,1130.9 632.3,1122.2 633.2,1112.5 634.2,1117.9 635.1,1118.8 636.1,1120.8 637.0,1118.7 638.0,1129.1 638.9,1127.0 639.9,1125.5 640.8,1119.0 641.8,1129.4 642.7,1129.1 643.7,1137.8 644.6,1117.6 645.6,1121.2 646.5,1132.0 647.5,1114.2 648.4,1124.0 649.4,1123.7 650.3,1122.5 651.3,1115.3 652.2,1122.4 653.2,1111.3 654.1,1130.7 655.1,1118.6 656.0,1123.2 657.0,1122.0 657.9,1123.4 658.9,1123.0 659.8,1125.1 660.8,1119.4 661.7,1122.3 662.7,1114.0 663.6,1114.5 664.6,1115.9 665.5,1114.7 666.5,1112.1 667.4,1117.5 668.4,1126.5 669.3,1125.0 670.3,1119.0 671.2,1124.3 672.2,1124.7 673.1,1141.3 674.1,1110.6 675.0,1123.9 676.0,1112.6 676.9,1131.1 677.9,1120.5 678.8,1125.3 679.8,1123.6 680.7,1127.2 681.7,1101.1 682.6,1113.8 683.6,1122.8 684.5,1112.6 685.5,1126.2 686.4,1131.1 687.4,1112.9 688.3,1119.1 689.3,1126.8 690.2,1135.3 691.2,1129.5 692.1,1127.5 693.1,1116.0 694.0,1122.5 695.0,1123.2 695.9,1117.9 696.9,1125.3 697.8,1120.0 698.8,1119.1 699.7,1137.6 700.7,1121.1 701.6,1135.8 702.6,1119.5 703.5,1121.7 704.5,1113.3 705.4,1118.1 706.4,1133.7 707.3,1122.3 708.3,1107.8 709.2,1132.4 710.2,1115.7 711.1,1119.1 712.1,1121.8 713.0,1108.6 714.0,1133.2 714.9,1131.4 715.9,1119.7 716.8,1124.7 717.8,1120.0 718.7,1117.8 719.7,1120.4 720.6,1111.7 721.6,1119.1 722.5,1118.0 723.5,1135.9 724.4,1111.5 725.4,1131.2 726.3,1127.2 727.3,1123.2 728.2,1117.8 729.2,1135.1 730.1,1132.6 731.1,1121.8 732.0,1120.7 733.0,1123.5 733.9,1135.3 734.9,1115.6 735.8,1122.7 736.8,1130.3 737.7,1112.1 738.7,1121.5 739.6,1130.2 740.6,1119.0 741.5,1121.3 742.5,1111.0 743.4,1124.9 744.4,1113.6 745.3,1119.3 746.3,1124.6 747.2,1118.1 748.2,1128.4 749.1,1127.3 750.1,1125.7 751.0,1129.3 752.0,1121.0 752.9,1106.6 753.9,1128.4 754.8,1127.8 755.8,1118.8 756.7,1116.1 757.7,1130.5 758.6,1118.8 759.6,1119.4 760.5,1118.9 761.5,1139.0 762.4,1117.0 763.4,1103.4 764.3,1121.2 765.3,1114.4 766.2,1109.2 767.2,1122.6 768.1,1117.7 769.1,1127.9 770.0,1119.1 771.0,1130.0 771.9,1128.5 772.9,1121.6 773.8,1127.0 774.8,1134.5 775.7,1126.4 776.7,1111.1 777.6,1122.0 778.6,1122.9 779.5,1130.4 780.5,1120.5 781.4,1129.5 782.4,1120.5 783.3,1121.6 784.3,1119.7 785.2,1121.5 786.2,1120.4 787.1,1123.9 788.1,1115.9 789.0,1113.9 790.0,1120.7 790.9,1122.4 791.9,1118.4 792.8,1124.2 793.8,1123.7 794.7,1133.4 795.7,1110.8 796.6,1135.5 797.6,1104.4 798.5,1108.5 799.5,1123.0 800.4,1114.2 801.4,1118.8 802.3,1117.7 803.3,1111.5 804.2,1111.0 805.2,1118.1 806.1,1123.4 807.1,1125.1 808.0,1122.0 809.0,1118.5 809.9,1129.4 810.9,1105.1 811.8,1121.0 812.8,1129.9 813.7,1132.4 814.7,1129.5 815.6,1130.5 816.6,1128.3 817.5,1121.9 818.5,1104.9 819.4,1117.3 820.4,1119.0 821.3,1132.4 822.3,1117.9 823.2,1118.5 824.2,1125.8 825.1,1114.1 826.1,1121.4 827.0,1125.1 828.0,1118.8 828.9,1120.7 829.9,1108.4 830.8,1112.2 831.8,1119.3 832.7,1129.4 833.7,1117.0 834.6,1114.5 835.6,1115.4 836.5,1125.8 837.5,1110.9 838.4,1122.3 839.4,1118.5 840.3,1121.6 841.3,1115.8 842.2,1121.8 843.2,1130.9 844.1,1119.1 845.1,1117.6 846.0,1102.7 847.0,1124.6 847.9,1116.6 848.9,1124.0 849.8,1122.0 850.8,1115.5 851.7,1116.6 852.7,1111.6 853.6,1135.6 854.6,1128.0 855.5,1127.3 856.5,1130.0 857.4,1131.4 858.4,1127.6 859.3,1128.8 860.3,1139.3 861.2,1109.2 862.2,1123.0 863.1,1117.2 864.1,1122.1 865.0,1103.6 866.0,1114.0 866.9,1127.6 867.9,1112.7 868.8,1125.8 869.8,1115.9 870.7,1120.6 871.7,1111.0 872.6,1117.5 873.6,1111.1 874.5,1125.9 875.5,1109.4 876.4,1124.4 877.4,1118.1 878.3,1120.9 879.3,1132.4 880.2,1120.3 881.2,1117.6 882.1,1122.3 883.1,1127.3 884.0,1118.4 885.0,1134.6 885.9,1123.6 886.9,1119.8 887.8,1117.7 888.8,1121.4 889.7,1126.6 890.7,1130.2 891.6,1123.1 892.6,1118.4 893.5,1122.3 894.5,1107.5 895.4,1130.7 896.4,1128.7 897.3,1121.3 898.3,1127.8 899.2,1115.8 900.2,1136.0 901.1,1122.2 902.1,1120.2 903.0,1138.7 904.0,1117.1 904.9,1127.2 905.9,1118.3 906.8,1120.6 907.8,1122.5 908.7,1120.4 909.7,1135.2 910.6,1132.6 911.6,1120.6 912.5,1141.9 913.5,1124.4 914.4,1123.4 915.4,1127.6 916.3,1117.3 917.3,1134.4 918.2,1118.1 919.2,1115.6 920.1,1132.2 921.1,1117.9 922.0,1122.6 923.0,1115.7 923.9,1121.1 924.9,1125.0 925.8,1106.9 926.8,1123.5 927.7,1118.2 928.7,1134.0 929.6,1138.5 930.6,1127.7 931.5,1128.1 932.5,1131.4 933.4,1131.4 934.4,1113.4 935.3,1114.2 936.3,1120.1 937.2,1113.5 938.2,1121.0 939.1,1124.1 940.1,1117.6 941.0,1126.6 942.0,1133.6 942.9,1123.6 943.9,1126.3 944.8,1122.9 945.8,1122.6 946.7,1119.5 947.7,1115.1 948.6,1127.1 949.6,1130.9 950.5,1122.8 951.5,1123.8 952.4,1113.2 953.4,1121.3 954.3,1125.2 955.3,1122.3 956.2,1123.4 957.2,1115.8 958.1,1113.8 959.1,1121.1 960.0,1133.5 961.0,1120.2 961.9,1112.2 962.9,1118.2 963.8,1121.4 964.8,1131.5 965.7,1130.6 966.7,1117.1 967.6,1115.7 968.6,1121.0 969.5,1122.8 970.5,1115.7 971.4,1129.7 972.4,1119.7 973.3,1124.6 974.3,1121.4 975.2,1126.4 976.2,1121.9 977.1,1124.5 978.1,1131.5 979.0,1124.4 980.0,1133.0 980.9,1113.7 981.9,1121.3 982.8,1115.3 983.8,1112.6 984.7,1122.4 985.7,1136.2 986.6,1124.4 987.6,1129.8 988.5,1109.0 989.5,1124.3 990.4,1114.4 991.4,1124.2 992.3,1129.9 993.3,1119.1 994.2,1130.2 995.2,1116.9 996.1,1123.2 997.1,1117.9 998.0,1122.9 999.0,1121.2 999.9,1106.6 1000.9,1119.6 1001.8,1118.6 1002.8,1134.1 1003.7,1104.2 1004.7,1122.5 1005.6,1127.8 1006.6,1135.4 1007.5,1131.2 1008.5,1121.5 1009.4,1132.1 1010.4,1104.7 1011.3,1120.4 1012.3,1119.3 1013.2,1119.0 1014.2,1132.5 1015.1,1109.9 1016.1,1110.5 1017.0,1128.3 1018.0,1124.8 1018.9,1127.5 1019.9,1119.6 1020.8,1126.0 1021.8,1119.5 1022.7,1117.6 1023.7,1118.0 1024.6,1122.1 1025.6,1121.5 1026.5,1118.2 1027.5,1132.2 1028.4,1124.1 1029.4,1118.4 1030.3,1111.5 1031.3,1120.2 1032.2,1109.1 1033.2,1114.3 1034.1,1112.4 1035.1,1114.2 1036.0,1121.7 1037.0,1097.3 1037.9,1130.7 1038.9,1123.3 1039.8,1117.0 1040.8,1115.6 1041.7,1125.1 1042.7,1119.1 1043.6,1132.3 1044.6,1118.8 1045.5,1113.2 1046.5,1109.6 1047.4,1119.1 1048.4,1127.1 1049.3,1111.0 1050.3,1128.7 1051.2,1125.6 1052.2,1117.4 1053.1,1096.0 1054.1,1107.1 1055.0,1103.9 1056.0,1121.5 1056.9,1122.5 1057.9,1122.2 1058.8,1119.2 1059.8,1109.0 1060.7,1123.4 1061.7,1116.9 1062.6,1125.7 1063.6,1120.9 1064.5,1111.1 1065.5,1123.7 1066.4,1125.1 1067.4,1125.0 1068.3,1114.3 1069.3,1111.8 1070.2,1125.0 1071.2,1118.8 1072.1,1118.4 1073.1,1126.4 1074.0,1126.8 1075.0,1122.8 1075.9,1117.6 1076.9,1129.9 1077.8,1111.7 1078.8,1119.1 1079.7,1121.4 1080.7,1109.2 1081.6,1113.9 1082.6,1125.3 1083.5,1118.4 1084.5,1111.4 1085.4,1130.9 1086.4,1120.3 1087.3,1119.7 1088.3,1132.1 1089.2,1108.3 1090.2,1115.1 1091.1,1112.3 1092.1,1128.4 1093.0,1113.0 1094.0,1135.8 1094.9,1122.3 1095.9,1121.0 1096.8,1125.8 1097.8,1117.2 1098.7,1112.2 1099.7,1114.4 1100.6,1118.9 1101.6,1111.6 1102.5,1119.6 1103.5,1114.0 1104.4,1117.1 1105.4,1118.0 1106.3,1130.0 1107.3,1135.2 1108.2,1132.2 1109.2,1118.1 1110.1,1114.3 1111.1,1127.1 1112.0,1129.1 1113.0,1126.4 1113.9,1115.5 1114.9,1122.0 1115.8,1117.9 1116.8,1127.3 1117.7,1126.5 1118.7,1121.5 1119.6,1116.9 1120.6,1132.5 1121.5,1121.3 1122.5,1125.9 1123.4,1123.9 1124.4,1125.6 1125.3,1128.4 1126.3,1117.5 1127.2,1116.7 1128.2,1124.3 1129.1,1096.8 1130.1,1119.4 1131.0,1116.4 1132.0,1125.1 1132.9,1122.3 1133.9,1118.4 1134.8,1111.4 1135.8,1118.5 1136.7,1117.4 1137.7,1120.2 1138.6,1121.2 1139.6,1114.5 1140.5,1123.3 1141.5,1115.7 1142.4,1122.5 1143.4,1121.5 1144.3,1128.4 1145.3,1119.3 1146.2,1130.9 1147.2,1116.7 1148.1,1113.0 1149.1,1123.9 1150.0,1110.3 1151.0,1121.8 1151.9,1121.9 1152.9,1120.5 1153.8,1122.0 1154.8,1120.5 1155.7,1128.2 1156.7,1118.2 1157.6,1105.0 1158.6,1116.4 1159.5,1125.0 1160.5,1126.1 1161.4,1123.8 1162.4,1119.2 1163.3,1112.3 1164.3,1130.1 1165.2,1114.6 1166.2,1110.9 1167.1,1101.3 1168.1,1132.4 1169.0,1118.6 1170.0,1105.3 1170.9,1124.8 1171.9,1123.3 1172.8,1106.4 1173.8,1124.1 1174.7,1118.6 1175.7,1123.2 1176.6,1128.2 1177.6,1115.3 1178.5,1133.9 1179.5,1117.5 1180.4,1113.9 1181.4,1126.7 1182.3,1113.3 1183.3,1115.6 1184.2,1123.9 1185.2,1111.6 1186.1,1108.2 1187.1,1119.8 1188.0,1117.5 1189.0,1113.5 1189.9,1124.2 1190.9,1108.9 1191.8,1122.7 1192.8,1109.6 1193.7,1120.6 1194.7,1108.4 1195.6,1121.7 1196.6,1116.5 1197.5,1113.9 1198.5,1117.3 1199.4,1115.7 1200.4,1122.6 1201.3,1111.9 1202.3,1119.7 1203.2,1114.2 1204.2,1112.0 1205.1,1112.7 1206.1,1108.4 1207.0,1118.6 1208.0,1116.8 1208.9,1118.7 1209.9,1104.6 1210.8,1112.9 1211.8,1126.7 1212.7,1124.7 1213.7,1115.1 1214.6,1116.0 1215.6,1117.4 1216.5,1123.6 1217.5,1126.5 1218.4,1118.2 1219.4,1117.9 1220.3,1116.0 1221.3,1118.5 1222.2,1128.8 1223.2,1111.4 1224.1,1120.7 1225.1,1107.9 1226.0,1108.3"/>
<polyline clip-path="url(#cr)" stroke="#0000ff" points="1260.0,1067.9 1260.5,1110.5 1261.0,1066.0 1261.5,1108.4 1262.0,1067.6 1262.5,1108.6 1263.0,1069.1 1263.5,1109.9 1264.0,1066.7 1264.5,1111.3 1265.0,1068.4 1265.5,1109.5 1266.0,1069.0 1266.5,1111.6 1267.0,1068.8 1267.5,1113.8 1268.0,1067.6 1268.5,1111.2 1269.0,1065.7 1269.5,1111.6 1270.0,1066.7 1270.5,1109.7 1271.0,1067.9 1271.5,1111.3 1272.0,1067.7 1272.5,1110.8 1273.0,1067.3 1273.5,1108.4 1274.0,1070.5 1274.5,1110.4 1275.0,1068.3 1275.5,1108.7 1276.0,1066.9 1276.5,1111.5 1277.0,1067.5 1277.5,1109.5 1278.0,1067.5 1278.5,1103.8 1279.0,1100.9 1279.5,1092.3 1280.0,1084.7 1280.5,1082.2 1281.0,1087.7 1281.5,1086.2 1282.0,1076.2 1282.5,1085.1 1283.0,1067.4 1283.5,1060.1 1284.0,1043.8 1284.5,1010.3 1285.0,994.5 1285.5,959.3 1286.0,923.7 1286.3,930.1 1286.5,933.7 1287.0,951.9 1287.5,980.6 1288.0,991.1 1288.5,1016.1 1289.0,1025.0 1289.5,1032.9 1290.0,1031.8 1290.5,1031.6 1291.0,1019.7 1291.5,1001.1 1292.0,1009.0 1292.5,1020.9 1293.0,1027.4 1293.5,1032.4 1294.0,1051.4 1294.5,1065.0 1295.0,1064.6 1295.5,1079.8 1296.0,1077.7 1296.5,1093.8 1297.0,1096.0 1297.5,1093.8 1298.0,1088.5 1298.5,1099.3 1299.0,1095.0 1299.5,1095.7 1300.0,1107.4 1300.5,1097.1 1301.0,1094.2 1301.5,1107.9 1302.0,1114.5 1302.5,1114.0 1303.0,1109.6 1303.5,1117.9 1304.0,1103.6 1304.5,1119.3 1305.0,1119.2 1305.5,1104.9 1306.0,1109.7 1306.5,1099.8 1307.0,1101.7 1307.5,1111.6 1308.0,1101.4 1308.5,1110.0 1309.0,1111.7 1309.5,1110.0 1310.0,1115.3 1310.5,1121.4 1311.0,1111.0 1311.5,1116.2 1312.0,1119.4 1312.5,1107.8 1313.0,1106.7 1313.5,1096.3 1314.0,1113.8 1314.5,1117.7 1315.0,1114.2 1315.5,1124.4 1316.0,1121.1 1316.5,1117.0 1317.0,1112.0 1317.5,1107.1 1318.0,1113.2 1318.5,1115.8 1319.0,1112.5 1319.5,1111.2 1320.0,1110.9 1320.5,1117.6 1321.0,1103.2 1321.5,1111.8 1322.0,1114.3 1322.5,1118.2 1323.0,1118.4 1323.5,1112.9 1324.0,1110.9 1324.5,1107.5 1325.0,1121.8 1325.5,1118.4 1326.0,1116.3 1326.5,1110.8 1327.0,1108.5 1327.5,1122.5 1328.0,1115.5 1328.5,1118.6 1329.0,1126.7 1329.5,1106.8 1330.0,1111.5 1330.5,1118.5 1331.0,1120.2 1331.5,1110.3 1332.0,1116.2 1332.5,1113.2 1333.0,1113.5 1333.5,1119.4 1334.0,1118.4 1334.5,1124.5 1335.0,1121.2 1335.5,1126.7 1336.0,1112.8 1336.5,1120.4 1337.0,1109.4 1337.5,1108.0 1338.0,1109.8 1338.5,1122.6 1339.0,1119.7 1339.5,1108.7 1340.0,1126.6 1340.5,1124.6 1341.0,1117.7 1341.5,1117.4 1342.0,1118.9 1342.5,1111.7 1343.0,1133.3 1343.5,1116.4 1344.0,1118.1 1344.5,1117.4 1345.0,1115.4 1345.5,1114.0 1346.0,1121.6 1346.5,1112.2 1347.0,1113.4 1347.5,1114.9 1348.0,1124.8 1348.5,1113.9 1349.0,1114.0 1349.5,1122.1 1350.0,1113.3 1350.5,1118.3 1351.0,1125.7 1351.5,1122.9 1352.0,1120.7 1352.5,1129.8 1353.0,1118.1 1353.5,1117.1 1354.0,1110.2 1354.5,1121.1 1355.0,1124.8 1355.5,1117.0 1356.0,1132.5 1356.5,1127.4 1357.0,1126.9 1357.5,1114.0 1358.0,1123.2 1358.5,1123.7 1359.0,1109.2 1359.5,1121.5 1360.0,1120.3 1360.5,1111.3 1361.0,1124.9 1361.5,1134.4 1362.0,1126.6 1362.5,1117.0 1363.0,1120.6 1363.5,1129.1 1364.0,1117.3 1364.5,1124.6 1365.0,1122.7 1365.5,1123.7 1366.0,1132.7 1366.5,1113.5 1367.0,1129.9 1367.5,1124.5 1368.0,1122.4 1368.5,1113.0 1369.0,1125.0 1369.5,1120.8 1370.0,1105.5 1370.5,1115.1 1371.0,1116.2 1371.5,1117.4 1372.0,1119.9 1372.5,1118.6 1373.0,1133.2 1373.5,1130.3 1374.0,1123.4 1374.5,1132.4 1375.0,1137.1 1375.5,1127.1 1376.0,1116.2 1376.5,1126.6 1377.0,1133.1 1377.5,1118.4 1378.0,1124.5 1378.5,1130.3 1379.0,1131.9 1379.5,1130.0 1380.0,1127.1 1380.5,1124.1 1381.0,1121.6 1381.5,1131.2 1382.0,1130.8 1382.5,1122.3 1383.0,1121.1 1383.5,1133.0 1384.0,1131.6 1384.5,1120.9 1385.0,1115.6 1385.5,1126.4 1386.0,1130.7 1386.5,1131.7 1387.0,1130.9 1387.5,1116.6 1388.0,1126.4 1388.5,1123.8 1389.0,1121.7 1389.5,1142.3 1390.0,1126.4 1390.5,1128.0 1391.0,1124.7 1391.5,1130.8 1392.0,1133.8 1392.5,1125.0 1393.0,1126.6 1393.5,1124.2 1394.0,1120.8 1394.5,1125.9 1395.0,1129.2 1395.5,1127.3 1396.0,1125.8 1396.5,1115.9 1397.0,1129.4 1397.5,1128.5 1398.0,1136.9 1398.5,1123.7 1399.0,1119.3 1399.5,1116.0 1400.0,1123.9 1400.5,1127.4 1401.0,1129.3 1401.5,1118.2 1402.0,1124.3 1402.5,1133.9 1403.0,1128.2 1403.5,1125.7 1404.0,1125.6 1404.5,1118.2 1405.0,1119.3 1405.5,1124.6 1406.0,1135.3 1406.5,1134.8 1407.0,1126.9 1407.5,1131.6 1408.0,1130.4 1408.5,1134.9 1409.0,1123.6 1409.5,1129.5 1410.0,1133.7 1410.5,1120.2 1411.0,1127.5 1411.5,1129.4 1412.0,1130.5 1412.5,1131.1 1413.0,1131.6 1413.5,1134.1 1414.0,1136.5 1414.5,1130.3 1415.0,1141.4 1415.5,1125.2 1416.0,1126.9 1416.5,1130.1 1417.0,1123.3 1417.5,1119.1 1418.0,1120.1 1418.5,1135.2 1419.0,1124.1 1419.5,1120.0 1420.0,1139.6 1420.5,1130.4 1421.0,1129.3 1421.5,1122.3 1422.0,1129.8 1422.5,1125.0 1423.0,1129.6 1423.5,1128.0 1424.0,1126.7 1424.5,1129.4 1425.0,1122.6 1425.5,1125.5 1426.0,1123.3 1426.5,1130.5 1427.0,1132.4 1427.5,1133.0 1428.0,1116.4 1428.5,1138.6 1429.0,1126.8 1429.5,1127.4 1430.0,1127.8 1430.5,1127.8 1431.0,1135.8 1431.5,1128.9 1432.0,1130.0 1432.5,1133.9 1433.0,1136.2 1433.5,1122.0 1434.0,1120.8 1434.5,1116.5 1435.0,1116.6 1435.5,1130.1 1436.0,1128.8 1436.5,1128.1 1437.0,1130.3 1437.5,1130.1 1438.0,1135.6 1438.5,1138.7 1439.0,1123.4 1439.5,1137.4 1440.0,1134.8 1440.5,1123.5 1441.0,1129.5 1441.5,1125.8 1442.0,1118.1 1442.5,1128.7 1443.0,1118.6 1443.5,1128.7 1444.0,1122.2 1444.5,1126.5 1445.0,1133.4 1445.5,1129.2 1446.0,1123.6 1446.5,1129.9 1447.0,1132.7 1447.5,1134.4 1448.0,1123.5 1448.5,1135.4 1449.0,1127.5 1449.5,1125.2 1450.0,1135.7 1450.5,1132.4 1451.0,1132.7 1451.5,1129.4 1452.0,1117.7 1452.5,1131.4 1453.0,1132.0 1453.5,1127.9 1454.0,1138.9 1454.5,1129.4 1455.0,1139.0 1455.5,1135.9 1456.0,1124.6 1456.5,1123.7 1457.0,1126.8 1457.5,1128.5 1458.0,1133.0 1458.5,1125.1 1459.0,1122.4 1459.5,1141.8 1460.0,1129.1 1460.5,1130.6 1461.0,1139.5 1461.5,1129.6 1462.0,1114.8 1462.5,1131.8 1463.0,1125.2 1463.5,1135.0 1464.0,1118.0 1464.5,1130.1 1465.0,1133.9 1465.5,1137.6 1466.0,1134.9 1466.5,1134.7 1467.0,1129.0 1467.5,1128.9 1468.0,1123.0 1468.5,1134.9 1469.0,1138.5 1469.5,1132.8 1470.0,1123.8 1470.5,1120.6 1471.0,1126.0 1471.5,1138.7 1472.0,1130.1 1472.5,1123.2 1473.0,1127.0 1473.5,1134.1 1474.0,1125.2 1474.5,1126.3 1475.0,1125.9 1475.5,1123.7 1476.0,1141.0 1476.5,1124.3 1477.0,1130.8 1477.5,1136.4 1478.0,1128.5 1478.5,1126.7 1479.0,1128.3 1479.5,1129.2 1480.0,1128.0 1480.5,1126.6 1481.0,1126.9 1481.5,1129.9 1482.0,1139.9 1482.5,1126.8 1483.0,1134.1 1483.5,1128.1 1484.0,1123.4 1484.5,1122.3 1485.0,1131.3 1485.5,1121.4 1486.0,1132.0 1486.5,1127.3 1487.0,1139.6 1487.5,1123.0 1488.0,1136.0 1488.5,1137.8 1489.0,1134.4 1489.5,1126.2 1490.0,1131.5 1490.5,1130.2 1491.0,1128.5 1491.5,1134.9 1492.0,1129.0 1492.5,1130.9 1493.0,1136.0 1493.5,1128.8 1494.0,1127.2 1494.5,1130.7 1495.0,1126.4 1495.5,1115.4 1496.0,1126.4 1496.5,1128.4 1497.0,1122.3 1497.5,1118.1 1498.0,1132.2 1498.5,1125.5 1499.0,1133.3 1499.5,1132.3 1500.0,1138.7 1500.5,1133.0 1501.0,1135.0 1501.5,1137.8 1502.0,1127.4 1502.5,1136.3 1503.0,1136.8 1503.5,1118.6 1504.0,1123.1 1504.5,1130.4 1505.0,1140.0 1505.5,1127.5 1506.0,1121.7 1506.5,1119.9 1507.0,1131.4 1507.5,1130.8 1508.0,1125.5 1508.5,1131.2 1509.0,1127.2 1509.5,1136.4 1510.0,1120.9 1510.5,1126.5 1511.0,1136.2 1511.5,1125.6 1512.0,1124.1 1512.5,1127.6 1513.0,1140.6 1513.5,1131.0 1514.0,1138.0 1514.5,1123.8 1515.0,1128.2 1515.5,1133.6 1516.0,1130.9 1516.5,1126.1 1517.0,1115.8 1517.5,1132.6 1518.0,1133.9 1518.5,1132.2 1519.0,1119.0 1519.5,1120.7 1520.0,1125.7 1520.5,1123.1 1521.0,1135.7 1521.5,1122.6 1522.0,1127.2 1522.5,1122.5 1523.0,1118.7 1523.5,1135.3 1524.0,1130.2 1524.5,1125.0 1525.0,1129.4 1525.5,1116.0 1526.0,1138.8 1526.5,1122.9 1527.0,1117.6 1527.5,1122.8 1528.0,1130.6 1528.5,1129.3 1529.0,1133.3 1529.5,1133.5 1530.0,1129.5 1530.5,1135.5 1531.0,1118.1 1531.5,1132.1 1532.0,1132.1 1532.5,1131.4 1533.0,1128.3 1533.5,1126.0 1534.0,1125.6 1534.5,1118.9 1535.0,1126.2 1535.5,1135.8 1536.0,1138.1 1536.5,1126.4 1537.0,1126.0 1537.5,1126.2 1538.0,1128.4 1538.5,1129.3 1539.0,1132.2 1539.5,1138.0 1540.0,1117.0 1540.5,1122.8 1541.0,1126.4 1541.5,1128.9 1542.0,1131.7 1542.5,1140.1 1543.0,1123.7 1543.5,1133.3 1544.0,1128.8 1544.5,1129.8 1545.0,1131.3 1545.5,1134.6 1546.0,1130.2 1546.5,1122.7 1547.0,1132.3 1547.5,1132.4 1548.0,1120.0 1548.5,1132.1 1549.0,1129.0 1549.5,1128.4 1550.0,1130.0 1550.5,1140.1 1551.0,1119.4 1551.5,1130.6 1552.0,1118.1 1552.5,1129.6 1553.0,1135.1 1553.5,1118.4 1554.0,1136.5 1554.5,1132.4 1555.0,1128.8 1555.5,1128.5 1556.0,1129.5 1556.5,1130.0 1557.0,1129.4 1557.5,1136.1 1558.0,1134.6 1558.5,1124.3 1559.0,1136.4 1559.5,1141.0 1560.0,1139.7 1560.5,1131.7 1561.0,1120.3 1561.5,1126.8 1562.0,1129.3 1562.5,1129.5 1563.0,1121.1 1563.5,1133.8 1564.0,1135.6 1564.5,1121.9 1565.0,1125.6 1565.5,1124.1 1566.0,1130.5 1566.5,1137.3 1567.0,1117.6 1567.5,1140.0 1568.0,1136.4 1568.5,1122.4 1569.0,1140.4 1569.5,1137.7 1570.0,1133.8 1570.5,1132.5 1571.0,1125.0 1571.5,1133.5 1572.0,1125.5 1572.5,1130.9 1573.0,1136.9 1573.5,1128.3 1574.0,1126.6 1574.5,1133.8 1575.0,1136.4 1575.5,1136.6 1576.0,1129.2 1576.5,1139.1 1577.0,1140.7 1577.5,1128.5 1578.0,1134.2 1578.5,1119.6 1579.0,1129.6 1579.5,1124.1 1580.0,1131.3 1580.5,1126.7 1581.0,1116.1 1581.5,1134.2 1582.0,1124.2 1582.5,1137.7 1583.0,1139.4 1583.5,1134.0 1584.0,1130.0 1584.5,1131.9 1585.0,1121.7 1585.5,1131.0 1586.0,1136.4 1586.5,1134.8 1587.0,1124.1 1587.5,1139.7 1588.0,1133.6 1588.5,1124.6 1589.0,1133.2 1589.5,1124.6 1590.0,1127.4 1590.5,1130.7 1591.0,1141.8 1591.5,1145.7 1592.0,1121.1 1592.5,1129.9 1593.0,1129.3 1593.5,1134.3 1594.0,1132.5 1594.5,1126.5 1595.0,1132.2 1595.5,1126.2 1596.0,1125.1 1596.5,1133.6 1597.0,1131.2 1597.5,1126.4 1598.0,1134.1 1598.5,1127.6 1599.0,1125.3 1599.5,1129.3 1600.0,1133.8 1600.5,1126.2 1601.0,1138.8 1601.5,1128.5 1602.0,1131.8 1602.5,1134.8 1603.0,1129.9 1603.5,1126.0 1604.0,1128.7 1604.5,1135.7 1605.0,1137.6 1605.5,1133.8 1606.0,1127.1 1606.5,1123.9 1607.0,1126.3 1607.5,1127.0 1608.0,1131.2 1608.5,1129.6 1609.0,1124.9 1609.5,1133.9 1610.0,1125.2 1610.5,1130.0 1611.0,1124.9 1611.5,1135.7 1612.0,1131.7 1612.5,1130.3 1613.0,1135.7 1613.5,1134.6 1614.0,1120.7 1614.5,1129.5 1615.0,1121.7 1615.5,1124.0 1616.0,1124.5 1616.5,1117.8 1617.0,1118.3 1617.5,1125.5 1618.0,1124.4 1618.5,1125.5 1619.0,1119.7 1619.5,1115.9 1620.0,1113.6 1620.5,1110.5 1621.0,1104.5 1621.5,1107.3 1622.0,1100.0 1622.5,1100.5 1623.0,1100.0 1623.5,1113.0 1624.0,1111.2 1624.5,1116.6 1625.0,1120.9 1625.5,1116.7 1626.0,1124.8 1626.5,1125.0 1627.0,1125.5 1627.5,1114.9 1628.0,1133.2 1628.5,1130.6 1629.0,1131.5 1629.5,1138.6 1630.0,1122.3 1630.5,1140.5 1631.0,1127.8 1631.5,1134.7 1632.0,1136.6 1632.5,1123.5 1633.0,1131.5 1633.5,1126.4 1634.0,1132.7 1634.5,1121.4 1635.0,1140.4 1635.5,1132.9 1636.0,1128.9 1636.5,1125.3 1637.0,1138.6 1637.5,1127.5 1638.0,1135.4 1638.5,1123.5 1639.0,1134.0 1639.5,1119.4 1640.0,1132.8 1640.5,1124.8 1641.0,1124.6 1641.5,1136.4 1642.0,1135.0 1642.5,1127.1 1643.0,1126.3 1643.5,1137.3 1644.0,1121.7 1644.5,1129.1 1645.0,1126.5 1645.5,1130.9 1646.0,1130.5 1646.5,1129.9 1647.0,1123.6 1647.5,1132.5 1648.0,1133.8 1648.5,1128.4 1649.0,1141.4 1649.5,1128.3 1650.0,1131.1 1650.5,1142.9 1651.0,1129.4 1651.5,1130.4 1652.0,1122.2 1652.5,1131.3 1653.0,1128.6 1653.5,1133.0 1654.0,1124.7 1654.5,1138.5 1655.0,1134.4 1655.5,1136.7 1656.0,1129.1 1656.5,1120.7 1657.0,1133.4 1657.5,1131.2 1658.0,1128.5 1658.5,1141.2 1659.0,1133.2 1659.5,1132.3 1660.0,1134.3 1660.5,1133.6 1661.0,1134.1 1661.5,1136.4 1662.0,1132.3 1662.5,1129.0 1663.0,1126.8 1663.5,1133.1 1664.0,1134.7 1664.5,1136.5 1665.0,1126.9 1665.5,1122.7 1666.0,1123.1 1666.5,1140.6 1667.0,1135.5 1667.5,1131.8 1668.0,1130.0 1668.5,1145.1 1669.0,1136.7 1669.5,1136.2 1670.0,1128.7 1670.5,1139.0 1671.0,1129.6 1671.5,1127.4 1672.0,1140.3 1672.5,1134.2 1673.0,1136.2 1673.5,1123.2 1674.0,1129.8 1674.5,1126.9 1675.0,1133.3 1675.5,1131.4 1676.0,1131.9 1676.5,1127.4 1677.0,1140.4 1677.5,1124.1 1678.0,1134.7 1678.5,1131.7 1679.0,1138.1 1679.5,1126.1 1680.0,1138.1 1680.5,1126.9 1681.0,1133.4 1681.5,1130.7 1682.0,1146.3 1682.5,1124.1 1683.0,1127.9 1683.5,1120.8 1684.0,1125.5 1684.5,1130.6 1685.0,1129.4 1685.5,1126.6 1686.0,1127.5 1686.5,1130.3 1687.0,1132.3 1687.5,1141.7 1688.0,1134.1 1688.5,1131.4 1689.0,1129.5 1689.5,1135.8 1690.0,1139.7 1690.5,1130.1 1691.0,1137.6 1691.5,1134.9 1692.0,1119.0 1692.5,1143.6 1693.0,1137.5 1693.5,1123.5 1694.0,1120.2 1694.5,1133.2 1695.0,1129.0 1695.5,1135.2 1696.0,1129.7 1696.5,1139.7 1697.0,1128.8 1697.5,1134.8 1698.0,1136.4 1698.5,1130.6 1699.0,1137.9 1699.5,1133.2 1700.0,1132.5 1700.5,1131.2 1701.0,1118.1 1701.5,1126.4 1702.0,1143.6 1702.5,1130.3 1703.0,1127.8 1703.5,1131.4 1704.0,1131.3 1704.5,1145.0 1705.0,1126.1 1705.5,1128.4 1706.0,1136.4 1706.5,1122.2 1707.0,1123.2 1707.5,1125.2 1708.0,1128.6 1708.5,1138.7 1709.0,1140.5 1709.5,1135.7 1710.0,1144.2 1710.5,1121.9 1711.0,1138.9 1711.5,1128.8 1712.0,1135.6 1712.5,1131.2 1713.0,1124.6 1713.5,1139.4 1714.0,1141.0 1714.5,1134.4 1715.0,1128.3 1715.5,1144.4 1716.0,1119.7 1716.5,1134.1 1717.0,1128.0 1717.5,1129.0 1718.0,1138.4 1718.5,1130.5 1719.0,1138.6 1719.5,1134.4 1720.0,1140.8 1720.5,1138.3 1721.0,1137.8 1721.5,1133.3 1722.0,1132.8 1722.5,1127.8 1723.0,1135.5 1723.5,1137.0 1724.0,1129.4 1724.5,1135.2 1725.0,1129.0 1725.5,1132.9 1726.0,1127.3 1726.5,1133.2 1727.0,1138.8 1727.5,1134.6 1728.0,1123.9 1728.5,1136.6 1729.0,1131.4 1729.5,1139.8 1730.0,1136.8 1730.5,1136.7 1731.0,1131.6 1731.5,1133.9 1732.0,1129.2 1732.5,1133.6 1733.0,1137.1 1733.5,1125.5 1734.0,1131.5 1734.5,1136.9 1735.0,1127.9 1735.5,1132.4 1736.0,1135.6 1736.5,1134.8 1737.0,1136.2 1737.5,1137.0 1738.0,1139.2 1738.5,1131.7 1739.0,1135.6 1739.5,1135.2 1740.0,1127.4 1740.5,1131.2 1741.0,1136.8 1741.5,1134.9 1742.0,1136.6 1742.5,1133.2 1743.0,1133.1 1743.5,1137.8 1744.0,1123.9 1744.5,1125.3 1745.0,1133.4 1745.5,1134.5 1746.0,1136.4 1746.5,1136.4 1747.0,1134.2 1747.5,1127.8 1748.0,1135.7 1748.5,1134.2 1749.0,1128.6 1749.5,1125.5 1750.0,1131.2 1750.5,1136.3 1751.0,1133.3 1751.5,1138.5 1752.0,1131.5 1752.5,1130.0 1753.0,1130.5 1753.5,1133.4 1754.0,1134.5 1754.5,1137.3 1755.0,1132.7 1755.5,1128.0 1756.0,1129.7 1756.5,1134.3 1757.0,1132.7 1757.5,1134.0 1758.0,1130.7 1758.5,1131.4 1759.0,1131.2 1759.5,1130.6 1760.0,1134.0 1760.5,1140.4 1761.0,1133.3 1761.5,1133.9 1762.0,1125.2 1762.5,1135.5 1763.0,1132.2 1763.5,1139.0 1764.0,1135.5 1764.5,1139.4 1765.0,1129.2 1765.5,1136.4 1766.0,1137.2 1766.5,1131.8 1767.0,1138.5 1767.5,1127.7 1768.0,1134.6 1768.5,1131.6 1769.0,1137.0 1769.5,1125.1 1770.0,1137.2 1770.5,1140.7 1771.0,1129.1 1771.5,1137.5 1772.0,1129.9 1772.5,1137.4 1773.0,1138.5 1773.5,1128.6 1774.0,1140.7 1774.5,1133.2 1775.0,1133.9 1775.5,1137.0 1776.0,1137.8 1776.5,1134.0 1777.0,1136.5 1777.5,1136.6 1778.0,1129.1 1778.5,1135.0 1779.0,1134.8 1779.5,1134.0 1780.0,1136.8 1780.5,1131.7 1781.0,1126.3 1781.5,1136.6 1782.0,1135.5 1782.5,1133.8 1783.0,1131.8 1783.5,1143.3 1784.0,1134.3 1784.5,1129.4 1785.0,1135.2 1785.5,1136.1 1786.0,1127.9 1786.5,1136.6 1787.0,1124.9 1787.5,1132.1 1788.0,1137.5 1788.5,1138.6 1789.0,1135.5 1789.5,1137.2 1790.0,1130.3 1790.5,1134.2 1791.0,1136.8 1791.5,1126.5 1792.0,1135.1 1792.5,1136.6 1793.0,1138.6 1793.5,1137.2 1794.0,1138.3 1794.5,1137.6 1795.0,1130.1 1795.5,1130.0 1796.0,1131.4 1796.5,1128.6 1797.0,1137.4 1797.5,1141.2 1798.0,1139.5 1798.5,1134.9 1799.0,1138.5 1799.5,1134.2 1800.0,1136.0 1800.5,1138.8 1801.0,1129.5 1801.5,1131.4 1802.0,1135.7 1802.5,1146.5 1803.0,1136.7 1803.5,1137.3 1804.0,1140.1 1804.5,1131.9 1805.0,1124.9 1805.5,1129.0 1806.0,1129.6 1806.5,1118.0 1807.0,1132.8 1807.5,1132.8 1808.0,1132.8 1808.5,1132.6 1809.0,1133.3 1809.5,1133.9 1810.0,1138.6 1810.5,1134.4 1811.0,1127.4 1811.5,1137.0 1812.0,1135.7 1812.5,1132.0 1813.0,1134.5 1813.5,1130.8 1814.0,1143.2 1814.5,1138.4 1815.0,1134.8 1815.5,1130.0 1816.0,1136.4 1816.5,1136.3 1817.0,1133.9 1817.5,1132.5 1818.0,1142.2 1818.5,1132.1 1819.0,1137.7 1819.5,1139.0 1820.0,1129.1 1820.5,1134.7 1821.0,1138.1 1821.5,1134.1 1822.0,1127.6 1822.5,1136.5 1823.0,1142.5 1823.5,1135.9 1824.0,1135.3 1824.5,1130.7 1825.0,1133.1 1825.5,1135.9 1826.0,1128.3 1826.5,1130.0 1827.0,1134.1 1827.5,1133.8 1828.0,1134.3 1828.5,1133.6 1829.0,1139.8 1829.5,1133.4 1830.0,1133.7 1830.5,1130.4 1831.0,1130.3 1831.5,1133.4 1832.0,1144.7 1832.5,1138.7 1833.0,1128.4 1833.5,1140.7 1834.0,1134.0 1834.5,1128.6 1835.0,1135.2 1835.5,1129.9 1836.0,1131.1 1836.5,1129.8 1837.0,1133.3 1837.5,1125.4 1838.0,1138.1 1838.5,1141.0 1839.0,1133.3 1839.5,1134.2 1840.0,1135.8 1840.5,1133.1 1841.0,1132.9 1841.5,1136.9 1842.0,1138.4 1842.5,1132.4 1843.0,1137.0 1843.5,1135.4 1844.0,1131.5 1844.5,1133.8 1845.0,1126.1 1845.5,1129.3 1846.0,1135.3 1846.5,1136.4 1847.0,1138.5 1847.5,1140.2 1848.0,1129.4 1848.5,1135.3 1849.0,1127.2 1849.5,1133.7 1850.0,1131.6 1850.5,1135.8 1851.0,1133.5 1851.5,1134.2 1852.0,1131.6 1852.5,1133.9 1853.0,1139.5 1853.5,1137.3 1854.0,1134.2 1854.5,1127.1 1855.0,1126.6 1855.5,1133.8 1856.0,1135.5 1856.5,1136.5 1857.0,1135.1 1857.5,1130.8 1858.0,1126.9 1858.5,1137.5 1859.0,1136.4 1859.5,1139.1 1860.0,1127.1 1860.5,1136.7 1861.0,1137.0 1861.5,1129.5 1862.0,1129.9 1862.5,1129.7 1863.0,1130.6 1863.5,1133.6 1864.0,1132.4 1864.5,1139.7 1865.0,1135.8 1865.5,1131.5 1866.0,1135.0 1866.5,1131.0 1867.0,1124.7 1867.5,1135.4 1868.0,1131.7 1868.5,1139.3 1869.0,1133.7 1869.5,1139.9 1870.0,1137.6 1870.5,1127.7 1871.0,1141.2 1871.5,1132.4 1872.0,1133.9 1872.5,1129.4 1873.0,1131.8 1873.5,1145.3 1874.0,1134.8 1874.5,1119.1 1875.0,1141.6 1875.5,1135.1 1876.0,1131.5 1876.5,1137.0 1877.0,1135.8 1877.5,1131.4 1878.0,1140.7 1878.5,1136.6 1879.0,1139.0 1879.5,1135.1 1880.0,1134.1 1880.5,1134.9 1881.0,1130.0 1881.5,1130.5 1882.0,1138.0 1882.5,1133.8 1883.0,1136.7 1883.5,1134.1 1884.0,1132.2 1884.5,1138.7 1885.0,1131.7 1885.5,1130.2 1886.0,1134.1 1886.5,1138.6 1887.0,1138.6 1887.5,1129.5 1888.0,1129.7 1888.5,1131.8 1889.0,1129.8 1889.5,1134.0 1890.0,1137.7 1890.5,1132.7 1891.0,1126.5 1891.5,1126.2 1892.0,1127.0 1892.5,1131.9 1893.0,1135.9 1893.5,1127.0 1894.0,1135.5 1894.5,1136.6 1895.0,1144.5 1895.5,1129.2 1896.0,1134.3 1896.5,1137.0 1897.0,1135.9 1897.5,1137.7 1898.0,1135.7 1898.5,1137.3 1899.0,1133.5 1899.5,1133.8 1900.0,1126.8 1900.5,1142.8 1901.0,1128.3 1901.5,1134.8 1902.0,1134.9 1902.5,1130.6 1903.0,1127.3 1903.5,1135.3 1904.0,1127.0 1904.5,1138.9 1905.0,1145.9 1905.5,1140.2 1906.0,1123.1 1906.5,1136.2 1907.0,1134.7 1907.5,1133.5 1908.0,1138.1 1908.5,1132.3 1909.0,1136.8 1909.5,1131.5 1910.0,1130.0 1910.5,1136.9 1911.0,1139.1 1911.5,1131.9 1912.0,1141.4 1912.5,1133.7 1913.0,1130.6 1913.5,1131.3 1914.0,1131.8 1914.5,1137.6 1915.0,1137.8 1915.5,1116.0 1916.0,1140.5 1916.5,1130.6 1917.0,1136.5 1917.5,1135.8 1918.0,1125.2 1918.5,1136.0 1919.0,1132.5 1919.5,1141.3 1920.0,1132.6 1920.5,1140.5 1921.0,1136.9 1921.5,1128.2 1922.0,1139.6 1922.5,1137.7 1923.0,1136.3 1923.5,1134.1 1924.0,1142.9 1924.5,1133.6 1925.0,1139.9 1925.5,1137.6 1926.0,1134.2 1926.5,1131.7 1927.0,1136.5 1927.5,1134.7 1928.0,1129.9 1928.5,1136.7 1929.0,1137.4 1929.5,1135.3 1930.0,1127.5 1930.5,1137.5 1931.0,1133.7 1931.5,1138.6 1932.0,1133.5 1932.5,1132.1 1933.0,1134.3 1933.5,1134.6 1934.0,1144.3 1934.5,1130.5 1935.0,1128.3 1935.5,1134.1 1936.0,1134.5 1936.5,1126.8 1937.0,1127.4 1937.5,1130.8 1938.0,1133.5 1938.5,1133.3 1939.0,1138.2 1939.5,1134.4 1940.0,1131.3 1940.5,1134.2 1941.0,1135.8 1941.5,1137.1 1942.0,1122.2 1942.5,1134.7 1943.0,1135.8 1943.5,1140.8 1944.0,1133.0 1944.5,1135.1 1945.0,1127.6 1945.5,1138.0 1946.0,1138.9 1946.5,1130.7 1947.0,1135.0 1947.5,1132.5 1948.0,1139.2 1948.5,1133.5 1949.0,1135.4 1949.5,1135.6 1950.0,1133.1 1950.5,1135.5 1951.0,1141.7 1951.5,1134.6 1952.0,1131.4 1952.5,1139.7 1953.0,1143.0 1953.5,1138.9 1954.0,1134.9 1954.5,1134.7 1955.0,1137.5 1955.5,1139.3 1956.0,1147.4 1956.5,1145.1 1957.0,1130.3 1957.5,1138.3 1958.0,1141.2 1958.5,1137.9 1959.0,1134.5 1959.5,1132.0 1960.0,1137.6 1960.5,1137.9 1961.0,1136.4 1961.5,1131.0 1962.0,1126.5 1962.5,1142.2 1963.0,1130.6 1963.5,1134.1 1964.0,1128.9 1964.5,1139.0 1965.0,1132.8 1965.5,1135.2 1966.0,1145.9 1966.5,1139.4 1967.0,1136.4 1967.5,1127.0 1968.0,1139.2 1968.5,1139.2 1969.0,1140.0 1969.5,1136.3 1970.0,1129.3 1970.5,1132.5 1971.0,1139.3 1971.5,1138.8 1972.0,1137.7 1972.5,1145.1 1973.0,1139.9 1973.5,1136.1 1974.0,1136.3 1974.5,1127.5 1975.0,1132.7 1975.5,1139.3 1976.0,1127.4 1976.5,1136.5 1977.0,1139.3 1977.5,1133.7 1978.0,1137.7 1978.5,1130.8 1979.0,1142.8 1979.5,1133.4 1980.0,1125.1 1980.5,1137.0 1981.0,1132.9 1981.5,1116.0 1982.0,1138.1 1982.5,1133.4 1983.0,1141.9 1983.5,1133.5 1984.0,1129.2 1984.5,1140.0 1985.0,1141.2 1985.5,1133.8 1986.0,1139.3 1986.5,1143.0 1987.0,1132.0 1987.5,1121.4 1988.0,1137.4 1988.5,1133.7 1989.0,1139.0 1989.5,1135.8 1990.0,1133.0 1990.5,1130.3 1991.0,1129.7 1991.5,1132.4 1992.0,1130.7 1992.5,1138.4 1993.0,1138.0 1993.5,1132.1 1994.0,1140.2 1994.5,1133.3 1995.0,1132.7 1995.5,1138.8 1996.0,1136.1 1996.5,1132.3 1997.0,1138.6 1997.5,1142.3 1998.0,1129.1 1998.5,1133.7 1999.0,1125.6 1999.5,1134.5 2000.0,1145.9 2000.5,1136.0 2001.0,1134.3 2001.5,1135.7 2002.0,1130.6 2002.5,1135.7 2003.0,1133.3 2003.5,1131.5 2004.0,1138.8 2004.5,1133.9 2005.0,1136.1 2005.5,1132.0 2006.0,1135.6 2006.5,1137.5 2007.0,1134.8 2007.5,1141.9 2008.0,1134.8 2008.5,1136.7 2009.0,1134.5 2009.5,1139.3 2010.0,1132.4 2010.5,1130.6 2011.0,1135.2 2011.5,1133.5 2012.0,1132.2 2012.5,1142.0 2013.0,1133.7 2013.5,1136.2 2014.0,1129.5 2014.5,1131.2 2015.0,1133.9 2015.5,1141.6 2016.0,1133.2 2016.5,1136.1 2017.0,1126.2 2017.5,1132.2 2018.0,1133.9 2018.5,1138.7 2019.0,1137.3 2019.5,1127.8 2020.0,1139.4 2020.5,1138.0 2021.0,1138.5 2021.5,1129.9 2022.0,1142.5 2022.5,1126.7 2023.0,1134.6 2023.5,1134.9 2024.0,1137.3 2024.5,1135.8 2025.0,1132.3 2025.5,1142.1 2026.0,1126.3 2026.5,1131.7 2027.0,1133.0 2027.5,1139.5 2028.0,1136.4 2028.5,1127.3 2029.0,1144.6 2029.5,1134.5 2030.0,1140.4 2030.5,1144.0 2031.0,1133.2 2031.5,1136.5 2032.0,1128.3 2032.5,1131.8 2033.0,1142.0 2033.5,1133.8 2034.0,1139.3 2034.5,1134.9 2035.0,1138.2 2035.5,1138.0 2036.0,1144.3 2036.5,1137.6 2037.0,1135.8 2037.5,1137.7 2038.0,1132.4 2038.5,1130.3 2039.0,1123.8 2039.5,1138.1 2040.0,1136.2 2040.5,1133.5 2041.0,1139.1 2041.5,1136.8 2042.0,1133.7 2042.5,1138.3 2043.0,1137.7 2043.5,1138.5 2044.0,1140.2 2044.5,1136.8 2045.0,1138.3 2045.5,1134.7 2046.0,1130.8 2046.5,1134.2 2047.0,1135.2 2047.5,1130.7 2048.0,1134.8 2048.5,1136.4 2049.0,1131.0 2049.5,1134.5 2050.0,1136.0 2050.5,1134.8 2051.0,1140.6 2051.5,1130.3 2052.0,1144.6 2052.5,1133.0 2053.0,1142.7 2053.5,1135.6 2054.0,1143.6 2054.5,1134.8 2055.0,1133.8 2055.5,1129.6 2056.0,1132.5 2056.5,1138.2 2057.0,1135.7 2057.5,1135.9 2058.0,1134.9 2058.5,1134.9 2059.0,1138.0 2059.5,1135.6 2060.0,1131.5 2060.5,1140.0 2061.0,1134.8 2061.5,1134.5 2062.0,1135.9 2062.5,1132.7 2063.0,1132.3 2063.5,1130.3 2064.0,1139.3 2064.5,1128.4 2065.0,1135.9 2065.5,1127.6 2066.0,1128.7 2066.5,1139.5 2067.0,1134.8 2067.5,1137.8 2068.0,1135.2 2068.5,1134.5 2069.0,1138.7 2069.5,1136.3 2070.0,1140.0 2070.5,1138.8 2071.0,1130.8 2071.5,1129.6 2072.0,1141.1 2072.5,1139.9 2073.0,1132.2 2073.5,1139.4 2074.0,1129.6 2074.5,1128.4 2075.0,1139.9 2075.5,1133.4 2076.0,1129.3 2076.5,1130.2 2077.0,1140.2 2077.5,1142.6 2078.0,1133.4 2078.5,1142.7 2079.0,1130.0 2079.5,1122.8 2080.0,1133.7 2080.5,1140.4 2081.0,1135.5 2081.5,1132.8 2082.0,1138.3 2082.5,1133.5 2083.0,1136.2 2083.5,1129.7 2084.0,1138.4 2084.5,1131.0 2085.0,1132.4 2085.5,1143.0 2086.0,1135.2 2086.5,1142.5 2087.0,1128.6 2087.5,1134.5 2088.0,1136.6 2088.5,1139.1 2089.0,1140.9 2089.5,1137.8 2090.0,1139.8 2090.5,1135.7 2091.0,1139.7 2091.5,1139.4 2092.0,1137.1 2092.5,1140.0 2093.0,1135.5 2093.5,1134.4 2094.0,1131.3 2094.5,1133.0 2095.0,1137.0 2095.5,1126.9 2096.0,1137.0 2096.5,1132.9 2097.0,1138.9 2097.5,1130.8 2098.0,1135.2 2098.5,1129.6 2099.0,1132.2 2099.5,1136.3 2100.0,1142.7 2100.5,1137.3 2101.0,1135.6 2101.5,1129.3 2102.0,1137.1 2102.5,1130.8 2103.0,1139.1 2103.5,1138.0 2104.0,1139.1 2104.5,1123.7 2105.0,1129.1 2105.5,1131.1 2106.0,1133.4 2106.5,1133.3 2107.0,1133.6 2107.5,1136.9 2108.0,1138.6 2108.5,1132.6 2109.0,1129.5 2109.5,1134.3 2110.0,1135.3 2110.5,1135.0 2111.0,1129.2 2111.5,1137.2 2112.0,1136.1 2112.5,1136.3 2113.0,1129.6 2113.5,1138.3 2114.0,1134.6 2114.5,1136.2 2115.0,1136.0 2115.5,1129.7 2116.0,1133.5 2116.5,1137.7 2117.0,1134.8 2117.5,1135.8 2118.0,1129.5 2118.5,1127.6 2119.0,1133.3 2119.5,1122.5 2120.0,1138.0 2120.5,1130.0 2121.0,1141.3 2121.5,1130.1 2122.0,1132.6 2122.5,1127.6 2123.0,1126.8 2123.5,1134.2 2124.0,1135.5 2124.5,1126.6 2125.0,1135.2 2125.5,1130.0 2126.0,1128.6 2126.5,1133.1 2127.0,1137.2 2127.5,1130.8 2128.0,1129.4 2128.5,1132.7 2129.0,1128.5 2129.5,1134.1 2130.0,1128.5 2130.5,1130.1 2131.0,1121.8 2131.5,1127.4 2132.0,1122.2 2132.5,1135.6 2133.0,1125.1 2133.5,1128.1 2134.0,1127.5 2134.5,1124.3 2135.0,1122.5 2135.5,1126.1 2136.0,1125.6 2136.5,1121.1 2137.0,1114.5 2137.5,1105.1 2138.0,1099.2 2138.5,1088.3 2139.0,1073.2 2139.5,1033.6 2140.0,977.9 2140.5,923.2 2140.8,912.6 2141.0,918.7 2141.5,975.4 2142.0,1023.8 2142.5,1061.6 2143.0,1077.8 2143.5,1088.0 2144.0,1113.6 2144.5,1117.4 2145.0,1113.9 2145.5,1116.6 2146.0,1110.1 2146.5,1118.3 2147.0,1123.5 2147.5,1105.2 2148.0,1100.3 2148.5,1090.7 2149.0,1065.7 2149.5,1035.2 2150.0,992.4 2150.5,954.4 2150.6,959.3 2151.0,969.3 2151.5,1020.2 2152.0,1057.9 2152.5,1084.4 2153.0,1095.3 2153.5,1101.0 2154.0,1112.4 2154.5,1117.4 2155.0,1127.0 2155.5,1123.3 2156.0,1129.0 2156.5,1126.6 2157.0,1127.8 2157.5,1127.0 2158.0,1122.2 2158.5,1123.3 2159.0,1121.7 2159.5,1129.6 2160.0,1138.1 2160.5,1125.4 2161.0,1136.0 2161.5,1140.3 2162.0,1132.6 2162.5,1136.0 2163.0,1131.6 2163.5,1129.4 2164.0,1129.4 2164.5,1130.3 2165.0,1135.8 2165.5,1134.4 2166.0,1130.4 2166.5,1138.3 2167.0,1134.6 2167.5,1129.4 2168.0,1135.1 2168.5,1140.5 2169.0,1140.0 2169.5,1129.6 2170.0,1136.6 2170.5,1134.7 2171.0,1139.9 2171.5,1143.3 2172.0,1122.7 2172.5,1138.0 2173.0,1128.5 2173.5,1135.1 2174.0,1140.9 2174.5,1140.6 2175.0,1131.5 2175.5,1142.0 2176.0,1132.5 2176.5,1134.5 2177.0,1128.9 2177.5,1132.0 2178.0,1129.3 2178.5,1137.5 2179.0,1131.3 2179.5,1139.0 2180.0,1131.3 2180.5,1139.2 2181.0,1138.0 2181.5,1134.1 2182.0,1137.4 2182.5,1141.2 2183.0,1142.0 2183.5,1133.5 2184.0,1134.4 2184.5,1139.7 2185.0,1147.8 2185.5,1138.2 2186.0,1129.8 2186.5,1131.2 2187.0,1133.7 2187.5,1135.5 2188.0,1128.5 2188.5,1125.7 2189.0,1135.6 2189.5,1133.0 2190.0,1134.9 2190.5,1127.8 2191.0,1131.9 2191.5,1139.3 2192.0,1133.5 2192.5,1129.4 2193.0,1137.9 2193.5,1133.1 2194.0,1138.7 2194.5,1136.6 2195.0,1133.8 2195.5,1133.2 2196.0,1139.1 2196.5,1132.8 2197.0,1136.9 2197.5,1140.5 2198.0,1132.2 2198.5,1132.2 2199.0,1134.6 2199.5,1128.5 2200.0,1136.6 2200.5,1130.9 2201.0,1132.4 2201.5,1128.6 2202.0,1140.0 2202.5,1141.0 2203.0,1135.5 2203.5,1137.6 2204.0,1136.7 2204.5,1139.9 2205.0,1144.1 2205.5,1145.9 2206.0,1137.7 2206.5,1139.5 2207.0,1132.2 2207.5,1138.9 2208.0,1140.5 2208.5,1130.5 2209.0,1133.9 2209.5,1129.1"/>
</g>
<path d="M1210.0 84.8L1243.5 27.8M1243.0 84.8L1276.5 27.8M1210.0 1519.0L1243.5 1462.0M1243.0 1519.0L1276.5 1462.0" stroke="#000" stroke-width="9.3" fill="none"/>
<g class="ax" font-size="76" text-anchor="middle" fill="#000">
<text x="276.0" y="1581">40</text>
<text x="513.6" y="1581">45</text>
<text x="751.3" y="1581">50</text>
<text x="989.0" y="1581">55</text>
<text x="1383.0" y="1581">80</text>
<text x="1796.2" y="1581">100</text>
<text x="2209.5" y="1581">120</text>
</g>
<g class="ax" font-size="71" fill="#000">
<text x="501.5" y="126.9">(111)</text>
<text x="1202.0" y="288.2">(220)</text>
<text x="1538.2" y="372.8">(311)</text>
<text x="2023.5" y="372.6">(400)</text>
</g>
<g class="sf" fill="#000">
<text x="714.4" y="378.6" font-size="82" textLength="302.1" lengthAdjust="spacingAndGlyphs">0 <tspan font-style="italic">π</tspan>·rad·s</text>
<text x="1013.7" y="334.2" font-size="60" textLength="59.2" lengthAdjust="spacingAndGlyphs">−1</text>
<text x="691.7" y="720.5" font-size="82" textLength="346.4" lengthAdjust="spacingAndGlyphs">50 <tspan font-style="italic">π</tspan>·rad·s</text>
<text x="1033.6" y="676.1" font-size="60" textLength="60.3" lengthAdjust="spacingAndGlyphs">−1</text>
<text x="664.2" y="1068.5" font-size="82" textLength="383.8" lengthAdjust="spacingAndGlyphs">100 <tspan font-style="italic">π</tspan>·rad·s</text>
<text x="1045.8" y="1024.1" font-size="60" textLength="61.7" lengthAdjust="spacingAndGlyphs">−1</text>
<text x="681.2" y="1401.5" font-size="82" textLength="383.3" lengthAdjust="spacingAndGlyphs">150 <tspan font-style="italic">π</tspan>·rad·s</text>
<text x="1061.3" y="1357.1" font-size="60" textLength="61.1" lengthAdjust="spacingAndGlyphs">−1</text>
</g>
<text class="sf" font-size="120" x="0" y="0" transform="translate(121,1144.1) rotate(-90)" textLength="740.5" lengthAdjust="spacingAndGlyphs">Intensity / a.u.</text>
<g class="sf" font-size="116"><text transform="translate(1106.5,1723) scale(1.111,1.014)">2</text><text transform="translate(1167.9,1723.3) scale(1.211,1.083)">θ</text><text transform="translate(1264.4,1735.7) scale(1.131,1.245)">/</text><text transform="translate(1329.1,1719.2) scale(1.034,0.956)">°</text></g>
</svg>
</body></html>
